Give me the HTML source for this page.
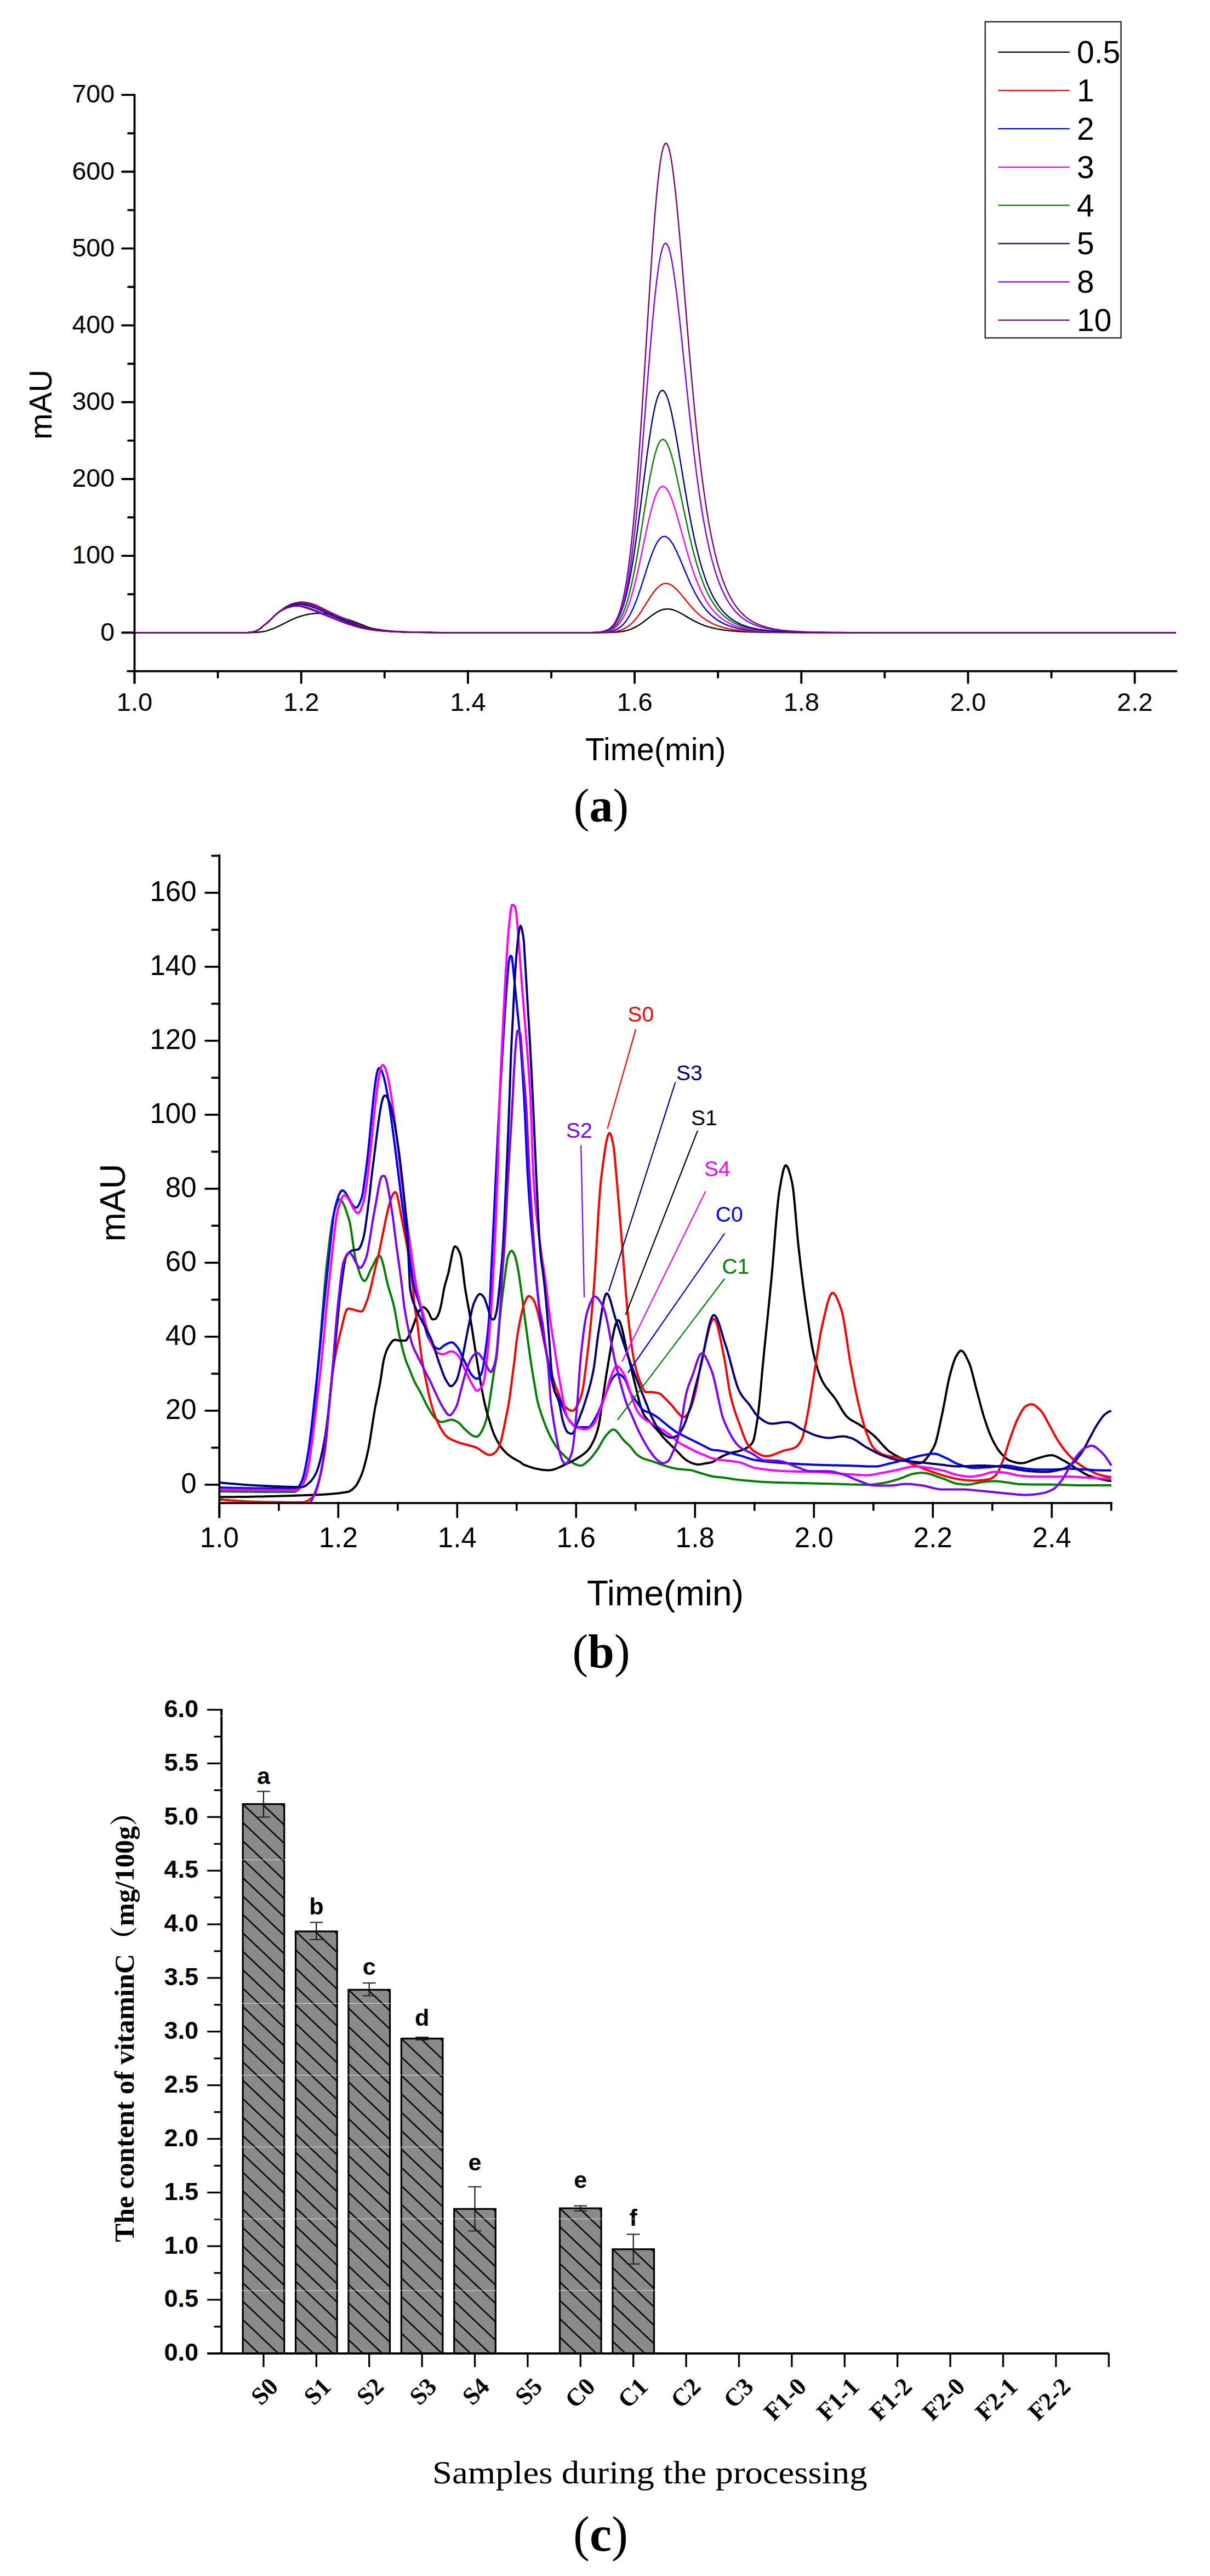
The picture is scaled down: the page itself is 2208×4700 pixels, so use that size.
<!DOCTYPE html>
<html><head><meta charset="utf-8"><title>Figure</title><style>
html,body{margin:0;padding:0;background:#fff;}
svg{display:block;}
.ta{font-family:"Liberation Sans",Arial,sans-serif;font-size:46.5px;fill:#000;}
.tax{font-family:"Liberation Sans",Arial,sans-serif;font-size:47px;fill:#000;}
.tal{font-family:"Liberation Sans",Arial,sans-serif;font-size:57.5px;fill:#000;}
.tleg{font-family:"Liberation Sans",Arial,sans-serif;font-size:57px;fill:#000;}
.tb{font-family:"Liberation Sans",Arial,sans-serif;font-size:51px;fill:#000;}
.tbl{font-family:"Liberation Sans",Arial,sans-serif;font-size:64px;fill:#000;}
.tann{font-family:"Liberation Sans",Arial,sans-serif;font-size:39px;}
.tc{font-family:"Liberation Sans",Arial,sans-serif;font-weight:bold;font-size:45px;fill:#000;}
.tcl{font-family:"Liberation Sans",Arial,sans-serif;font-weight:bold;font-size:43px;fill:#000;}
.tcx{font-family:"Liberation Serif","Times New Roman",serif;font-weight:bold;font-size:45px;fill:#000;}
.tcy{font-family:"Liberation Serif","Noto Serif CJK SC",serif;font-weight:bold;font-size:50.5px;fill:#000;}
.tcap{font-family:"Liberation Serif","Times New Roman",serif;font-size:60px;fill:#000;}
.cap{font-family:"Liberation Serif","Times New Roman",serif;font-size:86px;fill:#000;}
</style></head>
<body><svg width="2208" height="4700" viewBox="0 0 2208 4700">
<rect width="2208" height="4700" fill="#fff"/>
<polyline points="245.5,1154.3 248.0,1154.3 250.5,1154.3 253.0,1154.3 255.5,1154.3 258.0,1154.3 260.5,1154.3 263.0,1154.3 265.5,1154.3 268.0,1154.3 270.5,1154.3 273.0,1154.3 275.5,1154.3 278.0,1154.3 280.5,1154.3 283.0,1154.3 285.5,1154.3 288.0,1154.3 290.5,1154.3 293.0,1154.3 295.5,1154.3 298.0,1154.3 300.5,1154.3 303.0,1154.3 305.5,1154.3 308.0,1154.3 310.5,1154.3 313.0,1154.3 315.5,1154.3 318.0,1154.3 320.5,1154.3 323.0,1154.3 325.5,1154.3 328.0,1154.3 330.5,1154.3 333.0,1154.3 335.5,1154.3 338.0,1154.3 340.5,1154.3 343.0,1154.3 345.5,1154.3 348.0,1154.3 350.5,1154.3 353.0,1154.3 355.5,1154.3 358.0,1154.3 360.5,1154.3 363.0,1154.3 365.5,1154.3 368.0,1154.3 370.5,1154.3 373.0,1154.3 375.5,1154.3 378.0,1154.3 380.5,1154.3 383.0,1154.3 385.5,1154.3 388.0,1154.3 390.5,1154.3 393.0,1154.3 395.5,1154.3 398.0,1154.3 400.5,1154.3 403.0,1154.3 405.5,1154.3 408.0,1154.3 410.5,1154.3 413.0,1154.3 415.5,1154.3 418.0,1154.3 420.5,1154.3 423.0,1154.3 425.5,1154.3 428.0,1154.3 430.5,1154.3 433.0,1154.3 435.5,1154.3 438.0,1154.3 440.5,1154.3 443.0,1154.3 445.5,1154.3 448.0,1154.3 450.5,1154.3 453.0,1154.3 455.5,1154.2 458.0,1154.2 460.5,1154.1 463.0,1154.0 465.5,1153.8 468.0,1153.7 470.5,1153.5 473.0,1153.3 475.5,1153.0 478.0,1152.7 480.5,1152.3 483.0,1151.9 485.5,1151.3 488.0,1150.6 490.5,1149.7 493.0,1148.8 495.5,1147.9 498.0,1147.0 500.5,1146.0 503.0,1144.9 505.5,1143.8 508.0,1142.6 510.5,1141.5 513.0,1140.2 515.5,1139.1 518.0,1137.8 520.5,1136.5 523.0,1135.2 525.5,1133.9 528.0,1132.7 530.5,1131.5 533.0,1130.4 535.5,1129.3 538.0,1128.2 540.5,1127.2 543.0,1126.2 545.5,1125.3 548.0,1124.5 550.5,1123.8 553.0,1123.1 555.5,1122.4 558.0,1121.8 560.5,1121.2 563.0,1120.8 565.5,1120.4 568.0,1120.1 570.5,1119.7 573.0,1119.4 575.5,1119.2 578.0,1119.0 580.5,1119.0 583.0,1119.0 585.5,1119.1 588.0,1119.2 590.5,1119.3 593.0,1119.5 595.5,1119.7 598.0,1119.9 600.5,1120.2 603.0,1120.7 605.5,1121.2 608.0,1121.8 610.5,1122.4 613.0,1123.0 615.5,1123.7 618.0,1124.5 620.5,1125.4 623.0,1126.3 625.5,1127.3 628.0,1128.2 630.5,1129.1 633.0,1129.9 635.5,1130.7 638.0,1131.5 640.5,1132.3 643.0,1133.2 645.5,1134.1 648.0,1135.1 650.5,1136.0 653.0,1136.9 655.5,1137.9 658.0,1138.8 660.5,1139.8 663.0,1140.7 665.5,1141.8 668.0,1142.8 670.5,1143.8 673.0,1144.7 675.5,1145.5 678.0,1146.2 680.5,1146.7 683.0,1147.2 685.5,1147.7 688.0,1148.1 690.5,1148.5 693.0,1148.9 695.5,1149.3 698.0,1149.6 700.5,1149.9 703.0,1150.2 705.5,1150.4 708.0,1150.7 710.5,1150.9 713.0,1151.1 715.5,1151.4 718.0,1151.6 720.5,1151.8 723.0,1151.9 725.5,1152.1 728.0,1152.2 730.5,1152.4 733.0,1152.5 735.5,1152.6 738.0,1152.7 740.5,1152.8 743.0,1152.9 745.5,1153.0 748.0,1153.1 750.5,1153.2 753.0,1153.3 755.5,1153.4 758.0,1153.4 760.5,1153.5 763.0,1153.5 765.5,1153.6 768.0,1153.6 770.5,1153.7 773.0,1153.7 775.5,1153.7 778.0,1153.8 780.5,1153.8 783.0,1153.8 785.5,1153.9 788.0,1153.9 790.5,1153.9 793.0,1154.0 795.5,1154.0 798.0,1154.0 800.5,1154.0 803.0,1154.0 805.5,1154.1 808.0,1154.1 810.5,1154.1 813.0,1154.1 815.5,1154.1 818.0,1154.2 820.5,1154.2 823.0,1154.2 825.5,1154.2 828.0,1154.2 830.5,1154.2 833.0,1154.3 835.5,1154.3 838.0,1154.3 840.5,1154.3 843.0,1154.3 845.5,1154.3 848.0,1154.3 850.5,1154.3 853.0,1154.3 855.5,1154.3 858.0,1154.3 860.5,1154.3 863.0,1154.3 865.5,1154.3 868.0,1154.3 870.5,1154.3 873.0,1154.3 875.5,1154.3 878.0,1154.3 880.5,1154.3 883.0,1154.3 885.5,1154.3 888.0,1154.3 890.5,1154.3 893.0,1154.3 895.5,1154.3 898.0,1154.3 900.5,1154.3 903.0,1154.3 905.5,1154.3 908.0,1154.3 910.5,1154.3 913.0,1154.3 915.5,1154.3 918.0,1154.3 920.5,1154.3 923.0,1154.3 925.5,1154.3 928.0,1154.3 930.5,1154.3 933.0,1154.3 935.5,1154.3 938.0,1154.3 940.5,1154.3 943.0,1154.3 945.5,1154.3 948.0,1154.3 950.5,1154.3 953.0,1154.3 955.5,1154.3 958.0,1154.3 960.5,1154.3 963.0,1154.3 965.5,1154.3 968.0,1154.3 970.5,1154.3 973.0,1154.3 975.5,1154.3 978.0,1154.3 980.5,1154.3 983.0,1154.3 985.5,1154.3 988.0,1154.3 990.5,1154.3 993.0,1154.3 995.5,1154.3 998.0,1154.3 1000.5,1154.3 1003.0,1154.3 1005.5,1154.3 1008.0,1154.3 1010.5,1154.3 1013.0,1154.3 1015.5,1154.3 1018.0,1154.3 1020.5,1154.3 1023.0,1154.3 1025.5,1154.3 1028.0,1154.3 1030.5,1154.3 1033.0,1154.3 1035.5,1154.3 1038.0,1154.3 1040.5,1154.3 1043.0,1154.3 1045.5,1154.3 1048.0,1154.3 1050.5,1154.3 1053.0,1154.3 1055.5,1154.3 1058.0,1154.3 1060.5,1154.3 1063.0,1154.3 1065.5,1154.3 1068.0,1154.3 1070.5,1154.3 1073.0,1154.3 1075.5,1154.3 1078.0,1154.3 1080.5,1154.3 1083.0,1154.3 1085.5,1154.3 1088.0,1154.3 1090.5,1154.3 1093.0,1154.3 1095.5,1154.3 1098.0,1154.2 1100.5,1154.2 1103.0,1154.2 1105.5,1154.2 1108.0,1154.1 1110.5,1154.1 1113.0,1154.0 1115.5,1153.9 1118.0,1153.8 1120.5,1153.7 1123.0,1153.5 1125.5,1153.3 1128.0,1153.1 1130.5,1152.8 1133.0,1152.5 1135.5,1152.1 1138.0,1151.7 1140.5,1151.2 1143.0,1150.6 1145.5,1149.9 1148.0,1149.1 1150.5,1148.2 1153.0,1147.2 1155.5,1146.1 1158.0,1144.9 1160.5,1143.6 1163.0,1142.2 1165.5,1140.7 1168.0,1139.1 1170.5,1137.4 1173.0,1135.6 1175.5,1133.7 1178.0,1131.8 1180.5,1129.9 1183.0,1128.0 1185.5,1126.0 1188.0,1124.1 1190.5,1122.3 1193.0,1120.5 1195.5,1118.9 1198.0,1117.3 1200.5,1115.9 1203.0,1114.7 1205.5,1113.6 1208.0,1112.7 1210.5,1112.0 1213.0,1111.5 1215.5,1111.2 1218.0,1111.1 1220.5,1111.2 1223.0,1111.5 1225.5,1112.0 1228.0,1112.7 1230.5,1113.5 1233.0,1114.5 1235.5,1115.5 1238.0,1116.7 1240.5,1118.0 1243.0,1119.3 1245.5,1120.7 1248.0,1122.2 1250.5,1123.6 1253.0,1125.1 1255.5,1126.6 1258.0,1128.1 1260.5,1129.5 1263.0,1130.9 1265.5,1132.2 1268.0,1133.6 1270.5,1134.8 1273.0,1136.0 1275.5,1137.2 1278.0,1138.3 1280.5,1139.3 1283.0,1140.3 1285.5,1141.3 1288.0,1142.1 1290.5,1143.0 1293.0,1143.7 1295.5,1144.4 1298.0,1145.1 1300.5,1145.8 1303.0,1146.3 1305.5,1146.9 1308.0,1147.4 1310.5,1147.9 1313.0,1148.3 1315.5,1148.7 1318.0,1149.1 1320.5,1149.5 1323.0,1149.8 1325.5,1150.1 1328.0,1150.4 1330.5,1150.7 1333.0,1150.9 1335.5,1151.2 1338.0,1151.4 1340.5,1151.6 1343.0,1151.8 1345.5,1152.0 1348.0,1152.1 1350.5,1152.3 1353.0,1152.4 1355.5,1152.5 1358.0,1152.7 1360.5,1152.8 1363.0,1152.9 1365.5,1153.0 1368.0,1153.1 1370.5,1153.2 1373.0,1153.2 1375.5,1153.3 1378.0,1153.4 1380.5,1153.4 1383.0,1153.5 1385.5,1153.6 1388.0,1153.6 1390.5,1153.7 1393.0,1153.7 1395.5,1153.7 1398.0,1153.8 1400.5,1153.8 1403.0,1153.8 1405.5,1153.9 1408.0,1153.9 1410.5,1153.9 1413.0,1154.0 1415.5,1154.0 1418.0,1154.0 1420.5,1154.0 1423.0,1154.0 1425.5,1154.1 1428.0,1154.1 1430.5,1154.1 1433.0,1154.1 1435.5,1154.1 1438.0,1154.1 1440.5,1154.1 1443.0,1154.1 1445.5,1154.2 1448.0,1154.2 1450.5,1154.2 1453.0,1154.2 1455.5,1154.2 1458.0,1154.2 1460.5,1154.2 1463.0,1154.2 1465.5,1154.2 1468.0,1154.2 1470.5,1154.2 1473.0,1154.2 1475.5,1154.2 1478.0,1154.2 1480.5,1154.2 1483.0,1154.2 1485.5,1154.2 1488.0,1154.3 1490.5,1154.3 1493.0,1154.3 1495.5,1154.3 1498.0,1154.3 1500.5,1154.3 1503.0,1154.3 1505.5,1154.3 1508.0,1154.3 1510.5,1154.3 1513.0,1154.3 1515.5,1154.3 1518.0,1154.3 1520.5,1154.3 1523.0,1154.3 1525.5,1154.3 1528.0,1154.3 1530.5,1154.3 1533.0,1154.3 1535.5,1154.3 1538.0,1154.3 1540.5,1154.3 1543.0,1154.3 1545.5,1154.3 1548.0,1154.3 1550.5,1154.3 1553.0,1154.3 1555.5,1154.3 1558.0,1154.3 1560.5,1154.3 1563.0,1154.3 1565.5,1154.3 1568.0,1154.3 1570.5,1154.3 1573.0,1154.3 1575.5,1154.3 1578.0,1154.3 1580.5,1154.3 1583.0,1154.3 1585.5,1154.3 1588.0,1154.3 1590.5,1154.3 1593.0,1154.3 1595.5,1154.3 1598.0,1154.3 1600.5,1154.3 1603.0,1154.3 1605.5,1154.3 1608.0,1154.3 1610.5,1154.3 1613.0,1154.3 1615.5,1154.3 1618.0,1154.3 1620.5,1154.3 1623.0,1154.3 1625.5,1154.3 1628.0,1154.3 1630.5,1154.3 1633.0,1154.3 1635.5,1154.3 1638.0,1154.3 1640.5,1154.3 1643.0,1154.3 1645.5,1154.3 1648.0,1154.3 1650.5,1154.3 1653.0,1154.3 1655.5,1154.3 1658.0,1154.3 1660.5,1154.3 1663.0,1154.3 1665.5,1154.3 1668.0,1154.3 1670.5,1154.3 1673.0,1154.3 1675.5,1154.3 1678.0,1154.3 1680.5,1154.3 1683.0,1154.3 1685.5,1154.3 1688.0,1154.3 1690.5,1154.3 1693.0,1154.3 1695.5,1154.3 1698.0,1154.3 1700.5,1154.3 1703.0,1154.3 1705.5,1154.3 1708.0,1154.3 1710.5,1154.3 1713.0,1154.3 1715.5,1154.3 1718.0,1154.3 1720.5,1154.3 1723.0,1154.3 1725.5,1154.3 1728.0,1154.3 1730.5,1154.3 1733.0,1154.3 1735.5,1154.3 1738.0,1154.3 1740.5,1154.3 1743.0,1154.3 1745.5,1154.3 1748.0,1154.3 1750.5,1154.3 1753.0,1154.3 1755.5,1154.3 1758.0,1154.3 1760.5,1154.3 1763.0,1154.3 1765.5,1154.3 1768.0,1154.3 1770.5,1154.3 1773.0,1154.3 1775.5,1154.3 1778.0,1154.3 1780.5,1154.3 1783.0,1154.3 1785.5,1154.3 1788.0,1154.3 1790.5,1154.3 1793.0,1154.3 1795.5,1154.3 1798.0,1154.3 1800.5,1154.3 1803.0,1154.3 1805.5,1154.3 1808.0,1154.3 1810.5,1154.3 1813.0,1154.3 1815.5,1154.3 1818.0,1154.3 1820.5,1154.3 1823.0,1154.3 1825.5,1154.3 1828.0,1154.3 1830.5,1154.3 1833.0,1154.3 1835.5,1154.3 1838.0,1154.3 1840.5,1154.3 1843.0,1154.3 1845.5,1154.3 1848.0,1154.3 1850.5,1154.3 1853.0,1154.3 1855.5,1154.3 1858.0,1154.3 1860.5,1154.3 1863.0,1154.3 1865.5,1154.3 1868.0,1154.3 1870.5,1154.3 1873.0,1154.3 1875.5,1154.3 1878.0,1154.3 1880.5,1154.3 1883.0,1154.3 1885.5,1154.3 1888.0,1154.3 1890.5,1154.3 1893.0,1154.3 1895.5,1154.3 1898.0,1154.3 1900.5,1154.3 1903.0,1154.3 1905.5,1154.3 1908.0,1154.3 1910.5,1154.3 1913.0,1154.3 1915.5,1154.3 1918.0,1154.3 1920.5,1154.3 1923.0,1154.3 1925.5,1154.3 1928.0,1154.3 1930.5,1154.3 1933.0,1154.3 1935.5,1154.3 1938.0,1154.3 1940.5,1154.3 1943.0,1154.3 1945.5,1154.3 1948.0,1154.3 1950.5,1154.3 1953.0,1154.3 1955.5,1154.3 1958.0,1154.3 1960.5,1154.3 1963.0,1154.3 1965.5,1154.3 1968.0,1154.3 1970.5,1154.3 1973.0,1154.3 1975.5,1154.3 1978.0,1154.3 1980.5,1154.3 1983.0,1154.3 1985.5,1154.3 1988.0,1154.3 1990.5,1154.3 1993.0,1154.3 1995.5,1154.3 1998.0,1154.3 2000.5,1154.3 2003.0,1154.3 2005.5,1154.3 2008.0,1154.3 2010.5,1154.3 2013.0,1154.3 2015.5,1154.3 2018.0,1154.3 2020.5,1154.3 2023.0,1154.3 2025.5,1154.3 2028.0,1154.3 2030.5,1154.3 2033.0,1154.3 2035.5,1154.3 2038.0,1154.3 2040.5,1154.3 2043.0,1154.3 2045.5,1154.3 2048.0,1154.3 2050.5,1154.3 2053.0,1154.3 2055.5,1154.3 2058.0,1154.3 2060.5,1154.3 2063.0,1154.3 2065.5,1154.3 2068.0,1154.3 2070.5,1154.3 2073.0,1154.3 2075.5,1154.3 2078.0,1154.3 2080.5,1154.3 2083.0,1154.3 2085.5,1154.3 2088.0,1154.3 2090.5,1154.3 2093.0,1154.3 2095.5,1154.3 2098.0,1154.3 2100.5,1154.3 2103.0,1154.3 2105.5,1154.3 2108.0,1154.3 2110.5,1154.3 2113.0,1154.3 2115.5,1154.3 2118.0,1154.3 2120.5,1154.3 2123.0,1154.3 2125.5,1154.3 2128.0,1154.3 2130.5,1154.3 2133.0,1154.3 2135.5,1154.3 2138.0,1154.3 2140.5,1154.3 2143.0,1154.3 2145.5,1154.3" fill="none" stroke="#000000" stroke-width="2.4" stroke-linejoin="round"/>
<polyline points="245.5,1154.3 248.0,1154.3 250.5,1154.3 253.0,1154.3 255.5,1154.3 258.0,1154.3 260.5,1154.3 263.0,1154.3 265.5,1154.3 268.0,1154.3 270.5,1154.3 273.0,1154.3 275.5,1154.3 278.0,1154.3 280.5,1154.3 283.0,1154.3 285.5,1154.3 288.0,1154.3 290.5,1154.3 293.0,1154.3 295.5,1154.3 298.0,1154.3 300.5,1154.3 303.0,1154.3 305.5,1154.3 308.0,1154.3 310.5,1154.3 313.0,1154.3 315.5,1154.3 318.0,1154.3 320.5,1154.3 323.0,1154.3 325.5,1154.3 328.0,1154.3 330.5,1154.3 333.0,1154.3 335.5,1154.3 338.0,1154.3 340.5,1154.3 343.0,1154.3 345.5,1154.3 348.0,1154.3 350.5,1154.3 353.0,1154.3 355.5,1154.3 358.0,1154.3 360.5,1154.3 363.0,1154.3 365.5,1154.3 368.0,1154.3 370.5,1154.3 373.0,1154.3 375.5,1154.3 378.0,1154.3 380.5,1154.3 383.0,1154.3 385.5,1154.3 388.0,1154.3 390.5,1154.3 393.0,1154.3 395.5,1154.3 398.0,1154.3 400.5,1154.3 403.0,1154.3 405.5,1154.3 408.0,1154.3 410.5,1154.3 413.0,1154.3 415.5,1154.3 418.0,1154.3 420.5,1154.3 423.0,1154.3 425.5,1154.3 428.0,1154.3 430.5,1154.3 433.0,1154.3 435.5,1154.3 438.0,1154.3 440.5,1154.3 443.0,1154.3 445.5,1154.3 448.0,1154.2 450.5,1154.1 453.0,1154.0 455.5,1153.7 458.0,1153.4 460.5,1153.0 463.0,1152.5 465.5,1151.9 468.0,1150.9 470.5,1149.5 473.0,1148.1 475.5,1146.3 478.0,1144.1 480.5,1141.9 483.0,1139.9 485.5,1138.0 488.0,1136.0 490.5,1133.9 493.0,1131.4 495.5,1128.8 498.0,1126.3 500.5,1124.0 503.0,1121.7 505.5,1119.5 508.0,1117.4 510.5,1115.4 513.0,1113.4 515.5,1111.6 518.0,1109.7 520.5,1108.0 523.0,1106.4 525.5,1105.0 528.0,1103.7 530.5,1102.6 533.0,1101.7 535.5,1100.9 538.0,1100.2 540.5,1099.6 543.0,1099.1 545.5,1098.7 548.0,1098.4 550.5,1098.4 553.0,1098.5 555.5,1098.8 558.0,1099.1 560.5,1099.4 563.0,1099.9 565.5,1100.5 568.0,1101.2 570.5,1101.9 573.0,1102.7 575.5,1103.6 578.0,1104.7 580.5,1105.8 583.0,1107.0 585.5,1108.3 588.0,1109.5 590.5,1110.7 593.0,1112.0 595.5,1113.3 598.0,1114.6 600.5,1115.9 603.0,1117.1 605.5,1118.4 608.0,1119.5 610.5,1120.7 613.0,1121.8 615.5,1122.9 618.0,1124.0 620.5,1125.1 623.0,1126.3 625.5,1127.4 628.0,1128.6 630.5,1129.7 633.0,1130.9 635.5,1132.0 638.0,1133.1 640.5,1134.2 643.0,1135.3 645.5,1136.3 648.0,1137.4 650.5,1138.4 653.0,1139.4 655.5,1140.3 658.0,1141.3 660.5,1142.1 663.0,1143.0 665.5,1143.9 668.0,1144.7 670.5,1145.5 673.0,1146.2 675.5,1146.9 678.0,1147.4 680.5,1147.9 683.0,1148.4 685.5,1148.8 688.0,1149.2 690.5,1149.6 693.0,1149.9 695.5,1150.2 698.0,1150.5 700.5,1150.7 703.0,1150.9 705.5,1151.1 708.0,1151.3 710.5,1151.5 713.0,1151.7 715.5,1151.8 718.0,1152.0 720.5,1152.1 723.0,1152.3 725.5,1152.4 728.0,1152.5 730.5,1152.6 733.0,1152.7 735.5,1152.8 738.0,1152.9 740.5,1153.0 743.0,1153.1 745.5,1153.2 748.0,1153.3 750.5,1153.4 753.0,1153.4 755.5,1153.5 758.0,1153.6 760.5,1153.6 763.0,1153.7 765.5,1153.7 768.0,1153.7 770.5,1153.8 773.0,1153.8 775.5,1153.8 778.0,1153.9 780.5,1153.9 783.0,1153.9 785.5,1154.0 788.0,1154.0 790.5,1154.0 793.0,1154.0 795.5,1154.1 798.0,1154.1 800.5,1154.1 803.0,1154.1 805.5,1154.1 808.0,1154.1 810.5,1154.2 813.0,1154.2 815.5,1154.2 818.0,1154.2 820.5,1154.2 823.0,1154.2 825.5,1154.2 828.0,1154.2 830.5,1154.3 833.0,1154.3 835.5,1154.3 838.0,1154.3 840.5,1154.3 843.0,1154.3 845.5,1154.3 848.0,1154.3 850.5,1154.3 853.0,1154.3 855.5,1154.3 858.0,1154.3 860.5,1154.3 863.0,1154.3 865.5,1154.3 868.0,1154.3 870.5,1154.3 873.0,1154.3 875.5,1154.3 878.0,1154.3 880.5,1154.3 883.0,1154.3 885.5,1154.3 888.0,1154.3 890.5,1154.3 893.0,1154.3 895.5,1154.3 898.0,1154.3 900.5,1154.3 903.0,1154.3 905.5,1154.3 908.0,1154.3 910.5,1154.3 913.0,1154.3 915.5,1154.3 918.0,1154.3 920.5,1154.3 923.0,1154.3 925.5,1154.3 928.0,1154.3 930.5,1154.3 933.0,1154.3 935.5,1154.3 938.0,1154.3 940.5,1154.3 943.0,1154.3 945.5,1154.3 948.0,1154.3 950.5,1154.3 953.0,1154.3 955.5,1154.3 958.0,1154.3 960.5,1154.3 963.0,1154.3 965.5,1154.3 968.0,1154.3 970.5,1154.3 973.0,1154.3 975.5,1154.3 978.0,1154.3 980.5,1154.3 983.0,1154.3 985.5,1154.3 988.0,1154.3 990.5,1154.3 993.0,1154.3 995.5,1154.3 998.0,1154.3 1000.5,1154.3 1003.0,1154.3 1005.5,1154.3 1008.0,1154.3 1010.5,1154.3 1013.0,1154.3 1015.5,1154.3 1018.0,1154.3 1020.5,1154.3 1023.0,1154.3 1025.5,1154.3 1028.0,1154.3 1030.5,1154.3 1033.0,1154.3 1035.5,1154.3 1038.0,1154.3 1040.5,1154.3 1043.0,1154.3 1045.5,1154.3 1048.0,1154.3 1050.5,1154.3 1053.0,1154.3 1055.5,1154.3 1058.0,1154.3 1060.5,1154.3 1063.0,1154.3 1065.5,1154.3 1068.0,1154.3 1070.5,1154.3 1073.0,1154.3 1075.5,1154.3 1078.0,1154.3 1080.5,1154.3 1083.0,1154.3 1085.5,1154.3 1088.0,1154.2 1090.5,1154.2 1093.0,1154.2 1095.5,1154.2 1098.0,1154.1 1100.5,1154.1 1103.0,1154.0 1105.5,1153.9 1108.0,1153.8 1110.5,1153.7 1113.0,1153.5 1115.5,1153.3 1118.0,1153.0 1120.5,1152.7 1123.0,1152.3 1125.5,1151.8 1128.0,1151.2 1130.5,1150.5 1133.0,1149.7 1135.5,1148.8 1138.0,1147.7 1140.5,1146.4 1143.0,1145.0 1145.5,1143.3 1148.0,1141.5 1150.5,1139.4 1153.0,1137.1 1155.5,1134.6 1158.0,1131.9 1160.5,1128.9 1163.0,1125.7 1165.5,1122.4 1168.0,1118.8 1170.5,1115.1 1173.0,1111.2 1175.5,1107.2 1178.0,1103.2 1180.5,1099.2 1183.0,1095.1 1185.5,1091.2 1188.0,1087.4 1190.5,1083.7 1193.0,1080.3 1195.5,1077.1 1198.0,1074.2 1200.5,1071.6 1203.0,1069.4 1205.5,1067.6 1208.0,1066.2 1210.5,1065.2 1213.0,1064.6 1215.5,1064.5 1218.0,1064.7 1220.5,1065.4 1223.0,1066.4 1225.5,1067.8 1228.0,1069.5 1230.5,1071.5 1233.0,1073.8 1235.5,1076.3 1238.0,1079.0 1240.5,1081.8 1243.0,1084.7 1245.5,1087.7 1248.0,1090.8 1250.5,1093.8 1253.0,1096.9 1255.5,1099.9 1258.0,1102.9 1260.5,1105.8 1263.0,1108.6 1265.5,1111.4 1268.0,1114.0 1270.5,1116.5 1273.0,1118.9 1275.5,1121.2 1278.0,1123.3 1280.5,1125.4 1283.0,1127.3 1285.5,1129.1 1288.0,1130.8 1290.5,1132.4 1293.0,1133.9 1295.5,1135.3 1298.0,1136.6 1300.5,1137.8 1303.0,1139.0 1305.5,1140.0 1308.0,1141.0 1310.5,1141.9 1313.0,1142.8 1315.5,1143.6 1318.0,1144.4 1320.5,1145.0 1323.0,1145.7 1325.5,1146.3 1328.0,1146.8 1330.5,1147.4 1333.0,1147.8 1335.5,1148.3 1338.0,1148.7 1340.5,1149.1 1343.0,1149.5 1345.5,1149.8 1348.0,1150.1 1350.5,1150.4 1353.0,1150.7 1355.5,1150.9 1358.0,1151.2 1360.5,1151.4 1363.0,1151.6 1365.5,1151.8 1368.0,1151.9 1370.5,1152.1 1373.0,1152.2 1375.5,1152.4 1378.0,1152.5 1380.5,1152.6 1383.0,1152.8 1385.5,1152.9 1388.0,1153.0 1390.5,1153.0 1393.0,1153.1 1395.5,1153.2 1398.0,1153.3 1400.5,1153.4 1403.0,1153.4 1405.5,1153.5 1408.0,1153.5 1410.5,1153.6 1413.0,1153.6 1415.5,1153.7 1418.0,1153.7 1420.5,1153.8 1423.0,1153.8 1425.5,1153.8 1428.0,1153.9 1430.5,1153.9 1433.0,1153.9 1435.5,1153.9 1438.0,1154.0 1440.5,1154.0 1443.0,1154.0 1445.5,1154.0 1448.0,1154.0 1450.5,1154.1 1453.0,1154.1 1455.5,1154.1 1458.0,1154.1 1460.5,1154.1 1463.0,1154.1 1465.5,1154.1 1468.0,1154.1 1470.5,1154.2 1473.0,1154.2 1475.5,1154.2 1478.0,1154.2 1480.5,1154.2 1483.0,1154.2 1485.5,1154.2 1488.0,1154.2 1490.5,1154.2 1493.0,1154.2 1495.5,1154.2 1498.0,1154.2 1500.5,1154.2 1503.0,1154.2 1505.5,1154.2 1508.0,1154.2 1510.5,1154.2 1513.0,1154.2 1515.5,1154.3 1518.0,1154.3 1520.5,1154.3 1523.0,1154.3 1525.5,1154.3 1528.0,1154.3 1530.5,1154.3 1533.0,1154.3 1535.5,1154.3 1538.0,1154.3 1540.5,1154.3 1543.0,1154.3 1545.5,1154.3 1548.0,1154.3 1550.5,1154.3 1553.0,1154.3 1555.5,1154.3 1558.0,1154.3 1560.5,1154.3 1563.0,1154.3 1565.5,1154.3 1568.0,1154.3 1570.5,1154.3 1573.0,1154.3 1575.5,1154.3 1578.0,1154.3 1580.5,1154.3 1583.0,1154.3 1585.5,1154.3 1588.0,1154.3 1590.5,1154.3 1593.0,1154.3 1595.5,1154.3 1598.0,1154.3 1600.5,1154.3 1603.0,1154.3 1605.5,1154.3 1608.0,1154.3 1610.5,1154.3 1613.0,1154.3 1615.5,1154.3 1618.0,1154.3 1620.5,1154.3 1623.0,1154.3 1625.5,1154.3 1628.0,1154.3 1630.5,1154.3 1633.0,1154.3 1635.5,1154.3 1638.0,1154.3 1640.5,1154.3 1643.0,1154.3 1645.5,1154.3 1648.0,1154.3 1650.5,1154.3 1653.0,1154.3 1655.5,1154.3 1658.0,1154.3 1660.5,1154.3 1663.0,1154.3 1665.5,1154.3 1668.0,1154.3 1670.5,1154.3 1673.0,1154.3 1675.5,1154.3 1678.0,1154.3 1680.5,1154.3 1683.0,1154.3 1685.5,1154.3 1688.0,1154.3 1690.5,1154.3 1693.0,1154.3 1695.5,1154.3 1698.0,1154.3 1700.5,1154.3 1703.0,1154.3 1705.5,1154.3 1708.0,1154.3 1710.5,1154.3 1713.0,1154.3 1715.5,1154.3 1718.0,1154.3 1720.5,1154.3 1723.0,1154.3 1725.5,1154.3 1728.0,1154.3 1730.5,1154.3 1733.0,1154.3 1735.5,1154.3 1738.0,1154.3 1740.5,1154.3 1743.0,1154.3 1745.5,1154.3 1748.0,1154.3 1750.5,1154.3 1753.0,1154.3 1755.5,1154.3 1758.0,1154.3 1760.5,1154.3 1763.0,1154.3 1765.5,1154.3 1768.0,1154.3 1770.5,1154.3 1773.0,1154.3 1775.5,1154.3 1778.0,1154.3 1780.5,1154.3 1783.0,1154.3 1785.5,1154.3 1788.0,1154.3 1790.5,1154.3 1793.0,1154.3 1795.5,1154.3 1798.0,1154.3 1800.5,1154.3 1803.0,1154.3 1805.5,1154.3 1808.0,1154.3 1810.5,1154.3 1813.0,1154.3 1815.5,1154.3 1818.0,1154.3 1820.5,1154.3 1823.0,1154.3 1825.5,1154.3 1828.0,1154.3 1830.5,1154.3 1833.0,1154.3 1835.5,1154.3 1838.0,1154.3 1840.5,1154.3 1843.0,1154.3 1845.5,1154.3 1848.0,1154.3 1850.5,1154.3 1853.0,1154.3 1855.5,1154.3 1858.0,1154.3 1860.5,1154.3 1863.0,1154.3 1865.5,1154.3 1868.0,1154.3 1870.5,1154.3 1873.0,1154.3 1875.5,1154.3 1878.0,1154.3 1880.5,1154.3 1883.0,1154.3 1885.5,1154.3 1888.0,1154.3 1890.5,1154.3 1893.0,1154.3 1895.5,1154.3 1898.0,1154.3 1900.5,1154.3 1903.0,1154.3 1905.5,1154.3 1908.0,1154.3 1910.5,1154.3 1913.0,1154.3 1915.5,1154.3 1918.0,1154.3 1920.5,1154.3 1923.0,1154.3 1925.5,1154.3 1928.0,1154.3 1930.5,1154.3 1933.0,1154.3 1935.5,1154.3 1938.0,1154.3 1940.5,1154.3 1943.0,1154.3 1945.5,1154.3 1948.0,1154.3 1950.5,1154.3 1953.0,1154.3 1955.5,1154.3 1958.0,1154.3 1960.5,1154.3 1963.0,1154.3 1965.5,1154.3 1968.0,1154.3 1970.5,1154.3 1973.0,1154.3 1975.5,1154.3 1978.0,1154.3 1980.5,1154.3 1983.0,1154.3 1985.5,1154.3 1988.0,1154.3 1990.5,1154.3 1993.0,1154.3 1995.5,1154.3 1998.0,1154.3 2000.5,1154.3 2003.0,1154.3 2005.5,1154.3 2008.0,1154.3 2010.5,1154.3 2013.0,1154.3 2015.5,1154.3 2018.0,1154.3 2020.5,1154.3 2023.0,1154.3 2025.5,1154.3 2028.0,1154.3 2030.5,1154.3 2033.0,1154.3 2035.5,1154.3 2038.0,1154.3 2040.5,1154.3 2043.0,1154.3 2045.5,1154.3 2048.0,1154.3 2050.5,1154.3 2053.0,1154.3 2055.5,1154.3 2058.0,1154.3 2060.5,1154.3 2063.0,1154.3 2065.5,1154.3 2068.0,1154.3 2070.5,1154.3 2073.0,1154.3 2075.5,1154.3 2078.0,1154.3 2080.5,1154.3 2083.0,1154.3 2085.5,1154.3 2088.0,1154.3 2090.5,1154.3 2093.0,1154.3 2095.5,1154.3 2098.0,1154.3 2100.5,1154.3 2103.0,1154.3 2105.5,1154.3 2108.0,1154.3 2110.5,1154.3 2113.0,1154.3 2115.5,1154.3 2118.0,1154.3 2120.5,1154.3 2123.0,1154.3 2125.5,1154.3 2128.0,1154.3 2130.5,1154.3 2133.0,1154.3 2135.5,1154.3 2138.0,1154.3 2140.5,1154.3 2143.0,1154.3 2145.5,1154.3" fill="none" stroke="#FF0000" stroke-width="2.4" stroke-linejoin="round"/>
<polyline points="245.5,1154.3 248.0,1154.3 250.5,1154.3 253.0,1154.3 255.5,1154.3 258.0,1154.3 260.5,1154.3 263.0,1154.3 265.5,1154.3 268.0,1154.3 270.5,1154.3 273.0,1154.3 275.5,1154.3 278.0,1154.3 280.5,1154.3 283.0,1154.3 285.5,1154.3 288.0,1154.3 290.5,1154.3 293.0,1154.3 295.5,1154.3 298.0,1154.3 300.5,1154.3 303.0,1154.3 305.5,1154.3 308.0,1154.3 310.5,1154.3 313.0,1154.3 315.5,1154.3 318.0,1154.3 320.5,1154.3 323.0,1154.3 325.5,1154.3 328.0,1154.3 330.5,1154.3 333.0,1154.3 335.5,1154.3 338.0,1154.3 340.5,1154.3 343.0,1154.3 345.5,1154.3 348.0,1154.3 350.5,1154.3 353.0,1154.3 355.5,1154.3 358.0,1154.3 360.5,1154.3 363.0,1154.3 365.5,1154.3 368.0,1154.3 370.5,1154.3 373.0,1154.3 375.5,1154.3 378.0,1154.3 380.5,1154.3 383.0,1154.3 385.5,1154.3 388.0,1154.3 390.5,1154.3 393.0,1154.3 395.5,1154.3 398.0,1154.3 400.5,1154.3 403.0,1154.3 405.5,1154.3 408.0,1154.3 410.5,1154.3 413.0,1154.3 415.5,1154.3 418.0,1154.3 420.5,1154.3 423.0,1154.3 425.5,1154.3 428.0,1154.3 430.5,1154.3 433.0,1154.3 435.5,1154.3 438.0,1154.3 440.5,1154.3 443.0,1154.3 445.5,1154.3 448.0,1154.2 450.5,1154.1 453.0,1154.0 455.5,1153.7 458.0,1153.4 460.5,1153.0 463.0,1152.5 465.5,1151.9 468.0,1150.9 470.5,1149.5 473.0,1148.1 475.5,1146.3 478.0,1144.1 480.5,1141.9 483.0,1139.9 485.5,1138.0 488.0,1136.0 490.5,1133.9 493.0,1131.4 495.5,1128.8 498.0,1126.3 500.5,1124.0 503.0,1121.7 505.5,1119.5 508.0,1117.4 510.5,1115.5 513.0,1113.6 515.5,1111.9 518.0,1110.1 520.5,1108.5 523.0,1107.1 525.5,1105.8 528.0,1104.6 530.5,1103.5 533.0,1102.7 535.5,1101.9 538.0,1101.3 540.5,1100.9 543.0,1100.5 545.5,1100.1 548.0,1100.0 550.5,1100.1 553.0,1100.3 555.5,1100.7 558.0,1101.1 560.5,1101.5 563.0,1102.1 565.5,1102.7 568.0,1103.4 570.5,1104.2 573.0,1105.0 575.5,1106.0 578.0,1107.0 580.5,1108.1 583.0,1109.3 585.5,1110.5 588.0,1111.7 590.5,1112.8 593.0,1114.0 595.5,1115.3 598.0,1116.5 600.5,1117.8 603.0,1119.0 605.5,1120.2 608.0,1121.3 610.5,1122.4 613.0,1123.5 615.5,1124.6 618.0,1125.7 620.5,1126.8 623.0,1127.9 625.5,1129.0 628.0,1130.1 630.5,1131.2 633.0,1132.3 635.5,1133.4 638.0,1134.4 640.5,1135.4 643.0,1136.4 645.5,1137.4 648.0,1138.4 650.5,1139.4 653.0,1140.3 655.5,1141.2 658.0,1142.1 660.5,1142.9 663.0,1143.7 665.5,1144.5 668.0,1145.3 670.5,1146.0 673.0,1146.7 675.5,1147.3 678.0,1147.8 680.5,1148.2 683.0,1148.7 685.5,1149.1 688.0,1149.4 690.5,1149.8 693.0,1150.1 695.5,1150.4 698.0,1150.6 700.5,1150.9 703.0,1151.1 705.5,1151.3 708.0,1151.5 710.5,1151.6 713.0,1151.8 715.5,1152.0 718.0,1152.1 720.5,1152.3 723.0,1152.4 725.5,1152.5 728.0,1152.6 730.5,1152.7 733.0,1152.8 735.5,1152.9 738.0,1153.0 740.5,1153.1 743.0,1153.2 745.5,1153.3 748.0,1153.4 750.5,1153.4 753.0,1153.5 755.5,1153.6 758.0,1153.6 760.5,1153.7 763.0,1153.7 765.5,1153.7 768.0,1153.8 770.5,1153.8 773.0,1153.9 775.5,1153.9 778.0,1153.9 780.5,1153.9 783.0,1154.0 785.5,1154.0 788.0,1154.0 790.5,1154.0 793.0,1154.1 795.5,1154.1 798.0,1154.1 800.5,1154.1 803.0,1154.1 805.5,1154.1 808.0,1154.2 810.5,1154.2 813.0,1154.2 815.5,1154.2 818.0,1154.2 820.5,1154.2 823.0,1154.2 825.5,1154.2 828.0,1154.3 830.5,1154.3 833.0,1154.3 835.5,1154.3 838.0,1154.3 840.5,1154.3 843.0,1154.3 845.5,1154.3 848.0,1154.3 850.5,1154.3 853.0,1154.3 855.5,1154.3 858.0,1154.3 860.5,1154.3 863.0,1154.3 865.5,1154.3 868.0,1154.3 870.5,1154.3 873.0,1154.3 875.5,1154.3 878.0,1154.3 880.5,1154.3 883.0,1154.3 885.5,1154.3 888.0,1154.3 890.5,1154.3 893.0,1154.3 895.5,1154.3 898.0,1154.3 900.5,1154.3 903.0,1154.3 905.5,1154.3 908.0,1154.3 910.5,1154.3 913.0,1154.3 915.5,1154.3 918.0,1154.3 920.5,1154.3 923.0,1154.3 925.5,1154.3 928.0,1154.3 930.5,1154.3 933.0,1154.3 935.5,1154.3 938.0,1154.3 940.5,1154.3 943.0,1154.3 945.5,1154.3 948.0,1154.3 950.5,1154.3 953.0,1154.3 955.5,1154.3 958.0,1154.3 960.5,1154.3 963.0,1154.3 965.5,1154.3 968.0,1154.3 970.5,1154.3 973.0,1154.3 975.5,1154.3 978.0,1154.3 980.5,1154.3 983.0,1154.3 985.5,1154.3 988.0,1154.3 990.5,1154.3 993.0,1154.3 995.5,1154.3 998.0,1154.3 1000.5,1154.3 1003.0,1154.3 1005.5,1154.3 1008.0,1154.3 1010.5,1154.3 1013.0,1154.3 1015.5,1154.3 1018.0,1154.3 1020.5,1154.3 1023.0,1154.3 1025.5,1154.3 1028.0,1154.3 1030.5,1154.3 1033.0,1154.3 1035.5,1154.3 1038.0,1154.3 1040.5,1154.3 1043.0,1154.3 1045.5,1154.3 1048.0,1154.3 1050.5,1154.3 1053.0,1154.3 1055.5,1154.3 1058.0,1154.3 1060.5,1154.3 1063.0,1154.3 1065.5,1154.3 1068.0,1154.3 1070.5,1154.3 1073.0,1154.3 1075.5,1154.3 1078.0,1154.3 1080.5,1154.2 1083.0,1154.2 1085.5,1154.2 1088.0,1154.2 1090.5,1154.1 1093.0,1154.0 1095.5,1154.0 1098.0,1153.9 1100.5,1153.7 1103.0,1153.5 1105.5,1153.3 1108.0,1153.0 1110.5,1152.7 1113.0,1152.2 1115.5,1151.7 1118.0,1151.0 1120.5,1150.2 1123.0,1149.2 1125.5,1148.1 1128.0,1146.7 1130.5,1145.1 1133.0,1143.2 1135.5,1141.0 1138.0,1138.5 1140.5,1135.6 1143.0,1132.3 1145.5,1128.6 1148.0,1124.5 1150.5,1120.0 1153.0,1115.0 1155.5,1109.6 1158.0,1103.7 1160.5,1097.4 1163.0,1090.8 1165.5,1083.7 1168.0,1076.4 1170.5,1068.8 1173.0,1061.0 1175.5,1053.2 1178.0,1045.3 1180.5,1037.4 1183.0,1029.7 1185.5,1022.3 1188.0,1015.2 1190.5,1008.5 1193.0,1002.4 1195.5,996.8 1198.0,991.9 1200.5,987.7 1203.0,984.3 1205.5,981.6 1208.0,979.8 1210.5,978.9 1213.0,978.7 1215.5,979.4 1218.0,980.8 1220.5,982.9 1223.0,985.7 1225.5,989.2 1228.0,993.2 1230.5,997.7 1233.0,1002.6 1235.5,1007.9 1238.0,1013.4 1240.5,1019.2 1243.0,1025.1 1245.5,1031.0 1248.0,1037.0 1250.5,1043.0 1253.0,1048.9 1255.5,1054.7 1258.0,1060.4 1260.5,1065.9 1263.0,1071.2 1265.5,1076.3 1268.0,1081.2 1270.5,1085.8 1273.0,1090.2 1275.5,1094.4 1278.0,1098.4 1280.5,1102.1 1283.0,1105.6 1285.5,1108.9 1288.0,1112.0 1290.5,1114.9 1293.0,1117.6 1295.5,1120.1 1298.0,1122.5 1300.5,1124.7 1303.0,1126.7 1305.5,1128.7 1308.0,1130.4 1310.5,1132.1 1313.0,1133.6 1315.5,1135.1 1318.0,1136.4 1320.5,1137.7 1323.0,1138.8 1325.5,1139.9 1328.0,1140.9 1330.5,1141.8 1333.0,1142.7 1335.5,1143.5 1338.0,1144.2 1340.5,1144.9 1343.0,1145.6 1345.5,1146.2 1348.0,1146.8 1350.5,1147.3 1353.0,1147.8 1355.5,1148.2 1358.0,1148.6 1360.5,1149.0 1363.0,1149.4 1365.5,1149.7 1368.0,1150.0 1370.5,1150.3 1373.0,1150.6 1375.5,1150.9 1378.0,1151.1 1380.5,1151.3 1383.0,1151.5 1385.5,1151.7 1388.0,1151.9 1390.5,1152.0 1393.0,1152.2 1395.5,1152.3 1398.0,1152.5 1400.5,1152.6 1403.0,1152.7 1405.5,1152.8 1408.0,1152.9 1410.5,1153.0 1413.0,1153.1 1415.5,1153.2 1418.0,1153.2 1420.5,1153.3 1423.0,1153.4 1425.5,1153.4 1428.0,1153.5 1430.5,1153.6 1433.0,1153.6 1435.5,1153.6 1438.0,1153.7 1440.5,1153.7 1443.0,1153.8 1445.5,1153.8 1448.0,1153.8 1450.5,1153.9 1453.0,1153.9 1455.5,1153.9 1458.0,1153.9 1460.5,1154.0 1463.0,1154.0 1465.5,1154.0 1468.0,1154.0 1470.5,1154.0 1473.0,1154.1 1475.5,1154.1 1478.0,1154.1 1480.5,1154.1 1483.0,1154.1 1485.5,1154.1 1488.0,1154.1 1490.5,1154.1 1493.0,1154.1 1495.5,1154.2 1498.0,1154.2 1500.5,1154.2 1503.0,1154.2 1505.5,1154.2 1508.0,1154.2 1510.5,1154.2 1513.0,1154.2 1515.5,1154.2 1518.0,1154.2 1520.5,1154.2 1523.0,1154.2 1525.5,1154.2 1528.0,1154.2 1530.5,1154.2 1533.0,1154.2 1535.5,1154.2 1538.0,1154.2 1540.5,1154.2 1543.0,1154.2 1545.5,1154.3 1548.0,1154.3 1550.5,1154.3 1553.0,1154.3 1555.5,1154.3 1558.0,1154.3 1560.5,1154.3 1563.0,1154.3 1565.5,1154.3 1568.0,1154.3 1570.5,1154.3 1573.0,1154.3 1575.5,1154.3 1578.0,1154.3 1580.5,1154.3 1583.0,1154.3 1585.5,1154.3 1588.0,1154.3 1590.5,1154.3 1593.0,1154.3 1595.5,1154.3 1598.0,1154.3 1600.5,1154.3 1603.0,1154.3 1605.5,1154.3 1608.0,1154.3 1610.5,1154.3 1613.0,1154.3 1615.5,1154.3 1618.0,1154.3 1620.5,1154.3 1623.0,1154.3 1625.5,1154.3 1628.0,1154.3 1630.5,1154.3 1633.0,1154.3 1635.5,1154.3 1638.0,1154.3 1640.5,1154.3 1643.0,1154.3 1645.5,1154.3 1648.0,1154.3 1650.5,1154.3 1653.0,1154.3 1655.5,1154.3 1658.0,1154.3 1660.5,1154.3 1663.0,1154.3 1665.5,1154.3 1668.0,1154.3 1670.5,1154.3 1673.0,1154.3 1675.5,1154.3 1678.0,1154.3 1680.5,1154.3 1683.0,1154.3 1685.5,1154.3 1688.0,1154.3 1690.5,1154.3 1693.0,1154.3 1695.5,1154.3 1698.0,1154.3 1700.5,1154.3 1703.0,1154.3 1705.5,1154.3 1708.0,1154.3 1710.5,1154.3 1713.0,1154.3 1715.5,1154.3 1718.0,1154.3 1720.5,1154.3 1723.0,1154.3 1725.5,1154.3 1728.0,1154.3 1730.5,1154.3 1733.0,1154.3 1735.5,1154.3 1738.0,1154.3 1740.5,1154.3 1743.0,1154.3 1745.5,1154.3 1748.0,1154.3 1750.5,1154.3 1753.0,1154.3 1755.5,1154.3 1758.0,1154.3 1760.5,1154.3 1763.0,1154.3 1765.5,1154.3 1768.0,1154.3 1770.5,1154.3 1773.0,1154.3 1775.5,1154.3 1778.0,1154.3 1780.5,1154.3 1783.0,1154.3 1785.5,1154.3 1788.0,1154.3 1790.5,1154.3 1793.0,1154.3 1795.5,1154.3 1798.0,1154.3 1800.5,1154.3 1803.0,1154.3 1805.5,1154.3 1808.0,1154.3 1810.5,1154.3 1813.0,1154.3 1815.5,1154.3 1818.0,1154.3 1820.5,1154.3 1823.0,1154.3 1825.5,1154.3 1828.0,1154.3 1830.5,1154.3 1833.0,1154.3 1835.5,1154.3 1838.0,1154.3 1840.5,1154.3 1843.0,1154.3 1845.5,1154.3 1848.0,1154.3 1850.5,1154.3 1853.0,1154.3 1855.5,1154.3 1858.0,1154.3 1860.5,1154.3 1863.0,1154.3 1865.5,1154.3 1868.0,1154.3 1870.5,1154.3 1873.0,1154.3 1875.5,1154.3 1878.0,1154.3 1880.5,1154.3 1883.0,1154.3 1885.5,1154.3 1888.0,1154.3 1890.5,1154.3 1893.0,1154.3 1895.5,1154.3 1898.0,1154.3 1900.5,1154.3 1903.0,1154.3 1905.5,1154.3 1908.0,1154.3 1910.5,1154.3 1913.0,1154.3 1915.5,1154.3 1918.0,1154.3 1920.5,1154.3 1923.0,1154.3 1925.5,1154.3 1928.0,1154.3 1930.5,1154.3 1933.0,1154.3 1935.5,1154.3 1938.0,1154.3 1940.5,1154.3 1943.0,1154.3 1945.5,1154.3 1948.0,1154.3 1950.5,1154.3 1953.0,1154.3 1955.5,1154.3 1958.0,1154.3 1960.5,1154.3 1963.0,1154.3 1965.5,1154.3 1968.0,1154.3 1970.5,1154.3 1973.0,1154.3 1975.5,1154.3 1978.0,1154.3 1980.5,1154.3 1983.0,1154.3 1985.5,1154.3 1988.0,1154.3 1990.5,1154.3 1993.0,1154.3 1995.5,1154.3 1998.0,1154.3 2000.5,1154.3 2003.0,1154.3 2005.5,1154.3 2008.0,1154.3 2010.5,1154.3 2013.0,1154.3 2015.5,1154.3 2018.0,1154.3 2020.5,1154.3 2023.0,1154.3 2025.5,1154.3 2028.0,1154.3 2030.5,1154.3 2033.0,1154.3 2035.5,1154.3 2038.0,1154.3 2040.5,1154.3 2043.0,1154.3 2045.5,1154.3 2048.0,1154.3 2050.5,1154.3 2053.0,1154.3 2055.5,1154.3 2058.0,1154.3 2060.5,1154.3 2063.0,1154.3 2065.5,1154.3 2068.0,1154.3 2070.5,1154.3 2073.0,1154.3 2075.5,1154.3 2078.0,1154.3 2080.5,1154.3 2083.0,1154.3 2085.5,1154.3 2088.0,1154.3 2090.5,1154.3 2093.0,1154.3 2095.5,1154.3 2098.0,1154.3 2100.5,1154.3 2103.0,1154.3 2105.5,1154.3 2108.0,1154.3 2110.5,1154.3 2113.0,1154.3 2115.5,1154.3 2118.0,1154.3 2120.5,1154.3 2123.0,1154.3 2125.5,1154.3 2128.0,1154.3 2130.5,1154.3 2133.0,1154.3 2135.5,1154.3 2138.0,1154.3 2140.5,1154.3 2143.0,1154.3 2145.5,1154.3" fill="none" stroke="#0000FF" stroke-width="2.4" stroke-linejoin="round"/>
<polyline points="245.5,1154.3 248.0,1154.3 250.5,1154.3 253.0,1154.3 255.5,1154.3 258.0,1154.3 260.5,1154.3 263.0,1154.3 265.5,1154.3 268.0,1154.3 270.5,1154.3 273.0,1154.3 275.5,1154.3 278.0,1154.3 280.5,1154.3 283.0,1154.3 285.5,1154.3 288.0,1154.3 290.5,1154.3 293.0,1154.3 295.5,1154.3 298.0,1154.3 300.5,1154.3 303.0,1154.3 305.5,1154.3 308.0,1154.3 310.5,1154.3 313.0,1154.3 315.5,1154.3 318.0,1154.3 320.5,1154.3 323.0,1154.3 325.5,1154.3 328.0,1154.3 330.5,1154.3 333.0,1154.3 335.5,1154.3 338.0,1154.3 340.5,1154.3 343.0,1154.3 345.5,1154.3 348.0,1154.3 350.5,1154.3 353.0,1154.3 355.5,1154.3 358.0,1154.3 360.5,1154.3 363.0,1154.3 365.5,1154.3 368.0,1154.3 370.5,1154.3 373.0,1154.3 375.5,1154.3 378.0,1154.3 380.5,1154.3 383.0,1154.3 385.5,1154.3 388.0,1154.3 390.5,1154.3 393.0,1154.3 395.5,1154.3 398.0,1154.3 400.5,1154.3 403.0,1154.3 405.5,1154.3 408.0,1154.3 410.5,1154.3 413.0,1154.3 415.5,1154.3 418.0,1154.3 420.5,1154.3 423.0,1154.3 425.5,1154.3 428.0,1154.3 430.5,1154.3 433.0,1154.3 435.5,1154.3 438.0,1154.3 440.5,1154.3 443.0,1154.3 445.5,1154.3 448.0,1154.2 450.5,1154.1 453.0,1154.0 455.5,1153.7 458.0,1153.4 460.5,1153.0 463.0,1152.5 465.5,1151.9 468.0,1150.9 470.5,1149.5 473.0,1148.1 475.5,1146.3 478.0,1144.1 480.5,1141.9 483.0,1139.9 485.5,1138.0 488.0,1136.0 490.5,1133.9 493.0,1131.4 495.5,1128.8 498.0,1126.3 500.5,1123.9 503.0,1121.6 505.5,1119.5 508.0,1117.5 510.5,1115.6 513.0,1113.8 515.5,1112.2 518.0,1110.6 520.5,1109.1 523.0,1107.7 525.5,1106.5 528.0,1105.4 530.5,1104.5 533.0,1103.7 535.5,1103.0 538.0,1102.4 540.5,1102.1 543.0,1101.8 545.5,1101.6 548.0,1101.6 550.5,1101.8 553.0,1102.1 555.5,1102.6 558.0,1103.1 560.5,1103.6 563.0,1104.2 565.5,1104.9 568.0,1105.7 570.5,1106.5 573.0,1107.4 575.5,1108.3 578.0,1109.3 580.5,1110.4 583.0,1111.5 585.5,1112.7 588.0,1113.8 590.5,1114.9 593.0,1116.1 595.5,1117.3 598.0,1118.5 600.5,1119.7 603.0,1120.8 605.5,1122.0 608.0,1123.1 610.5,1124.1 613.0,1125.2 615.5,1126.3 618.0,1127.4 620.5,1128.4 623.0,1129.5 625.5,1130.5 628.0,1131.6 630.5,1132.7 633.0,1133.7 635.5,1134.7 638.0,1135.7 640.5,1136.7 643.0,1137.6 645.5,1138.6 648.0,1139.5 650.5,1140.4 653.0,1141.3 655.5,1142.1 658.0,1142.9 660.5,1143.7 663.0,1144.4 665.5,1145.1 668.0,1145.9 670.5,1146.5 673.0,1147.1 675.5,1147.7 678.0,1148.2 680.5,1148.6 683.0,1149.0 685.5,1149.3 688.0,1149.7 690.5,1150.0 693.0,1150.3 695.5,1150.6 698.0,1150.8 700.5,1151.0 703.0,1151.2 705.5,1151.4 708.0,1151.6 710.5,1151.8 713.0,1151.9 715.5,1152.1 718.0,1152.2 720.5,1152.4 723.0,1152.5 725.5,1152.6 728.0,1152.7 730.5,1152.8 733.0,1152.9 735.5,1153.0 738.0,1153.1 740.5,1153.2 743.0,1153.3 745.5,1153.4 748.0,1153.4 750.5,1153.5 753.0,1153.6 755.5,1153.6 758.0,1153.7 760.5,1153.7 763.0,1153.8 765.5,1153.8 768.0,1153.8 770.5,1153.9 773.0,1153.9 775.5,1153.9 778.0,1153.9 780.5,1154.0 783.0,1154.0 785.5,1154.0 788.0,1154.0 790.5,1154.1 793.0,1154.1 795.5,1154.1 798.0,1154.1 800.5,1154.1 803.0,1154.1 805.5,1154.1 808.0,1154.2 810.5,1154.2 813.0,1154.2 815.5,1154.2 818.0,1154.2 820.5,1154.2 823.0,1154.2 825.5,1154.2 828.0,1154.3 830.5,1154.3 833.0,1154.3 835.5,1154.3 838.0,1154.3 840.5,1154.3 843.0,1154.3 845.5,1154.3 848.0,1154.3 850.5,1154.3 853.0,1154.3 855.5,1154.3 858.0,1154.3 860.5,1154.3 863.0,1154.3 865.5,1154.3 868.0,1154.3 870.5,1154.3 873.0,1154.3 875.5,1154.3 878.0,1154.3 880.5,1154.3 883.0,1154.3 885.5,1154.3 888.0,1154.3 890.5,1154.3 893.0,1154.3 895.5,1154.3 898.0,1154.3 900.5,1154.3 903.0,1154.3 905.5,1154.3 908.0,1154.3 910.5,1154.3 913.0,1154.3 915.5,1154.3 918.0,1154.3 920.5,1154.3 923.0,1154.3 925.5,1154.3 928.0,1154.3 930.5,1154.3 933.0,1154.3 935.5,1154.3 938.0,1154.3 940.5,1154.3 943.0,1154.3 945.5,1154.3 948.0,1154.3 950.5,1154.3 953.0,1154.3 955.5,1154.3 958.0,1154.3 960.5,1154.3 963.0,1154.3 965.5,1154.3 968.0,1154.3 970.5,1154.3 973.0,1154.3 975.5,1154.3 978.0,1154.3 980.5,1154.3 983.0,1154.3 985.5,1154.3 988.0,1154.3 990.5,1154.3 993.0,1154.3 995.5,1154.3 998.0,1154.3 1000.5,1154.3 1003.0,1154.3 1005.5,1154.3 1008.0,1154.3 1010.5,1154.3 1013.0,1154.3 1015.5,1154.3 1018.0,1154.3 1020.5,1154.3 1023.0,1154.3 1025.5,1154.3 1028.0,1154.3 1030.5,1154.3 1033.0,1154.3 1035.5,1154.3 1038.0,1154.3 1040.5,1154.3 1043.0,1154.3 1045.5,1154.3 1048.0,1154.3 1050.5,1154.3 1053.0,1154.3 1055.5,1154.3 1058.0,1154.3 1060.5,1154.3 1063.0,1154.3 1065.5,1154.3 1068.0,1154.3 1070.5,1154.3 1073.0,1154.3 1075.5,1154.2 1078.0,1154.2 1080.5,1154.2 1083.0,1154.1 1085.5,1154.1 1088.0,1154.0 1090.5,1153.9 1093.0,1153.8 1095.5,1153.6 1098.0,1153.4 1100.5,1153.1 1103.0,1152.8 1105.5,1152.3 1108.0,1151.8 1110.5,1151.1 1113.0,1150.2 1115.5,1149.2 1118.0,1148.0 1120.5,1146.5 1123.0,1144.7 1125.5,1142.6 1128.0,1140.1 1130.5,1137.2 1133.0,1133.8 1135.5,1129.9 1138.0,1125.5 1140.5,1120.5 1143.0,1114.8 1145.5,1108.6 1148.0,1101.6 1150.5,1094.0 1153.0,1085.7 1155.5,1076.7 1158.0,1067.1 1160.5,1056.9 1163.0,1046.2 1165.5,1035.0 1168.0,1023.4 1170.5,1011.6 1173.0,999.7 1175.5,987.6 1178.0,975.8 1180.5,964.1 1183.0,952.8 1185.5,942.1 1188.0,932.0 1190.5,922.7 1193.0,914.3 1195.5,907.0 1198.0,900.7 1200.5,895.6 1203.0,891.7 1205.5,889.0 1208.0,887.6 1210.5,887.5 1213.0,888.6 1215.5,890.8 1218.0,894.2 1220.5,898.6 1223.0,903.9 1225.5,910.0 1228.0,916.9 1230.5,924.4 1233.0,932.5 1235.5,940.9 1238.0,949.7 1240.5,958.6 1243.0,967.7 1245.5,976.8 1248.0,985.9 1250.5,994.9 1253.0,1003.7 1255.5,1012.3 1258.0,1020.6 1260.5,1028.6 1263.0,1036.4 1265.5,1043.7 1268.0,1050.8 1270.5,1057.5 1273.0,1063.8 1275.5,1069.8 1278.0,1075.4 1280.5,1080.7 1283.0,1085.7 1285.5,1090.4 1288.0,1094.8 1290.5,1098.8 1293.0,1102.7 1295.5,1106.2 1298.0,1109.6 1300.5,1112.7 1303.0,1115.5 1305.5,1118.2 1308.0,1120.7 1310.5,1123.1 1313.0,1125.3 1315.5,1127.3 1318.0,1129.2 1320.5,1130.9 1323.0,1132.5 1325.5,1134.0 1328.0,1135.4 1330.5,1136.8 1333.0,1138.0 1335.5,1139.1 1338.0,1140.2 1340.5,1141.1 1343.0,1142.1 1345.5,1142.9 1348.0,1143.7 1350.5,1144.4 1353.0,1145.1 1355.5,1145.7 1358.0,1146.3 1360.5,1146.9 1363.0,1147.4 1365.5,1147.9 1368.0,1148.3 1370.5,1148.7 1373.0,1149.1 1375.5,1149.5 1378.0,1149.8 1380.5,1150.1 1383.0,1150.4 1385.5,1150.6 1388.0,1150.9 1390.5,1151.1 1393.0,1151.3 1395.5,1151.5 1398.0,1151.7 1400.5,1151.9 1403.0,1152.1 1405.5,1152.2 1408.0,1152.3 1410.5,1152.5 1413.0,1152.6 1415.5,1152.7 1418.0,1152.8 1420.5,1152.9 1423.0,1153.0 1425.5,1153.1 1428.0,1153.2 1430.5,1153.2 1433.0,1153.3 1435.5,1153.4 1438.0,1153.4 1440.5,1153.5 1443.0,1153.5 1445.5,1153.6 1448.0,1153.6 1450.5,1153.7 1453.0,1153.7 1455.5,1153.8 1458.0,1153.8 1460.5,1153.8 1463.0,1153.8 1465.5,1153.9 1468.0,1153.9 1470.5,1153.9 1473.0,1153.9 1475.5,1154.0 1478.0,1154.0 1480.5,1154.0 1483.0,1154.0 1485.5,1154.0 1488.0,1154.1 1490.5,1154.1 1493.0,1154.1 1495.5,1154.1 1498.0,1154.1 1500.5,1154.1 1503.0,1154.1 1505.5,1154.1 1508.0,1154.1 1510.5,1154.2 1513.0,1154.2 1515.5,1154.2 1518.0,1154.2 1520.5,1154.2 1523.0,1154.2 1525.5,1154.2 1528.0,1154.2 1530.5,1154.2 1533.0,1154.2 1535.5,1154.2 1538.0,1154.2 1540.5,1154.2 1543.0,1154.2 1545.5,1154.2 1548.0,1154.2 1550.5,1154.2 1553.0,1154.2 1555.5,1154.2 1558.0,1154.2 1560.5,1154.2 1563.0,1154.2 1565.5,1154.3 1568.0,1154.3 1570.5,1154.3 1573.0,1154.3 1575.5,1154.3 1578.0,1154.3 1580.5,1154.3 1583.0,1154.3 1585.5,1154.3 1588.0,1154.3 1590.5,1154.3 1593.0,1154.3 1595.5,1154.3 1598.0,1154.3 1600.5,1154.3 1603.0,1154.3 1605.5,1154.3 1608.0,1154.3 1610.5,1154.3 1613.0,1154.3 1615.5,1154.3 1618.0,1154.3 1620.5,1154.3 1623.0,1154.3 1625.5,1154.3 1628.0,1154.3 1630.5,1154.3 1633.0,1154.3 1635.5,1154.3 1638.0,1154.3 1640.5,1154.3 1643.0,1154.3 1645.5,1154.3 1648.0,1154.3 1650.5,1154.3 1653.0,1154.3 1655.5,1154.3 1658.0,1154.3 1660.5,1154.3 1663.0,1154.3 1665.5,1154.3 1668.0,1154.3 1670.5,1154.3 1673.0,1154.3 1675.5,1154.3 1678.0,1154.3 1680.5,1154.3 1683.0,1154.3 1685.5,1154.3 1688.0,1154.3 1690.5,1154.3 1693.0,1154.3 1695.5,1154.3 1698.0,1154.3 1700.5,1154.3 1703.0,1154.3 1705.5,1154.3 1708.0,1154.3 1710.5,1154.3 1713.0,1154.3 1715.5,1154.3 1718.0,1154.3 1720.5,1154.3 1723.0,1154.3 1725.5,1154.3 1728.0,1154.3 1730.5,1154.3 1733.0,1154.3 1735.5,1154.3 1738.0,1154.3 1740.5,1154.3 1743.0,1154.3 1745.5,1154.3 1748.0,1154.3 1750.5,1154.3 1753.0,1154.3 1755.5,1154.3 1758.0,1154.3 1760.5,1154.3 1763.0,1154.3 1765.5,1154.3 1768.0,1154.3 1770.5,1154.3 1773.0,1154.3 1775.5,1154.3 1778.0,1154.3 1780.5,1154.3 1783.0,1154.3 1785.5,1154.3 1788.0,1154.3 1790.5,1154.3 1793.0,1154.3 1795.5,1154.3 1798.0,1154.3 1800.5,1154.3 1803.0,1154.3 1805.5,1154.3 1808.0,1154.3 1810.5,1154.3 1813.0,1154.3 1815.5,1154.3 1818.0,1154.3 1820.5,1154.3 1823.0,1154.3 1825.5,1154.3 1828.0,1154.3 1830.5,1154.3 1833.0,1154.3 1835.5,1154.3 1838.0,1154.3 1840.5,1154.3 1843.0,1154.3 1845.5,1154.3 1848.0,1154.3 1850.5,1154.3 1853.0,1154.3 1855.5,1154.3 1858.0,1154.3 1860.5,1154.3 1863.0,1154.3 1865.5,1154.3 1868.0,1154.3 1870.5,1154.3 1873.0,1154.3 1875.5,1154.3 1878.0,1154.3 1880.5,1154.3 1883.0,1154.3 1885.5,1154.3 1888.0,1154.3 1890.5,1154.3 1893.0,1154.3 1895.5,1154.3 1898.0,1154.3 1900.5,1154.3 1903.0,1154.3 1905.5,1154.3 1908.0,1154.3 1910.5,1154.3 1913.0,1154.3 1915.5,1154.3 1918.0,1154.3 1920.5,1154.3 1923.0,1154.3 1925.5,1154.3 1928.0,1154.3 1930.5,1154.3 1933.0,1154.3 1935.5,1154.3 1938.0,1154.3 1940.5,1154.3 1943.0,1154.3 1945.5,1154.3 1948.0,1154.3 1950.5,1154.3 1953.0,1154.3 1955.5,1154.3 1958.0,1154.3 1960.5,1154.3 1963.0,1154.3 1965.5,1154.3 1968.0,1154.3 1970.5,1154.3 1973.0,1154.3 1975.5,1154.3 1978.0,1154.3 1980.5,1154.3 1983.0,1154.3 1985.5,1154.3 1988.0,1154.3 1990.5,1154.3 1993.0,1154.3 1995.5,1154.3 1998.0,1154.3 2000.5,1154.3 2003.0,1154.3 2005.5,1154.3 2008.0,1154.3 2010.5,1154.3 2013.0,1154.3 2015.5,1154.3 2018.0,1154.3 2020.5,1154.3 2023.0,1154.3 2025.5,1154.3 2028.0,1154.3 2030.5,1154.3 2033.0,1154.3 2035.5,1154.3 2038.0,1154.3 2040.5,1154.3 2043.0,1154.3 2045.5,1154.3 2048.0,1154.3 2050.5,1154.3 2053.0,1154.3 2055.5,1154.3 2058.0,1154.3 2060.5,1154.3 2063.0,1154.3 2065.5,1154.3 2068.0,1154.3 2070.5,1154.3 2073.0,1154.3 2075.5,1154.3 2078.0,1154.3 2080.5,1154.3 2083.0,1154.3 2085.5,1154.3 2088.0,1154.3 2090.5,1154.3 2093.0,1154.3 2095.5,1154.3 2098.0,1154.3 2100.5,1154.3 2103.0,1154.3 2105.5,1154.3 2108.0,1154.3 2110.5,1154.3 2113.0,1154.3 2115.5,1154.3 2118.0,1154.3 2120.5,1154.3 2123.0,1154.3 2125.5,1154.3 2128.0,1154.3 2130.5,1154.3 2133.0,1154.3 2135.5,1154.3 2138.0,1154.3 2140.5,1154.3 2143.0,1154.3 2145.5,1154.3" fill="none" stroke="#FF00FF" stroke-width="2.4" stroke-linejoin="round"/>
<polyline points="245.5,1154.3 248.0,1154.3 250.5,1154.3 253.0,1154.3 255.5,1154.3 258.0,1154.3 260.5,1154.3 263.0,1154.3 265.5,1154.3 268.0,1154.3 270.5,1154.3 273.0,1154.3 275.5,1154.3 278.0,1154.3 280.5,1154.3 283.0,1154.3 285.5,1154.3 288.0,1154.3 290.5,1154.3 293.0,1154.3 295.5,1154.3 298.0,1154.3 300.5,1154.3 303.0,1154.3 305.5,1154.3 308.0,1154.3 310.5,1154.3 313.0,1154.3 315.5,1154.3 318.0,1154.3 320.5,1154.3 323.0,1154.3 325.5,1154.3 328.0,1154.3 330.5,1154.3 333.0,1154.3 335.5,1154.3 338.0,1154.3 340.5,1154.3 343.0,1154.3 345.5,1154.3 348.0,1154.3 350.5,1154.3 353.0,1154.3 355.5,1154.3 358.0,1154.3 360.5,1154.3 363.0,1154.3 365.5,1154.3 368.0,1154.3 370.5,1154.3 373.0,1154.3 375.5,1154.3 378.0,1154.3 380.5,1154.3 383.0,1154.3 385.5,1154.3 388.0,1154.3 390.5,1154.3 393.0,1154.3 395.5,1154.3 398.0,1154.3 400.5,1154.3 403.0,1154.3 405.5,1154.3 408.0,1154.3 410.5,1154.3 413.0,1154.3 415.5,1154.3 418.0,1154.3 420.5,1154.3 423.0,1154.3 425.5,1154.3 428.0,1154.3 430.5,1154.3 433.0,1154.3 435.5,1154.3 438.0,1154.3 440.5,1154.3 443.0,1154.3 445.5,1154.3 448.0,1154.2 450.5,1154.1 453.0,1154.0 455.5,1153.7 458.0,1153.4 460.5,1153.0 463.0,1152.5 465.5,1151.9 468.0,1150.9 470.5,1149.5 473.0,1148.1 475.5,1146.3 478.0,1144.1 480.5,1141.9 483.0,1139.9 485.5,1138.0 488.0,1136.0 490.5,1133.9 493.0,1131.4 495.5,1128.8 498.0,1126.3 500.5,1123.9 503.0,1121.6 505.5,1119.5 508.0,1117.5 510.5,1115.7 513.0,1113.9 515.5,1112.3 518.0,1110.8 520.5,1109.3 523.0,1108.1 525.5,1106.9 528.0,1105.8 530.5,1104.9 533.0,1104.2 535.5,1103.5 538.0,1103.0 540.5,1102.7 543.0,1102.5 545.5,1102.4 548.0,1102.4 550.5,1102.6 553.0,1103.0 555.5,1103.5 558.0,1104.0 560.5,1104.6 563.0,1105.3 565.5,1106.0 568.0,1106.8 570.5,1107.7 573.0,1108.5 575.5,1109.5 578.0,1110.5 580.5,1111.6 583.0,1112.7 585.5,1113.8 588.0,1114.9 590.5,1116.0 593.0,1117.1 595.5,1118.3 598.0,1119.4 600.5,1120.6 603.0,1121.7 605.5,1122.8 608.0,1123.9 610.5,1125.0 613.0,1126.1 615.5,1127.1 618.0,1128.2 620.5,1129.2 623.0,1130.3 625.5,1131.3 628.0,1132.4 630.5,1133.4 633.0,1134.4 635.5,1135.4 638.0,1136.4 640.5,1137.3 643.0,1138.2 645.5,1139.1 648.0,1140.0 650.5,1140.9 653.0,1141.8 655.5,1142.6 658.0,1143.3 660.5,1144.1 663.0,1144.8 665.5,1145.5 668.0,1146.1 670.5,1146.8 673.0,1147.4 675.5,1147.9 678.0,1148.3 680.5,1148.7 683.0,1149.1 685.5,1149.5 688.0,1149.8 690.5,1150.1 693.0,1150.4 695.5,1150.7 698.0,1150.9 700.5,1151.1 703.0,1151.3 705.5,1151.5 708.0,1151.7 710.5,1151.9 713.0,1152.0 715.5,1152.2 718.0,1152.3 720.5,1152.4 723.0,1152.6 725.5,1152.7 728.0,1152.8 730.5,1152.9 733.0,1153.0 735.5,1153.1 738.0,1153.2 740.5,1153.2 743.0,1153.3 745.5,1153.4 748.0,1153.5 750.5,1153.5 753.0,1153.6 755.5,1153.7 758.0,1153.7 760.5,1153.7 763.0,1153.8 765.5,1153.8 768.0,1153.8 770.5,1153.9 773.0,1153.9 775.5,1153.9 778.0,1154.0 780.5,1154.0 783.0,1154.0 785.5,1154.0 788.0,1154.0 790.5,1154.1 793.0,1154.1 795.5,1154.1 798.0,1154.1 800.5,1154.1 803.0,1154.1 805.5,1154.2 808.0,1154.2 810.5,1154.2 813.0,1154.2 815.5,1154.2 818.0,1154.2 820.5,1154.2 823.0,1154.2 825.5,1154.2 828.0,1154.3 830.5,1154.3 833.0,1154.3 835.5,1154.3 838.0,1154.3 840.5,1154.3 843.0,1154.3 845.5,1154.3 848.0,1154.3 850.5,1154.3 853.0,1154.3 855.5,1154.3 858.0,1154.3 860.5,1154.3 863.0,1154.3 865.5,1154.3 868.0,1154.3 870.5,1154.3 873.0,1154.3 875.5,1154.3 878.0,1154.3 880.5,1154.3 883.0,1154.3 885.5,1154.3 888.0,1154.3 890.5,1154.3 893.0,1154.3 895.5,1154.3 898.0,1154.3 900.5,1154.3 903.0,1154.3 905.5,1154.3 908.0,1154.3 910.5,1154.3 913.0,1154.3 915.5,1154.3 918.0,1154.3 920.5,1154.3 923.0,1154.3 925.5,1154.3 928.0,1154.3 930.5,1154.3 933.0,1154.3 935.5,1154.3 938.0,1154.3 940.5,1154.3 943.0,1154.3 945.5,1154.3 948.0,1154.3 950.5,1154.3 953.0,1154.3 955.5,1154.3 958.0,1154.3 960.5,1154.3 963.0,1154.3 965.5,1154.3 968.0,1154.3 970.5,1154.3 973.0,1154.3 975.5,1154.3 978.0,1154.3 980.5,1154.3 983.0,1154.3 985.5,1154.3 988.0,1154.3 990.5,1154.3 993.0,1154.3 995.5,1154.3 998.0,1154.3 1000.5,1154.3 1003.0,1154.3 1005.5,1154.3 1008.0,1154.3 1010.5,1154.3 1013.0,1154.3 1015.5,1154.3 1018.0,1154.3 1020.5,1154.3 1023.0,1154.3 1025.5,1154.3 1028.0,1154.3 1030.5,1154.3 1033.0,1154.3 1035.5,1154.3 1038.0,1154.3 1040.5,1154.3 1043.0,1154.3 1045.5,1154.3 1048.0,1154.3 1050.5,1154.3 1053.0,1154.3 1055.5,1154.3 1058.0,1154.3 1060.5,1154.3 1063.0,1154.3 1065.5,1154.3 1068.0,1154.3 1070.5,1154.3 1073.0,1154.2 1075.5,1154.2 1078.0,1154.2 1080.5,1154.1 1083.0,1154.1 1085.5,1154.0 1088.0,1153.9 1090.5,1153.8 1093.0,1153.6 1095.5,1153.4 1098.0,1153.1 1100.5,1152.7 1103.0,1152.3 1105.5,1151.7 1108.0,1151.0 1110.5,1150.1 1113.0,1149.0 1115.5,1147.6 1118.0,1146.0 1120.5,1144.0 1123.0,1141.7 1125.5,1138.9 1128.0,1135.7 1130.5,1131.8 1133.0,1127.4 1135.5,1122.3 1138.0,1116.5 1140.5,1109.9 1143.0,1102.5 1145.5,1094.2 1148.0,1085.1 1150.5,1075.0 1153.0,1064.1 1155.5,1052.3 1158.0,1039.6 1160.5,1026.2 1163.0,1012.0 1165.5,997.3 1168.0,982.0 1170.5,966.4 1173.0,950.6 1175.5,934.7 1178.0,919.0 1180.5,903.6 1183.0,888.7 1185.5,874.4 1188.0,861.1 1190.5,848.8 1193.0,837.6 1195.5,827.8 1198.0,819.5 1200.5,812.6 1203.0,807.4 1205.5,803.9 1208.0,802.0 1210.5,801.7 1213.0,803.1 1215.5,806.0 1218.0,810.4 1220.5,816.1 1223.0,823.1 1225.5,831.1 1228.0,840.2 1230.5,850.1 1233.0,860.7 1235.5,871.9 1238.0,883.4 1240.5,895.3 1243.0,907.3 1245.5,919.3 1248.0,931.3 1250.5,943.2 1253.0,954.8 1255.5,966.2 1258.0,977.2 1260.5,987.8 1263.0,998.0 1265.5,1007.8 1268.0,1017.1 1270.5,1026.0 1273.0,1034.4 1275.5,1042.3 1278.0,1049.8 1280.5,1056.8 1283.0,1063.4 1285.5,1069.6 1288.0,1075.4 1290.5,1080.8 1293.0,1085.9 1295.5,1090.6 1298.0,1095.0 1300.5,1099.1 1303.0,1102.9 1305.5,1106.5 1308.0,1109.8 1310.5,1112.9 1313.0,1115.8 1315.5,1118.5 1318.0,1121.0 1320.5,1123.3 1323.0,1125.4 1325.5,1127.5 1328.0,1129.3 1330.5,1131.1 1333.0,1132.7 1335.5,1134.2 1338.0,1135.6 1340.5,1136.9 1343.0,1138.1 1345.5,1139.2 1348.0,1140.2 1350.5,1141.2 1353.0,1142.1 1355.5,1143.0 1358.0,1143.7 1360.5,1144.5 1363.0,1145.1 1365.5,1145.8 1368.0,1146.4 1370.5,1146.9 1373.0,1147.4 1375.5,1147.9 1378.0,1148.3 1380.5,1148.7 1383.0,1149.1 1385.5,1149.5 1388.0,1149.8 1390.5,1150.1 1393.0,1150.4 1395.5,1150.6 1398.0,1150.9 1400.5,1151.1 1403.0,1151.3 1405.5,1151.5 1408.0,1151.7 1410.5,1151.9 1413.0,1152.0 1415.5,1152.2 1418.0,1152.3 1420.5,1152.5 1423.0,1152.6 1425.5,1152.7 1428.0,1152.8 1430.5,1152.9 1433.0,1153.0 1435.5,1153.1 1438.0,1153.2 1440.5,1153.2 1443.0,1153.3 1445.5,1153.4 1448.0,1153.4 1450.5,1153.5 1453.0,1153.5 1455.5,1153.6 1458.0,1153.6 1460.5,1153.7 1463.0,1153.7 1465.5,1153.7 1468.0,1153.8 1470.5,1153.8 1473.0,1153.8 1475.5,1153.9 1478.0,1153.9 1480.5,1153.9 1483.0,1153.9 1485.5,1154.0 1488.0,1154.0 1490.5,1154.0 1493.0,1154.0 1495.5,1154.0 1498.0,1154.0 1500.5,1154.1 1503.0,1154.1 1505.5,1154.1 1508.0,1154.1 1510.5,1154.1 1513.0,1154.1 1515.5,1154.1 1518.0,1154.1 1520.5,1154.1 1523.0,1154.2 1525.5,1154.2 1528.0,1154.2 1530.5,1154.2 1533.0,1154.2 1535.5,1154.2 1538.0,1154.2 1540.5,1154.2 1543.0,1154.2 1545.5,1154.2 1548.0,1154.2 1550.5,1154.2 1553.0,1154.2 1555.5,1154.2 1558.0,1154.2 1560.5,1154.2 1563.0,1154.2 1565.5,1154.2 1568.0,1154.2 1570.5,1154.2 1573.0,1154.2 1575.5,1154.2 1578.0,1154.2 1580.5,1154.3 1583.0,1154.3 1585.5,1154.3 1588.0,1154.3 1590.5,1154.3 1593.0,1154.3 1595.5,1154.3 1598.0,1154.3 1600.5,1154.3 1603.0,1154.3 1605.5,1154.3 1608.0,1154.3 1610.5,1154.3 1613.0,1154.3 1615.5,1154.3 1618.0,1154.3 1620.5,1154.3 1623.0,1154.3 1625.5,1154.3 1628.0,1154.3 1630.5,1154.3 1633.0,1154.3 1635.5,1154.3 1638.0,1154.3 1640.5,1154.3 1643.0,1154.3 1645.5,1154.3 1648.0,1154.3 1650.5,1154.3 1653.0,1154.3 1655.5,1154.3 1658.0,1154.3 1660.5,1154.3 1663.0,1154.3 1665.5,1154.3 1668.0,1154.3 1670.5,1154.3 1673.0,1154.3 1675.5,1154.3 1678.0,1154.3 1680.5,1154.3 1683.0,1154.3 1685.5,1154.3 1688.0,1154.3 1690.5,1154.3 1693.0,1154.3 1695.5,1154.3 1698.0,1154.3 1700.5,1154.3 1703.0,1154.3 1705.5,1154.3 1708.0,1154.3 1710.5,1154.3 1713.0,1154.3 1715.5,1154.3 1718.0,1154.3 1720.5,1154.3 1723.0,1154.3 1725.5,1154.3 1728.0,1154.3 1730.5,1154.3 1733.0,1154.3 1735.5,1154.3 1738.0,1154.3 1740.5,1154.3 1743.0,1154.3 1745.5,1154.3 1748.0,1154.3 1750.5,1154.3 1753.0,1154.3 1755.5,1154.3 1758.0,1154.3 1760.5,1154.3 1763.0,1154.3 1765.5,1154.3 1768.0,1154.3 1770.5,1154.3 1773.0,1154.3 1775.5,1154.3 1778.0,1154.3 1780.5,1154.3 1783.0,1154.3 1785.5,1154.3 1788.0,1154.3 1790.5,1154.3 1793.0,1154.3 1795.5,1154.3 1798.0,1154.3 1800.5,1154.3 1803.0,1154.3 1805.5,1154.3 1808.0,1154.3 1810.5,1154.3 1813.0,1154.3 1815.5,1154.3 1818.0,1154.3 1820.5,1154.3 1823.0,1154.3 1825.5,1154.3 1828.0,1154.3 1830.5,1154.3 1833.0,1154.3 1835.5,1154.3 1838.0,1154.3 1840.5,1154.3 1843.0,1154.3 1845.5,1154.3 1848.0,1154.3 1850.5,1154.3 1853.0,1154.3 1855.5,1154.3 1858.0,1154.3 1860.5,1154.3 1863.0,1154.3 1865.5,1154.3 1868.0,1154.3 1870.5,1154.3 1873.0,1154.3 1875.5,1154.3 1878.0,1154.3 1880.5,1154.3 1883.0,1154.3 1885.5,1154.3 1888.0,1154.3 1890.5,1154.3 1893.0,1154.3 1895.5,1154.3 1898.0,1154.3 1900.5,1154.3 1903.0,1154.3 1905.5,1154.3 1908.0,1154.3 1910.5,1154.3 1913.0,1154.3 1915.5,1154.3 1918.0,1154.3 1920.5,1154.3 1923.0,1154.3 1925.5,1154.3 1928.0,1154.3 1930.5,1154.3 1933.0,1154.3 1935.5,1154.3 1938.0,1154.3 1940.5,1154.3 1943.0,1154.3 1945.5,1154.3 1948.0,1154.3 1950.5,1154.3 1953.0,1154.3 1955.5,1154.3 1958.0,1154.3 1960.5,1154.3 1963.0,1154.3 1965.5,1154.3 1968.0,1154.3 1970.5,1154.3 1973.0,1154.3 1975.5,1154.3 1978.0,1154.3 1980.5,1154.3 1983.0,1154.3 1985.5,1154.3 1988.0,1154.3 1990.5,1154.3 1993.0,1154.3 1995.5,1154.3 1998.0,1154.3 2000.5,1154.3 2003.0,1154.3 2005.5,1154.3 2008.0,1154.3 2010.5,1154.3 2013.0,1154.3 2015.5,1154.3 2018.0,1154.3 2020.5,1154.3 2023.0,1154.3 2025.5,1154.3 2028.0,1154.3 2030.5,1154.3 2033.0,1154.3 2035.5,1154.3 2038.0,1154.3 2040.5,1154.3 2043.0,1154.3 2045.5,1154.3 2048.0,1154.3 2050.5,1154.3 2053.0,1154.3 2055.5,1154.3 2058.0,1154.3 2060.5,1154.3 2063.0,1154.3 2065.5,1154.3 2068.0,1154.3 2070.5,1154.3 2073.0,1154.3 2075.5,1154.3 2078.0,1154.3 2080.5,1154.3 2083.0,1154.3 2085.5,1154.3 2088.0,1154.3 2090.5,1154.3 2093.0,1154.3 2095.5,1154.3 2098.0,1154.3 2100.5,1154.3 2103.0,1154.3 2105.5,1154.3 2108.0,1154.3 2110.5,1154.3 2113.0,1154.3 2115.5,1154.3 2118.0,1154.3 2120.5,1154.3 2123.0,1154.3 2125.5,1154.3 2128.0,1154.3 2130.5,1154.3 2133.0,1154.3 2135.5,1154.3 2138.0,1154.3 2140.5,1154.3 2143.0,1154.3 2145.5,1154.3" fill="none" stroke="#008000" stroke-width="2.4" stroke-linejoin="round"/>
<polyline points="245.5,1154.3 248.0,1154.3 250.5,1154.3 253.0,1154.3 255.5,1154.3 258.0,1154.3 260.5,1154.3 263.0,1154.3 265.5,1154.3 268.0,1154.3 270.5,1154.3 273.0,1154.3 275.5,1154.3 278.0,1154.3 280.5,1154.3 283.0,1154.3 285.5,1154.3 288.0,1154.3 290.5,1154.3 293.0,1154.3 295.5,1154.3 298.0,1154.3 300.5,1154.3 303.0,1154.3 305.5,1154.3 308.0,1154.3 310.5,1154.3 313.0,1154.3 315.5,1154.3 318.0,1154.3 320.5,1154.3 323.0,1154.3 325.5,1154.3 328.0,1154.3 330.5,1154.3 333.0,1154.3 335.5,1154.3 338.0,1154.3 340.5,1154.3 343.0,1154.3 345.5,1154.3 348.0,1154.3 350.5,1154.3 353.0,1154.3 355.5,1154.3 358.0,1154.3 360.5,1154.3 363.0,1154.3 365.5,1154.3 368.0,1154.3 370.5,1154.3 373.0,1154.3 375.5,1154.3 378.0,1154.3 380.5,1154.3 383.0,1154.3 385.5,1154.3 388.0,1154.3 390.5,1154.3 393.0,1154.3 395.5,1154.3 398.0,1154.3 400.5,1154.3 403.0,1154.3 405.5,1154.3 408.0,1154.3 410.5,1154.3 413.0,1154.3 415.5,1154.3 418.0,1154.3 420.5,1154.3 423.0,1154.3 425.5,1154.3 428.0,1154.3 430.5,1154.3 433.0,1154.3 435.5,1154.3 438.0,1154.3 440.5,1154.3 443.0,1154.3 445.5,1154.3 448.0,1154.2 450.5,1154.1 453.0,1154.0 455.5,1153.7 458.0,1153.4 460.5,1153.0 463.0,1152.5 465.5,1151.9 468.0,1150.9 470.5,1149.5 473.0,1148.1 475.5,1146.3 478.0,1144.1 480.5,1141.9 483.0,1139.9 485.5,1138.0 488.0,1136.0 490.5,1133.9 493.0,1131.4 495.5,1128.8 498.0,1126.3 500.5,1123.9 503.0,1121.6 505.5,1119.5 508.0,1117.5 510.5,1115.7 513.0,1113.9 515.5,1112.3 518.0,1110.8 520.5,1109.3 523.0,1108.1 525.5,1106.9 528.0,1105.8 530.5,1104.9 533.0,1104.2 535.5,1103.5 538.0,1103.0 540.5,1102.7 543.0,1102.5 545.5,1102.4 548.0,1102.4 550.5,1102.6 553.0,1103.0 555.5,1103.5 558.0,1104.0 560.5,1104.6 563.0,1105.3 565.5,1106.0 568.0,1106.8 570.5,1107.7 573.0,1108.5 575.5,1109.5 578.0,1110.5 580.5,1111.6 583.0,1112.7 585.5,1113.8 588.0,1114.9 590.5,1116.0 593.0,1117.1 595.5,1118.3 598.0,1119.4 600.5,1120.6 603.0,1121.7 605.5,1122.8 608.0,1123.9 610.5,1125.0 613.0,1126.1 615.5,1127.1 618.0,1128.2 620.5,1129.2 623.0,1130.3 625.5,1131.3 628.0,1132.4 630.5,1133.4 633.0,1134.4 635.5,1135.4 638.0,1136.4 640.5,1137.3 643.0,1138.2 645.5,1139.1 648.0,1140.0 650.5,1140.9 653.0,1141.8 655.5,1142.6 658.0,1143.3 660.5,1144.1 663.0,1144.8 665.5,1145.5 668.0,1146.1 670.5,1146.8 673.0,1147.4 675.5,1147.9 678.0,1148.3 680.5,1148.7 683.0,1149.1 685.5,1149.5 688.0,1149.8 690.5,1150.1 693.0,1150.4 695.5,1150.7 698.0,1150.9 700.5,1151.1 703.0,1151.3 705.5,1151.5 708.0,1151.7 710.5,1151.9 713.0,1152.0 715.5,1152.2 718.0,1152.3 720.5,1152.4 723.0,1152.6 725.5,1152.7 728.0,1152.8 730.5,1152.9 733.0,1153.0 735.5,1153.1 738.0,1153.2 740.5,1153.2 743.0,1153.3 745.5,1153.4 748.0,1153.5 750.5,1153.5 753.0,1153.6 755.5,1153.7 758.0,1153.7 760.5,1153.7 763.0,1153.8 765.5,1153.8 768.0,1153.8 770.5,1153.9 773.0,1153.9 775.5,1153.9 778.0,1154.0 780.5,1154.0 783.0,1154.0 785.5,1154.0 788.0,1154.0 790.5,1154.1 793.0,1154.1 795.5,1154.1 798.0,1154.1 800.5,1154.1 803.0,1154.1 805.5,1154.2 808.0,1154.2 810.5,1154.2 813.0,1154.2 815.5,1154.2 818.0,1154.2 820.5,1154.2 823.0,1154.2 825.5,1154.2 828.0,1154.3 830.5,1154.3 833.0,1154.3 835.5,1154.3 838.0,1154.3 840.5,1154.3 843.0,1154.3 845.5,1154.3 848.0,1154.3 850.5,1154.3 853.0,1154.3 855.5,1154.3 858.0,1154.3 860.5,1154.3 863.0,1154.3 865.5,1154.3 868.0,1154.3 870.5,1154.3 873.0,1154.3 875.5,1154.3 878.0,1154.3 880.5,1154.3 883.0,1154.3 885.5,1154.3 888.0,1154.3 890.5,1154.3 893.0,1154.3 895.5,1154.3 898.0,1154.3 900.5,1154.3 903.0,1154.3 905.5,1154.3 908.0,1154.3 910.5,1154.3 913.0,1154.3 915.5,1154.3 918.0,1154.3 920.5,1154.3 923.0,1154.3 925.5,1154.3 928.0,1154.3 930.5,1154.3 933.0,1154.3 935.5,1154.3 938.0,1154.3 940.5,1154.3 943.0,1154.3 945.5,1154.3 948.0,1154.3 950.5,1154.3 953.0,1154.3 955.5,1154.3 958.0,1154.3 960.5,1154.3 963.0,1154.3 965.5,1154.3 968.0,1154.3 970.5,1154.3 973.0,1154.3 975.5,1154.3 978.0,1154.3 980.5,1154.3 983.0,1154.3 985.5,1154.3 988.0,1154.3 990.5,1154.3 993.0,1154.3 995.5,1154.3 998.0,1154.3 1000.5,1154.3 1003.0,1154.3 1005.5,1154.3 1008.0,1154.3 1010.5,1154.3 1013.0,1154.3 1015.5,1154.3 1018.0,1154.3 1020.5,1154.3 1023.0,1154.3 1025.5,1154.3 1028.0,1154.3 1030.5,1154.3 1033.0,1154.3 1035.5,1154.3 1038.0,1154.3 1040.5,1154.3 1043.0,1154.3 1045.5,1154.3 1048.0,1154.3 1050.5,1154.3 1053.0,1154.3 1055.5,1154.3 1058.0,1154.3 1060.5,1154.3 1063.0,1154.3 1065.5,1154.3 1068.0,1154.3 1070.5,1154.2 1073.0,1154.2 1075.5,1154.2 1078.0,1154.1 1080.5,1154.1 1083.0,1154.0 1085.5,1153.9 1088.0,1153.8 1090.5,1153.6 1093.0,1153.3 1095.5,1153.0 1098.0,1152.6 1100.5,1152.1 1103.0,1151.5 1105.5,1150.7 1108.0,1149.7 1110.5,1148.5 1113.0,1147.0 1115.5,1145.2 1118.0,1143.0 1120.5,1140.3 1123.0,1137.2 1125.5,1133.5 1128.0,1129.1 1130.5,1124.0 1133.0,1118.1 1135.5,1111.4 1138.0,1103.7 1140.5,1095.0 1143.0,1085.3 1145.5,1074.5 1148.0,1062.6 1150.5,1049.6 1153.0,1035.4 1155.5,1020.2 1158.0,1003.9 1160.5,986.7 1163.0,968.6 1165.5,949.8 1168.0,930.5 1170.5,910.8 1173.0,891.0 1175.5,871.1 1178.0,851.5 1180.5,832.4 1183.0,814.1 1185.5,796.6 1188.0,780.4 1190.5,765.5 1193.0,752.2 1195.5,740.6 1198.0,730.9 1200.5,723.1 1203.0,717.4 1205.5,713.8 1208.0,712.3 1210.5,712.8 1213.0,715.3 1215.5,719.7 1218.0,725.8 1220.5,733.6 1223.0,743.0 1225.5,753.6 1228.0,765.4 1230.5,778.2 1233.0,791.8 1235.5,806.0 1238.0,820.6 1240.5,835.6 1243.0,850.7 1245.5,865.8 1248.0,880.8 1250.5,895.5 1253.0,910.0 1255.5,924.1 1258.0,937.7 1260.5,950.8 1263.0,963.4 1265.5,975.4 1268.0,986.9 1270.5,997.7 1273.0,1008.0 1275.5,1017.7 1278.0,1026.9 1280.5,1035.5 1283.0,1043.5 1285.5,1051.1 1288.0,1058.1 1290.5,1064.8 1293.0,1070.9 1295.5,1076.7 1298.0,1082.1 1300.5,1087.1 1303.0,1091.8 1305.5,1096.1 1308.0,1100.1 1310.5,1103.9 1313.0,1107.4 1315.5,1110.7 1318.0,1113.7 1320.5,1116.5 1323.0,1119.2 1325.5,1121.6 1328.0,1123.9 1330.5,1126.0 1333.0,1127.9 1335.5,1129.8 1338.0,1131.5 1340.5,1133.1 1343.0,1134.5 1345.5,1135.9 1348.0,1137.2 1350.5,1138.4 1353.0,1139.5 1355.5,1140.5 1358.0,1141.4 1360.5,1142.3 1363.0,1143.1 1365.5,1143.9 1368.0,1144.6 1370.5,1145.3 1373.0,1145.9 1375.5,1146.5 1378.0,1147.0 1380.5,1147.5 1383.0,1148.0 1385.5,1148.4 1388.0,1148.8 1390.5,1149.2 1393.0,1149.5 1395.5,1149.8 1398.0,1150.1 1400.5,1150.4 1403.0,1150.7 1405.5,1150.9 1408.0,1151.1 1410.5,1151.4 1413.0,1151.5 1415.5,1151.7 1418.0,1151.9 1420.5,1152.1 1423.0,1152.2 1425.5,1152.3 1428.0,1152.5 1430.5,1152.6 1433.0,1152.7 1435.5,1152.8 1438.0,1152.9 1440.5,1153.0 1443.0,1153.1 1445.5,1153.2 1448.0,1153.2 1450.5,1153.3 1453.0,1153.4 1455.5,1153.4 1458.0,1153.5 1460.5,1153.5 1463.0,1153.6 1465.5,1153.6 1468.0,1153.7 1470.5,1153.7 1473.0,1153.7 1475.5,1153.8 1478.0,1153.8 1480.5,1153.8 1483.0,1153.9 1485.5,1153.9 1488.0,1153.9 1490.5,1153.9 1493.0,1153.9 1495.5,1154.0 1498.0,1154.0 1500.5,1154.0 1503.0,1154.0 1505.5,1154.0 1508.0,1154.1 1510.5,1154.1 1513.0,1154.1 1515.5,1154.1 1518.0,1154.1 1520.5,1154.1 1523.0,1154.1 1525.5,1154.1 1528.0,1154.1 1530.5,1154.1 1533.0,1154.2 1535.5,1154.2 1538.0,1154.2 1540.5,1154.2 1543.0,1154.2 1545.5,1154.2 1548.0,1154.2 1550.5,1154.2 1553.0,1154.2 1555.5,1154.2 1558.0,1154.2 1560.5,1154.2 1563.0,1154.2 1565.5,1154.2 1568.0,1154.2 1570.5,1154.2 1573.0,1154.2 1575.5,1154.2 1578.0,1154.2 1580.5,1154.2 1583.0,1154.2 1585.5,1154.2 1588.0,1154.2 1590.5,1154.2 1593.0,1154.3 1595.5,1154.3 1598.0,1154.3 1600.5,1154.3 1603.0,1154.3 1605.5,1154.3 1608.0,1154.3 1610.5,1154.3 1613.0,1154.3 1615.5,1154.3 1618.0,1154.3 1620.5,1154.3 1623.0,1154.3 1625.5,1154.3 1628.0,1154.3 1630.5,1154.3 1633.0,1154.3 1635.5,1154.3 1638.0,1154.3 1640.5,1154.3 1643.0,1154.3 1645.5,1154.3 1648.0,1154.3 1650.5,1154.3 1653.0,1154.3 1655.5,1154.3 1658.0,1154.3 1660.5,1154.3 1663.0,1154.3 1665.5,1154.3 1668.0,1154.3 1670.5,1154.3 1673.0,1154.3 1675.5,1154.3 1678.0,1154.3 1680.5,1154.3 1683.0,1154.3 1685.5,1154.3 1688.0,1154.3 1690.5,1154.3 1693.0,1154.3 1695.5,1154.3 1698.0,1154.3 1700.5,1154.3 1703.0,1154.3 1705.5,1154.3 1708.0,1154.3 1710.5,1154.3 1713.0,1154.3 1715.5,1154.3 1718.0,1154.3 1720.5,1154.3 1723.0,1154.3 1725.5,1154.3 1728.0,1154.3 1730.5,1154.3 1733.0,1154.3 1735.5,1154.3 1738.0,1154.3 1740.5,1154.3 1743.0,1154.3 1745.5,1154.3 1748.0,1154.3 1750.5,1154.3 1753.0,1154.3 1755.5,1154.3 1758.0,1154.3 1760.5,1154.3 1763.0,1154.3 1765.5,1154.3 1768.0,1154.3 1770.5,1154.3 1773.0,1154.3 1775.5,1154.3 1778.0,1154.3 1780.5,1154.3 1783.0,1154.3 1785.5,1154.3 1788.0,1154.3 1790.5,1154.3 1793.0,1154.3 1795.5,1154.3 1798.0,1154.3 1800.5,1154.3 1803.0,1154.3 1805.5,1154.3 1808.0,1154.3 1810.5,1154.3 1813.0,1154.3 1815.5,1154.3 1818.0,1154.3 1820.5,1154.3 1823.0,1154.3 1825.5,1154.3 1828.0,1154.3 1830.5,1154.3 1833.0,1154.3 1835.5,1154.3 1838.0,1154.3 1840.5,1154.3 1843.0,1154.3 1845.5,1154.3 1848.0,1154.3 1850.5,1154.3 1853.0,1154.3 1855.5,1154.3 1858.0,1154.3 1860.5,1154.3 1863.0,1154.3 1865.5,1154.3 1868.0,1154.3 1870.5,1154.3 1873.0,1154.3 1875.5,1154.3 1878.0,1154.3 1880.5,1154.3 1883.0,1154.3 1885.5,1154.3 1888.0,1154.3 1890.5,1154.3 1893.0,1154.3 1895.5,1154.3 1898.0,1154.3 1900.5,1154.3 1903.0,1154.3 1905.5,1154.3 1908.0,1154.3 1910.5,1154.3 1913.0,1154.3 1915.5,1154.3 1918.0,1154.3 1920.5,1154.3 1923.0,1154.3 1925.5,1154.3 1928.0,1154.3 1930.5,1154.3 1933.0,1154.3 1935.5,1154.3 1938.0,1154.3 1940.5,1154.3 1943.0,1154.3 1945.5,1154.3 1948.0,1154.3 1950.5,1154.3 1953.0,1154.3 1955.5,1154.3 1958.0,1154.3 1960.5,1154.3 1963.0,1154.3 1965.5,1154.3 1968.0,1154.3 1970.5,1154.3 1973.0,1154.3 1975.5,1154.3 1978.0,1154.3 1980.5,1154.3 1983.0,1154.3 1985.5,1154.3 1988.0,1154.3 1990.5,1154.3 1993.0,1154.3 1995.5,1154.3 1998.0,1154.3 2000.5,1154.3 2003.0,1154.3 2005.5,1154.3 2008.0,1154.3 2010.5,1154.3 2013.0,1154.3 2015.5,1154.3 2018.0,1154.3 2020.5,1154.3 2023.0,1154.3 2025.5,1154.3 2028.0,1154.3 2030.5,1154.3 2033.0,1154.3 2035.5,1154.3 2038.0,1154.3 2040.5,1154.3 2043.0,1154.3 2045.5,1154.3 2048.0,1154.3 2050.5,1154.3 2053.0,1154.3 2055.5,1154.3 2058.0,1154.3 2060.5,1154.3 2063.0,1154.3 2065.5,1154.3 2068.0,1154.3 2070.5,1154.3 2073.0,1154.3 2075.5,1154.3 2078.0,1154.3 2080.5,1154.3 2083.0,1154.3 2085.5,1154.3 2088.0,1154.3 2090.5,1154.3 2093.0,1154.3 2095.5,1154.3 2098.0,1154.3 2100.5,1154.3 2103.0,1154.3 2105.5,1154.3 2108.0,1154.3 2110.5,1154.3 2113.0,1154.3 2115.5,1154.3 2118.0,1154.3 2120.5,1154.3 2123.0,1154.3 2125.5,1154.3 2128.0,1154.3 2130.5,1154.3 2133.0,1154.3 2135.5,1154.3 2138.0,1154.3 2140.5,1154.3 2143.0,1154.3 2145.5,1154.3" fill="none" stroke="#000080" stroke-width="2.4" stroke-linejoin="round"/>
<polyline points="245.5,1154.3 248.0,1154.3 250.5,1154.3 253.0,1154.3 255.5,1154.3 258.0,1154.3 260.5,1154.3 263.0,1154.3 265.5,1154.3 268.0,1154.3 270.5,1154.3 273.0,1154.3 275.5,1154.3 278.0,1154.3 280.5,1154.3 283.0,1154.3 285.5,1154.3 288.0,1154.3 290.5,1154.3 293.0,1154.3 295.5,1154.3 298.0,1154.3 300.5,1154.3 303.0,1154.3 305.5,1154.3 308.0,1154.3 310.5,1154.3 313.0,1154.3 315.5,1154.3 318.0,1154.3 320.5,1154.3 323.0,1154.3 325.5,1154.3 328.0,1154.3 330.5,1154.3 333.0,1154.3 335.5,1154.3 338.0,1154.3 340.5,1154.3 343.0,1154.3 345.5,1154.3 348.0,1154.3 350.5,1154.3 353.0,1154.3 355.5,1154.3 358.0,1154.3 360.5,1154.3 363.0,1154.3 365.5,1154.3 368.0,1154.3 370.5,1154.3 373.0,1154.3 375.5,1154.3 378.0,1154.3 380.5,1154.3 383.0,1154.3 385.5,1154.3 388.0,1154.3 390.5,1154.3 393.0,1154.3 395.5,1154.3 398.0,1154.3 400.5,1154.3 403.0,1154.3 405.5,1154.3 408.0,1154.3 410.5,1154.3 413.0,1154.3 415.5,1154.3 418.0,1154.3 420.5,1154.3 423.0,1154.3 425.5,1154.3 428.0,1154.3 430.5,1154.3 433.0,1154.3 435.5,1154.3 438.0,1154.3 440.5,1154.3 443.0,1154.3 445.5,1154.3 448.0,1154.2 450.5,1154.1 453.0,1154.0 455.5,1153.7 458.0,1153.4 460.5,1153.0 463.0,1152.5 465.5,1151.9 468.0,1150.9 470.5,1149.5 473.0,1148.1 475.5,1146.3 478.0,1144.1 480.5,1141.9 483.0,1139.9 485.5,1138.0 488.0,1136.0 490.5,1133.9 493.0,1131.4 495.5,1128.8 498.0,1126.3 500.5,1123.9 503.0,1121.6 505.5,1119.4 508.0,1117.6 510.5,1115.8 513.0,1114.3 515.5,1112.8 518.0,1111.5 520.5,1110.3 523.0,1109.2 525.5,1108.2 528.0,1107.3 530.5,1106.6 533.0,1106.0 535.5,1105.4 538.0,1105.0 540.5,1104.9 543.0,1104.9 545.5,1105.0 548.0,1105.1 550.5,1105.6 553.0,1106.2 555.5,1106.8 558.0,1107.5 560.5,1108.3 563.0,1109.1 565.5,1109.9 568.0,1110.8 570.5,1111.7 573.0,1112.6 575.5,1113.6 578.0,1114.6 580.5,1115.6 583.0,1116.6 585.5,1117.7 588.0,1118.7 590.5,1119.7 593.0,1120.8 595.5,1121.8 598.0,1122.9 600.5,1123.9 603.0,1125.0 605.5,1126.0 608.0,1127.0 610.5,1128.0 613.0,1129.1 615.5,1130.1 618.0,1131.1 620.5,1132.1 623.0,1133.1 625.5,1134.0 628.0,1135.0 630.5,1136.0 633.0,1136.9 635.5,1137.8 638.0,1138.7 640.5,1139.5 643.0,1140.3 645.5,1141.1 648.0,1141.9 650.5,1142.7 653.0,1143.4 655.5,1144.1 658.0,1144.8 660.5,1145.4 663.0,1146.0 665.5,1146.6 668.0,1147.1 670.5,1147.7 673.0,1148.2 675.5,1148.6 678.0,1149.0 680.5,1149.3 683.0,1149.7 685.5,1150.0 688.0,1150.3 690.5,1150.5 693.0,1150.8 695.5,1151.0 698.0,1151.2 700.5,1151.4 703.0,1151.6 705.5,1151.8 708.0,1151.9 710.5,1152.1 713.0,1152.3 715.5,1152.4 718.0,1152.5 720.5,1152.7 723.0,1152.8 725.5,1152.9 728.0,1153.0 730.5,1153.1 733.0,1153.2 735.5,1153.2 738.0,1153.3 740.5,1153.4 743.0,1153.5 745.5,1153.5 748.0,1153.6 750.5,1153.7 753.0,1153.7 755.5,1153.8 758.0,1153.8 760.5,1153.8 763.0,1153.9 765.5,1153.9 768.0,1153.9 770.5,1154.0 773.0,1154.0 775.5,1154.0 778.0,1154.0 780.5,1154.0 783.0,1154.1 785.5,1154.1 788.0,1154.1 790.5,1154.1 793.0,1154.1 795.5,1154.1 798.0,1154.1 800.5,1154.2 803.0,1154.2 805.5,1154.2 808.0,1154.2 810.5,1154.2 813.0,1154.2 815.5,1154.2 818.0,1154.2 820.5,1154.2 823.0,1154.2 825.5,1154.3 828.0,1154.3 830.5,1154.3 833.0,1154.3 835.5,1154.3 838.0,1154.3 840.5,1154.3 843.0,1154.3 845.5,1154.3 848.0,1154.3 850.5,1154.3 853.0,1154.3 855.5,1154.3 858.0,1154.3 860.5,1154.3 863.0,1154.3 865.5,1154.3 868.0,1154.3 870.5,1154.3 873.0,1154.3 875.5,1154.3 878.0,1154.3 880.5,1154.3 883.0,1154.3 885.5,1154.3 888.0,1154.3 890.5,1154.3 893.0,1154.3 895.5,1154.3 898.0,1154.3 900.5,1154.3 903.0,1154.3 905.5,1154.3 908.0,1154.3 910.5,1154.3 913.0,1154.3 915.5,1154.3 918.0,1154.3 920.5,1154.3 923.0,1154.3 925.5,1154.3 928.0,1154.3 930.5,1154.3 933.0,1154.3 935.5,1154.3 938.0,1154.3 940.5,1154.3 943.0,1154.3 945.5,1154.3 948.0,1154.3 950.5,1154.3 953.0,1154.3 955.5,1154.3 958.0,1154.3 960.5,1154.3 963.0,1154.3 965.5,1154.3 968.0,1154.3 970.5,1154.3 973.0,1154.3 975.5,1154.3 978.0,1154.3 980.5,1154.3 983.0,1154.3 985.5,1154.3 988.0,1154.3 990.5,1154.3 993.0,1154.3 995.5,1154.3 998.0,1154.3 1000.5,1154.3 1003.0,1154.3 1005.5,1154.3 1008.0,1154.3 1010.5,1154.3 1013.0,1154.3 1015.5,1154.3 1018.0,1154.3 1020.5,1154.3 1023.0,1154.3 1025.5,1154.3 1028.0,1154.3 1030.5,1154.3 1033.0,1154.3 1035.5,1154.3 1038.0,1154.3 1040.5,1154.3 1043.0,1154.3 1045.5,1154.3 1048.0,1154.3 1050.5,1154.3 1053.0,1154.3 1055.5,1154.3 1058.0,1154.3 1060.5,1154.3 1063.0,1154.3 1065.5,1154.3 1068.0,1154.3 1070.5,1154.3 1073.0,1154.2 1075.5,1154.2 1078.0,1154.2 1080.5,1154.1 1083.0,1154.1 1085.5,1154.0 1088.0,1153.9 1090.5,1153.7 1093.0,1153.5 1095.5,1153.2 1098.0,1152.9 1100.5,1152.4 1103.0,1151.9 1105.5,1151.1 1108.0,1150.2 1110.5,1149.0 1113.0,1147.5 1115.5,1145.7 1118.0,1143.5 1120.5,1140.8 1123.0,1137.4 1125.5,1133.5 1128.0,1128.7 1130.5,1123.1 1133.0,1116.4 1135.5,1108.7 1138.0,1099.7 1140.5,1089.4 1143.0,1077.6 1145.5,1064.3 1148.0,1049.3 1150.5,1032.5 1153.0,1014.0 1155.5,993.7 1158.0,971.6 1160.5,947.7 1163.0,922.1 1165.5,895.0 1168.0,866.5 1170.5,836.7 1173.0,805.9 1175.5,774.5 1178.0,742.6 1180.5,710.6 1183.0,679.0 1185.5,647.9 1188.0,617.9 1190.5,589.3 1193.0,562.5 1195.5,537.8 1198.0,515.4 1200.5,495.8 1203.0,479.1 1205.5,465.5 1208.0,455.1 1210.5,448.1 1213.0,444.4 1215.5,444.0 1218.0,446.9 1220.5,452.9 1223.0,461.8 1225.5,473.4 1228.0,487.6 1230.5,503.9 1233.0,522.3 1235.5,542.3 1238.0,563.7 1240.5,586.2 1243.0,609.5 1245.5,633.4 1248.0,657.6 1250.5,681.9 1253.0,706.0 1255.5,729.9 1258.0,753.4 1260.5,776.2 1263.0,798.4 1265.5,819.8 1268.0,840.3 1270.5,859.9 1273.0,878.7 1275.5,896.5 1278.0,913.3 1280.5,929.3 1283.0,944.3 1285.5,958.4 1288.0,971.7 1290.5,984.1 1293.0,995.8 1295.5,1006.7 1298.0,1016.8 1300.5,1026.3 1303.0,1035.2 1305.5,1043.4 1308.0,1051.1 1310.5,1058.3 1313.0,1065.0 1315.5,1071.2 1318.0,1077.0 1320.5,1082.3 1323.0,1087.4 1325.5,1092.0 1328.0,1096.3 1330.5,1100.4 1333.0,1104.1 1335.5,1107.6 1338.0,1110.8 1340.5,1113.9 1343.0,1116.7 1345.5,1119.3 1348.0,1121.7 1350.5,1123.9 1353.0,1126.0 1355.5,1128.0 1358.0,1129.8 1360.5,1131.5 1363.0,1133.1 1365.5,1134.5 1368.0,1135.9 1370.5,1137.2 1373.0,1138.3 1375.5,1139.4 1378.0,1140.4 1380.5,1141.4 1383.0,1142.3 1385.5,1143.1 1388.0,1143.9 1390.5,1144.6 1393.0,1145.2 1395.5,1145.8 1398.0,1146.4 1400.5,1146.9 1403.0,1147.4 1405.5,1147.9 1408.0,1148.3 1410.5,1148.7 1413.0,1149.1 1415.5,1149.4 1418.0,1149.8 1420.5,1150.1 1423.0,1150.3 1425.5,1150.6 1428.0,1150.9 1430.5,1151.1 1433.0,1151.3 1435.5,1151.5 1438.0,1151.7 1440.5,1151.8 1443.0,1152.0 1445.5,1152.1 1448.0,1152.3 1450.5,1152.4 1453.0,1152.5 1455.5,1152.6 1458.0,1152.7 1460.5,1152.8 1463.0,1152.9 1465.5,1153.0 1468.0,1153.1 1470.5,1153.2 1473.0,1153.2 1475.5,1153.3 1478.0,1153.4 1480.5,1153.4 1483.0,1153.5 1485.5,1153.5 1488.0,1153.6 1490.5,1153.6 1493.0,1153.7 1495.5,1153.7 1498.0,1153.7 1500.5,1153.8 1503.0,1153.8 1505.5,1153.8 1508.0,1153.8 1510.5,1153.9 1513.0,1153.9 1515.5,1153.9 1518.0,1153.9 1520.5,1154.0 1523.0,1154.0 1525.5,1154.0 1528.0,1154.0 1530.5,1154.0 1533.0,1154.0 1535.5,1154.0 1538.0,1154.1 1540.5,1154.1 1543.0,1154.1 1545.5,1154.1 1548.0,1154.1 1550.5,1154.1 1553.0,1154.1 1555.5,1154.1 1558.0,1154.1 1560.5,1154.1 1563.0,1154.2 1565.5,1154.2 1568.0,1154.2 1570.5,1154.2 1573.0,1154.2 1575.5,1154.2 1578.0,1154.2 1580.5,1154.2 1583.0,1154.2 1585.5,1154.2 1588.0,1154.2 1590.5,1154.2 1593.0,1154.2 1595.5,1154.2 1598.0,1154.2 1600.5,1154.2 1603.0,1154.2 1605.5,1154.2 1608.0,1154.2 1610.5,1154.2 1613.0,1154.2 1615.5,1154.2 1618.0,1154.2 1620.5,1154.2 1623.0,1154.2 1625.5,1154.2 1628.0,1154.2 1630.5,1154.2 1633.0,1154.3 1635.5,1154.3 1638.0,1154.3 1640.5,1154.3 1643.0,1154.3 1645.5,1154.3 1648.0,1154.3 1650.5,1154.3 1653.0,1154.3 1655.5,1154.3 1658.0,1154.3 1660.5,1154.3 1663.0,1154.3 1665.5,1154.3 1668.0,1154.3 1670.5,1154.3 1673.0,1154.3 1675.5,1154.3 1678.0,1154.3 1680.5,1154.3 1683.0,1154.3 1685.5,1154.3 1688.0,1154.3 1690.5,1154.3 1693.0,1154.3 1695.5,1154.3 1698.0,1154.3 1700.5,1154.3 1703.0,1154.3 1705.5,1154.3 1708.0,1154.3 1710.5,1154.3 1713.0,1154.3 1715.5,1154.3 1718.0,1154.3 1720.5,1154.3 1723.0,1154.3 1725.5,1154.3 1728.0,1154.3 1730.5,1154.3 1733.0,1154.3 1735.5,1154.3 1738.0,1154.3 1740.5,1154.3 1743.0,1154.3 1745.5,1154.3 1748.0,1154.3 1750.5,1154.3 1753.0,1154.3 1755.5,1154.3 1758.0,1154.3 1760.5,1154.3 1763.0,1154.3 1765.5,1154.3 1768.0,1154.3 1770.5,1154.3 1773.0,1154.3 1775.5,1154.3 1778.0,1154.3 1780.5,1154.3 1783.0,1154.3 1785.5,1154.3 1788.0,1154.3 1790.5,1154.3 1793.0,1154.3 1795.5,1154.3 1798.0,1154.3 1800.5,1154.3 1803.0,1154.3 1805.5,1154.3 1808.0,1154.3 1810.5,1154.3 1813.0,1154.3 1815.5,1154.3 1818.0,1154.3 1820.5,1154.3 1823.0,1154.3 1825.5,1154.3 1828.0,1154.3 1830.5,1154.3 1833.0,1154.3 1835.5,1154.3 1838.0,1154.3 1840.5,1154.3 1843.0,1154.3 1845.5,1154.3 1848.0,1154.3 1850.5,1154.3 1853.0,1154.3 1855.5,1154.3 1858.0,1154.3 1860.5,1154.3 1863.0,1154.3 1865.5,1154.3 1868.0,1154.3 1870.5,1154.3 1873.0,1154.3 1875.5,1154.3 1878.0,1154.3 1880.5,1154.3 1883.0,1154.3 1885.5,1154.3 1888.0,1154.3 1890.5,1154.3 1893.0,1154.3 1895.5,1154.3 1898.0,1154.3 1900.5,1154.3 1903.0,1154.3 1905.5,1154.3 1908.0,1154.3 1910.5,1154.3 1913.0,1154.3 1915.5,1154.3 1918.0,1154.3 1920.5,1154.3 1923.0,1154.3 1925.5,1154.3 1928.0,1154.3 1930.5,1154.3 1933.0,1154.3 1935.5,1154.3 1938.0,1154.3 1940.5,1154.3 1943.0,1154.3 1945.5,1154.3 1948.0,1154.3 1950.5,1154.3 1953.0,1154.3 1955.5,1154.3 1958.0,1154.3 1960.5,1154.3 1963.0,1154.3 1965.5,1154.3 1968.0,1154.3 1970.5,1154.3 1973.0,1154.3 1975.5,1154.3 1978.0,1154.3 1980.5,1154.3 1983.0,1154.3 1985.5,1154.3 1988.0,1154.3 1990.5,1154.3 1993.0,1154.3 1995.5,1154.3 1998.0,1154.3 2000.5,1154.3 2003.0,1154.3 2005.5,1154.3 2008.0,1154.3 2010.5,1154.3 2013.0,1154.3 2015.5,1154.3 2018.0,1154.3 2020.5,1154.3 2023.0,1154.3 2025.5,1154.3 2028.0,1154.3 2030.5,1154.3 2033.0,1154.3 2035.5,1154.3 2038.0,1154.3 2040.5,1154.3 2043.0,1154.3 2045.5,1154.3 2048.0,1154.3 2050.5,1154.3 2053.0,1154.3 2055.5,1154.3 2058.0,1154.3 2060.5,1154.3 2063.0,1154.3 2065.5,1154.3 2068.0,1154.3 2070.5,1154.3 2073.0,1154.3 2075.5,1154.3 2078.0,1154.3 2080.5,1154.3 2083.0,1154.3 2085.5,1154.3 2088.0,1154.3 2090.5,1154.3 2093.0,1154.3 2095.5,1154.3 2098.0,1154.3 2100.5,1154.3 2103.0,1154.3 2105.5,1154.3 2108.0,1154.3 2110.5,1154.3 2113.0,1154.3 2115.5,1154.3 2118.0,1154.3 2120.5,1154.3 2123.0,1154.3 2125.5,1154.3 2128.0,1154.3 2130.5,1154.3 2133.0,1154.3 2135.5,1154.3 2138.0,1154.3 2140.5,1154.3 2143.0,1154.3 2145.5,1154.3" fill="none" stroke="#8000FF" stroke-width="2.4" stroke-linejoin="round"/>
<polyline points="245.5,1154.3 248.0,1154.3 250.5,1154.3 253.0,1154.3 255.5,1154.3 258.0,1154.3 260.5,1154.3 263.0,1154.3 265.5,1154.3 268.0,1154.3 270.5,1154.3 273.0,1154.3 275.5,1154.3 278.0,1154.3 280.5,1154.3 283.0,1154.3 285.5,1154.3 288.0,1154.3 290.5,1154.3 293.0,1154.3 295.5,1154.3 298.0,1154.3 300.5,1154.3 303.0,1154.3 305.5,1154.3 308.0,1154.3 310.5,1154.3 313.0,1154.3 315.5,1154.3 318.0,1154.3 320.5,1154.3 323.0,1154.3 325.5,1154.3 328.0,1154.3 330.5,1154.3 333.0,1154.3 335.5,1154.3 338.0,1154.3 340.5,1154.3 343.0,1154.3 345.5,1154.3 348.0,1154.3 350.5,1154.3 353.0,1154.3 355.5,1154.3 358.0,1154.3 360.5,1154.3 363.0,1154.3 365.5,1154.3 368.0,1154.3 370.5,1154.3 373.0,1154.3 375.5,1154.3 378.0,1154.3 380.5,1154.3 383.0,1154.3 385.5,1154.3 388.0,1154.3 390.5,1154.3 393.0,1154.3 395.5,1154.3 398.0,1154.3 400.5,1154.3 403.0,1154.3 405.5,1154.3 408.0,1154.3 410.5,1154.3 413.0,1154.3 415.5,1154.3 418.0,1154.3 420.5,1154.3 423.0,1154.3 425.5,1154.3 428.0,1154.3 430.5,1154.3 433.0,1154.3 435.5,1154.3 438.0,1154.3 440.5,1154.3 443.0,1154.3 445.5,1154.3 448.0,1154.2 450.5,1154.1 453.0,1154.0 455.5,1153.7 458.0,1153.4 460.5,1153.0 463.0,1152.5 465.5,1151.9 468.0,1150.9 470.5,1149.5 473.0,1148.1 475.5,1146.3 478.0,1144.1 480.5,1141.9 483.0,1139.9 485.5,1138.0 488.0,1136.0 490.5,1133.9 493.0,1131.4 495.5,1128.8 498.0,1126.3 500.5,1123.9 503.0,1121.6 505.5,1119.4 508.0,1117.6 510.5,1115.9 513.0,1114.4 515.5,1113.1 518.0,1111.8 520.5,1110.7 523.0,1109.7 525.5,1108.8 528.0,1108.0 530.5,1107.3 533.0,1106.7 535.5,1106.2 538.0,1105.8 540.5,1105.8 543.0,1105.9 545.5,1106.1 548.0,1106.3 550.5,1106.8 553.0,1107.5 555.5,1108.3 558.0,1109.0 560.5,1109.8 563.0,1110.7 565.5,1111.6 568.0,1112.5 570.5,1113.4 573.0,1114.4 575.5,1115.3 578.0,1116.3 580.5,1117.3 583.0,1118.3 585.5,1119.3 588.0,1120.3 590.5,1121.3 593.0,1122.3 595.5,1123.3 598.0,1124.3 600.5,1125.3 603.0,1126.3 605.5,1127.3 608.0,1128.3 610.5,1129.3 613.0,1130.4 615.5,1131.4 618.0,1132.4 620.5,1133.3 623.0,1134.3 625.5,1135.2 628.0,1136.1 630.5,1137.1 633.0,1137.9 635.5,1138.8 638.0,1139.6 640.5,1140.4 643.0,1141.2 645.5,1142.0 648.0,1142.7 650.5,1143.5 653.0,1144.1 655.5,1144.8 658.0,1145.4 660.5,1146.0 663.0,1146.5 665.5,1147.1 668.0,1147.6 670.5,1148.1 673.0,1148.5 675.5,1148.9 678.0,1149.3 680.5,1149.6 683.0,1149.9 685.5,1150.2 688.0,1150.4 690.5,1150.7 693.0,1150.9 695.5,1151.1 698.0,1151.3 700.5,1151.5 703.0,1151.7 705.5,1151.9 708.0,1152.0 710.5,1152.2 713.0,1152.4 715.5,1152.5 718.0,1152.6 720.5,1152.7 723.0,1152.9 725.5,1153.0 728.0,1153.1 730.5,1153.1 733.0,1153.2 735.5,1153.3 738.0,1153.4 740.5,1153.5 743.0,1153.5 745.5,1153.6 748.0,1153.7 750.5,1153.7 753.0,1153.8 755.5,1153.8 758.0,1153.9 760.5,1153.9 763.0,1153.9 765.5,1153.9 768.0,1154.0 770.5,1154.0 773.0,1154.0 775.5,1154.0 778.0,1154.0 780.5,1154.1 783.0,1154.1 785.5,1154.1 788.0,1154.1 790.5,1154.1 793.0,1154.1 795.5,1154.1 798.0,1154.2 800.5,1154.2 803.0,1154.2 805.5,1154.2 808.0,1154.2 810.5,1154.2 813.0,1154.2 815.5,1154.2 818.0,1154.2 820.5,1154.2 823.0,1154.2 825.5,1154.3 828.0,1154.3 830.5,1154.3 833.0,1154.3 835.5,1154.3 838.0,1154.3 840.5,1154.3 843.0,1154.3 845.5,1154.3 848.0,1154.3 850.5,1154.3 853.0,1154.3 855.5,1154.3 858.0,1154.3 860.5,1154.3 863.0,1154.3 865.5,1154.3 868.0,1154.3 870.5,1154.3 873.0,1154.3 875.5,1154.3 878.0,1154.3 880.5,1154.3 883.0,1154.3 885.5,1154.3 888.0,1154.3 890.5,1154.3 893.0,1154.3 895.5,1154.3 898.0,1154.3 900.5,1154.3 903.0,1154.3 905.5,1154.3 908.0,1154.3 910.5,1154.3 913.0,1154.3 915.5,1154.3 918.0,1154.3 920.5,1154.3 923.0,1154.3 925.5,1154.3 928.0,1154.3 930.5,1154.3 933.0,1154.3 935.5,1154.3 938.0,1154.3 940.5,1154.3 943.0,1154.3 945.5,1154.3 948.0,1154.3 950.5,1154.3 953.0,1154.3 955.5,1154.3 958.0,1154.3 960.5,1154.3 963.0,1154.3 965.5,1154.3 968.0,1154.3 970.5,1154.3 973.0,1154.3 975.5,1154.3 978.0,1154.3 980.5,1154.3 983.0,1154.3 985.5,1154.3 988.0,1154.3 990.5,1154.3 993.0,1154.3 995.5,1154.3 998.0,1154.3 1000.5,1154.3 1003.0,1154.3 1005.5,1154.3 1008.0,1154.3 1010.5,1154.3 1013.0,1154.3 1015.5,1154.3 1018.0,1154.3 1020.5,1154.3 1023.0,1154.3 1025.5,1154.3 1028.0,1154.3 1030.5,1154.3 1033.0,1154.3 1035.5,1154.3 1038.0,1154.3 1040.5,1154.3 1043.0,1154.3 1045.5,1154.3 1048.0,1154.3 1050.5,1154.3 1053.0,1154.3 1055.5,1154.3 1058.0,1154.3 1060.5,1154.3 1063.0,1154.3 1065.5,1154.3 1068.0,1154.3 1070.5,1154.3 1073.0,1154.2 1075.5,1154.2 1078.0,1154.2 1080.5,1154.1 1083.0,1154.0 1085.5,1153.9 1088.0,1153.8 1090.5,1153.6 1093.0,1153.4 1095.5,1153.1 1098.0,1152.6 1100.5,1152.1 1103.0,1151.4 1105.5,1150.5 1108.0,1149.4 1110.5,1148.0 1113.0,1146.3 1115.5,1144.1 1118.0,1141.4 1120.5,1138.2 1123.0,1134.2 1125.5,1129.4 1128.0,1123.7 1130.5,1116.9 1133.0,1108.8 1135.5,1099.4 1138.0,1088.6 1140.5,1076.0 1143.0,1061.6 1145.5,1045.3 1148.0,1027.0 1150.5,1006.5 1153.0,983.8 1155.5,958.8 1158.0,931.5 1160.5,902.0 1163.0,870.4 1165.5,836.7 1168.0,801.2 1170.5,764.1 1173.0,725.7 1175.5,686.4 1178.0,646.4 1180.5,606.2 1183.0,566.3 1185.5,527.0 1188.0,489.0 1190.5,452.6 1193.0,418.3 1195.5,386.5 1198.0,357.7 1200.5,332.1 1203.0,310.2 1205.5,292.2 1208.0,278.1 1210.5,268.3 1213.0,262.6 1215.5,261.2 1218.0,263.8 1220.5,270.4 1223.0,280.8 1225.5,294.6 1228.0,311.6 1230.5,331.6 1233.0,354.1 1235.5,378.8 1238.0,405.3 1240.5,433.2 1243.0,462.3 1245.5,492.2 1248.0,522.6 1250.5,553.1 1253.0,583.6 1255.5,613.7 1258.0,643.3 1260.5,672.2 1263.0,700.3 1265.5,727.4 1268.0,753.5 1270.5,778.5 1273.0,802.3 1275.5,824.9 1278.0,846.4 1280.5,866.7 1283.0,885.9 1285.5,903.9 1288.0,920.8 1290.5,936.7 1293.0,951.6 1295.5,965.5 1298.0,978.5 1300.5,990.6 1303.0,1002.0 1305.5,1012.5 1308.0,1022.4 1310.5,1031.5 1313.0,1040.1 1315.5,1048.0 1318.0,1055.4 1320.5,1062.3 1323.0,1068.7 1325.5,1074.6 1328.0,1080.2 1330.5,1085.3 1333.0,1090.1 1335.5,1094.6 1338.0,1098.7 1340.5,1102.6 1343.0,1106.2 1345.5,1109.5 1348.0,1112.6 1350.5,1115.5 1353.0,1118.2 1355.5,1120.7 1358.0,1123.0 1360.5,1125.1 1363.0,1127.2 1365.5,1129.0 1368.0,1130.8 1370.5,1132.4 1373.0,1133.9 1375.5,1135.3 1378.0,1136.6 1380.5,1137.8 1383.0,1138.9 1385.5,1140.0 1388.0,1140.9 1390.5,1141.9 1393.0,1142.7 1395.5,1143.5 1398.0,1144.2 1400.5,1144.9 1403.0,1145.5 1405.5,1146.1 1408.0,1146.7 1410.5,1147.2 1413.0,1147.7 1415.5,1148.1 1418.0,1148.5 1420.5,1148.9 1423.0,1149.3 1425.5,1149.6 1428.0,1149.9 1430.5,1150.2 1433.0,1150.5 1435.5,1150.7 1438.0,1150.9 1440.5,1151.2 1443.0,1151.4 1445.5,1151.5 1448.0,1151.7 1450.5,1151.9 1453.0,1152.0 1455.5,1152.2 1458.0,1152.3 1460.5,1152.4 1463.0,1152.6 1465.5,1152.7 1468.0,1152.8 1470.5,1152.9 1473.0,1152.9 1475.5,1153.0 1478.0,1153.1 1480.5,1153.2 1483.0,1153.2 1485.5,1153.3 1488.0,1153.4 1490.5,1153.4 1493.0,1153.5 1495.5,1153.5 1498.0,1153.6 1500.5,1153.6 1503.0,1153.6 1505.5,1153.7 1508.0,1153.7 1510.5,1153.7 1513.0,1153.8 1515.5,1153.8 1518.0,1153.8 1520.5,1153.9 1523.0,1153.9 1525.5,1153.9 1528.0,1153.9 1530.5,1153.9 1533.0,1154.0 1535.5,1154.0 1538.0,1154.0 1540.5,1154.0 1543.0,1154.0 1545.5,1154.0 1548.0,1154.1 1550.5,1154.1 1553.0,1154.1 1555.5,1154.1 1558.0,1154.1 1560.5,1154.1 1563.0,1154.1 1565.5,1154.1 1568.0,1154.1 1570.5,1154.1 1573.0,1154.1 1575.5,1154.1 1578.0,1154.2 1580.5,1154.2 1583.0,1154.2 1585.5,1154.2 1588.0,1154.2 1590.5,1154.2 1593.0,1154.2 1595.5,1154.2 1598.0,1154.2 1600.5,1154.2 1603.0,1154.2 1605.5,1154.2 1608.0,1154.2 1610.5,1154.2 1613.0,1154.2 1615.5,1154.2 1618.0,1154.2 1620.5,1154.2 1623.0,1154.2 1625.5,1154.2 1628.0,1154.2 1630.5,1154.2 1633.0,1154.2 1635.5,1154.2 1638.0,1154.2 1640.5,1154.2 1643.0,1154.2 1645.5,1154.2 1648.0,1154.3 1650.5,1154.3 1653.0,1154.3 1655.5,1154.3 1658.0,1154.3 1660.5,1154.3 1663.0,1154.3 1665.5,1154.3 1668.0,1154.3 1670.5,1154.3 1673.0,1154.3 1675.5,1154.3 1678.0,1154.3 1680.5,1154.3 1683.0,1154.3 1685.5,1154.3 1688.0,1154.3 1690.5,1154.3 1693.0,1154.3 1695.5,1154.3 1698.0,1154.3 1700.5,1154.3 1703.0,1154.3 1705.5,1154.3 1708.0,1154.3 1710.5,1154.3 1713.0,1154.3 1715.5,1154.3 1718.0,1154.3 1720.5,1154.3 1723.0,1154.3 1725.5,1154.3 1728.0,1154.3 1730.5,1154.3 1733.0,1154.3 1735.5,1154.3 1738.0,1154.3 1740.5,1154.3 1743.0,1154.3 1745.5,1154.3 1748.0,1154.3 1750.5,1154.3 1753.0,1154.3 1755.5,1154.3 1758.0,1154.3 1760.5,1154.3 1763.0,1154.3 1765.5,1154.3 1768.0,1154.3 1770.5,1154.3 1773.0,1154.3 1775.5,1154.3 1778.0,1154.3 1780.5,1154.3 1783.0,1154.3 1785.5,1154.3 1788.0,1154.3 1790.5,1154.3 1793.0,1154.3 1795.5,1154.3 1798.0,1154.3 1800.5,1154.3 1803.0,1154.3 1805.5,1154.3 1808.0,1154.3 1810.5,1154.3 1813.0,1154.3 1815.5,1154.3 1818.0,1154.3 1820.5,1154.3 1823.0,1154.3 1825.5,1154.3 1828.0,1154.3 1830.5,1154.3 1833.0,1154.3 1835.5,1154.3 1838.0,1154.3 1840.5,1154.3 1843.0,1154.3 1845.5,1154.3 1848.0,1154.3 1850.5,1154.3 1853.0,1154.3 1855.5,1154.3 1858.0,1154.3 1860.5,1154.3 1863.0,1154.3 1865.5,1154.3 1868.0,1154.3 1870.5,1154.3 1873.0,1154.3 1875.5,1154.3 1878.0,1154.3 1880.5,1154.3 1883.0,1154.3 1885.5,1154.3 1888.0,1154.3 1890.5,1154.3 1893.0,1154.3 1895.5,1154.3 1898.0,1154.3 1900.5,1154.3 1903.0,1154.3 1905.5,1154.3 1908.0,1154.3 1910.5,1154.3 1913.0,1154.3 1915.5,1154.3 1918.0,1154.3 1920.5,1154.3 1923.0,1154.3 1925.5,1154.3 1928.0,1154.3 1930.5,1154.3 1933.0,1154.3 1935.5,1154.3 1938.0,1154.3 1940.5,1154.3 1943.0,1154.3 1945.5,1154.3 1948.0,1154.3 1950.5,1154.3 1953.0,1154.3 1955.5,1154.3 1958.0,1154.3 1960.5,1154.3 1963.0,1154.3 1965.5,1154.3 1968.0,1154.3 1970.5,1154.3 1973.0,1154.3 1975.5,1154.3 1978.0,1154.3 1980.5,1154.3 1983.0,1154.3 1985.5,1154.3 1988.0,1154.3 1990.5,1154.3 1993.0,1154.3 1995.5,1154.3 1998.0,1154.3 2000.5,1154.3 2003.0,1154.3 2005.5,1154.3 2008.0,1154.3 2010.5,1154.3 2013.0,1154.3 2015.5,1154.3 2018.0,1154.3 2020.5,1154.3 2023.0,1154.3 2025.5,1154.3 2028.0,1154.3 2030.5,1154.3 2033.0,1154.3 2035.5,1154.3 2038.0,1154.3 2040.5,1154.3 2043.0,1154.3 2045.5,1154.3 2048.0,1154.3 2050.5,1154.3 2053.0,1154.3 2055.5,1154.3 2058.0,1154.3 2060.5,1154.3 2063.0,1154.3 2065.5,1154.3 2068.0,1154.3 2070.5,1154.3 2073.0,1154.3 2075.5,1154.3 2078.0,1154.3 2080.5,1154.3 2083.0,1154.3 2085.5,1154.3 2088.0,1154.3 2090.5,1154.3 2093.0,1154.3 2095.5,1154.3 2098.0,1154.3 2100.5,1154.3 2103.0,1154.3 2105.5,1154.3 2108.0,1154.3 2110.5,1154.3 2113.0,1154.3 2115.5,1154.3 2118.0,1154.3 2120.5,1154.3 2123.0,1154.3 2125.5,1154.3 2128.0,1154.3 2130.5,1154.3 2133.0,1154.3 2135.5,1154.3 2138.0,1154.3 2140.5,1154.3 2143.0,1154.3 2145.5,1154.3" fill="none" stroke="#800080" stroke-width="2.4" stroke-linejoin="round"/>
<line x1="245.5" y1="173.1" x2="245.5" y2="1246" stroke="#000" stroke-width="3.8" stroke-linecap="round"/>
<line x1="233" y1="1224.6" x2="2146.8" y2="1224.6" stroke="#000" stroke-width="3.8" stroke-linecap="round"/>
<line x1="223" y1="1154.3" x2="245.5" y2="1154.3" stroke="#000" stroke-width="3.9" stroke-linecap="round"/>
<text x="209" y="1168.5" text-anchor="end" class="ta">0</text>
<line x1="223" y1="1014.1" x2="245.5" y2="1014.1" stroke="#000" stroke-width="3.9" stroke-linecap="round"/>
<text x="209" y="1028.3" text-anchor="end" class="ta">100</text>
<line x1="223" y1="874.0" x2="245.5" y2="874.0" stroke="#000" stroke-width="3.9" stroke-linecap="round"/>
<text x="209" y="888.2" text-anchor="end" class="ta">200</text>
<line x1="223" y1="733.8" x2="245.5" y2="733.8" stroke="#000" stroke-width="3.9" stroke-linecap="round"/>
<text x="209" y="748.0" text-anchor="end" class="ta">300</text>
<line x1="223" y1="593.6" x2="245.5" y2="593.6" stroke="#000" stroke-width="3.9" stroke-linecap="round"/>
<text x="209" y="607.8" text-anchor="end" class="ta">400</text>
<line x1="223" y1="453.4" x2="245.5" y2="453.4" stroke="#000" stroke-width="3.9" stroke-linecap="round"/>
<text x="209" y="467.6" text-anchor="end" class="ta">500</text>
<line x1="223" y1="313.3" x2="245.5" y2="313.3" stroke="#000" stroke-width="3.9" stroke-linecap="round"/>
<text x="209" y="327.5" text-anchor="end" class="ta">600</text>
<line x1="223" y1="173.1" x2="245.5" y2="173.1" stroke="#000" stroke-width="3.9" stroke-linecap="round"/>
<text x="209" y="187.3" text-anchor="end" class="ta">700</text>
<line x1="234" y1="1084.2" x2="245.5" y2="1084.2" stroke="#000" stroke-width="3.9" stroke-linecap="round"/>
<line x1="234" y1="944.0" x2="245.5" y2="944.0" stroke="#000" stroke-width="3.9" stroke-linecap="round"/>
<line x1="234" y1="803.9" x2="245.5" y2="803.9" stroke="#000" stroke-width="3.9" stroke-linecap="round"/>
<line x1="234" y1="663.7" x2="245.5" y2="663.7" stroke="#000" stroke-width="3.9" stroke-linecap="round"/>
<line x1="234" y1="523.5" x2="245.5" y2="523.5" stroke="#000" stroke-width="3.9" stroke-linecap="round"/>
<line x1="234" y1="383.4" x2="245.5" y2="383.4" stroke="#000" stroke-width="3.9" stroke-linecap="round"/>
<line x1="234" y1="243.2" x2="245.5" y2="243.2" stroke="#000" stroke-width="3.9" stroke-linecap="round"/>
<line x1="245.5" y1="1224.6" x2="245.5" y2="1246" stroke="#000" stroke-width="3.9" stroke-linecap="round"/>
<text x="245.5" y="1297" text-anchor="middle" class="tax">1.0</text>
<line x1="549.7" y1="1224.6" x2="549.7" y2="1246" stroke="#000" stroke-width="3.9" stroke-linecap="round"/>
<text x="549.7" y="1297" text-anchor="middle" class="tax">1.2</text>
<line x1="853.9" y1="1224.6" x2="853.9" y2="1246" stroke="#000" stroke-width="3.9" stroke-linecap="round"/>
<text x="853.9" y="1297" text-anchor="middle" class="tax">1.4</text>
<line x1="1158.1" y1="1224.6" x2="1158.1" y2="1246" stroke="#000" stroke-width="3.9" stroke-linecap="round"/>
<text x="1158.1" y="1297" text-anchor="middle" class="tax">1.6</text>
<line x1="1462.3" y1="1224.6" x2="1462.3" y2="1246" stroke="#000" stroke-width="3.9" stroke-linecap="round"/>
<text x="1462.3" y="1297" text-anchor="middle" class="tax">1.8</text>
<line x1="1766.5" y1="1224.6" x2="1766.5" y2="1246" stroke="#000" stroke-width="3.9" stroke-linecap="round"/>
<text x="1766.5" y="1297" text-anchor="middle" class="tax">2.0</text>
<line x1="2070.7" y1="1224.6" x2="2070.7" y2="1246" stroke="#000" stroke-width="3.9" stroke-linecap="round"/>
<text x="2070.7" y="1297" text-anchor="middle" class="tax">2.2</text>
<line x1="397.6" y1="1224.6" x2="397.6" y2="1236" stroke="#000" stroke-width="3.9" stroke-linecap="round"/>
<line x1="701.8" y1="1224.6" x2="701.8" y2="1236" stroke="#000" stroke-width="3.9" stroke-linecap="round"/>
<line x1="1006.0" y1="1224.6" x2="1006.0" y2="1236" stroke="#000" stroke-width="3.9" stroke-linecap="round"/>
<line x1="1310.2" y1="1224.6" x2="1310.2" y2="1236" stroke="#000" stroke-width="3.9" stroke-linecap="round"/>
<line x1="1614.4" y1="1224.6" x2="1614.4" y2="1236" stroke="#000" stroke-width="3.9" stroke-linecap="round"/>
<line x1="1918.6" y1="1224.6" x2="1918.6" y2="1236" stroke="#000" stroke-width="3.9" stroke-linecap="round"/>
<text x="93.7" y="738" transform="rotate(-90 93.7 738)" text-anchor="middle" class="tal">mAU</text>
<text x="1196.4" y="1386.9" text-anchor="middle" class="tal">Time(min)</text>
<rect x="1797.7" y="39.7" width="247.9" height="576.8" fill="none" stroke="#000" stroke-width="2"/>
<line x1="1822.3" y1="95.2" x2="1951" y2="95.2" stroke="#000000" stroke-width="2.3" stroke-linecap="round"/>
<text x="1965" y="115.2" class="tleg">0.5</text>
<line x1="1822.3" y1="165.1" x2="1951" y2="165.1" stroke="#FF0000" stroke-width="2.3" stroke-linecap="round"/>
<text x="1965" y="185.1" class="tleg">1</text>
<line x1="1822.3" y1="234.9" x2="1951" y2="234.9" stroke="#0000FF" stroke-width="2.3" stroke-linecap="round"/>
<text x="1965" y="254.9" class="tleg">2</text>
<line x1="1822.3" y1="304.8" x2="1951" y2="304.8" stroke="#FF00FF" stroke-width="2.3" stroke-linecap="round"/>
<text x="1965" y="324.8" class="tleg">3</text>
<line x1="1822.3" y1="374.6" x2="1951" y2="374.6" stroke="#008000" stroke-width="2.3" stroke-linecap="round"/>
<text x="1965" y="394.6" class="tleg">4</text>
<line x1="1822.3" y1="444.4" x2="1951" y2="444.4" stroke="#000080" stroke-width="2.3" stroke-linecap="round"/>
<text x="1965" y="464.4" class="tleg">5</text>
<line x1="1822.3" y1="514.3" x2="1951" y2="514.3" stroke="#8000FF" stroke-width="2.3" stroke-linecap="round"/>
<text x="1965" y="534.3" class="tleg">8</text>
<line x1="1822.3" y1="584.1" x2="1951" y2="584.1" stroke="#800080" stroke-width="2.3" stroke-linecap="round"/>
<text x="1965" y="604.1" class="tleg">10</text>
<defs><clipPath id="cb"><rect x="402" y="1500" width="1630" height="1240.5"/></clipPath></defs>
<g clip-path="url(#cb)" fill="none" stroke-width="4.0" stroke-linejoin="round">
<path d="M400.0,2721.0 L402.0,2721.0 L404.0,2721.1 L406.0,2721.1 L408.0,2721.2 L410.0,2721.2 L412.0,2721.2 L414.0,2721.3 L416.0,2721.3 L418.0,2721.3 L420.0,2721.4 L422.0,2721.4 L424.0,2721.4 L426.0,2721.5 L428.0,2721.5 L430.0,2721.5 L432.0,2721.6 L434.0,2721.6 L436.0,2721.6 L438.0,2721.6 L440.0,2721.6 L442.0,2721.7 L444.0,2721.7 L446.0,2721.7 L448.0,2721.7 L450.0,2721.7 L452.0,2721.8 L454.0,2721.8 L456.0,2721.8 L458.0,2721.8 L460.0,2721.8 L462.0,2721.8 L464.0,2721.9 L466.0,2721.9 L468.0,2721.9 L470.0,2721.9 L472.0,2721.9 L474.0,2721.9 L476.0,2721.9 L478.0,2721.9 L480.0,2721.9 L482.0,2721.9 L484.0,2721.9 L486.0,2722.0 L488.0,2722.0 L490.0,2722.0 L492.0,2722.0 L494.0,2722.0 L496.0,2722.0 L498.0,2722.0 L500.0,2722.0 L502.0,2722.0 L504.0,2722.0 L506.0,2722.0 L508.0,2722.0 L510.0,2722.0 L512.0,2722.0 L514.0,2722.0 L516.0,2722.0 L518.0,2722.0 L520.0,2722.0 L522.0,2722.0 L524.0,2722.0 L526.0,2722.0 L528.0,2722.0 L530.0,2722.0 L532.0,2722.0 L534.0,2722.0 L536.0,2722.0 L538.0,2721.8 L540.0,2721.1 L542.0,2720.0 L544.0,2718.6 L546.0,2716.8 L548.0,2714.7 L550.0,2712.4 L552.0,2709.8 L554.0,2706.0 L556.0,2700.7 L558.0,2694.1 L560.0,2686.3 L562.0,2677.5 L564.0,2667.8 L566.0,2655.5 L568.0,2639.0 L570.0,2619.2 L572.0,2596.8 L574.0,2572.7 L576.0,2547.6 L578.0,2522.5 L580.0,2498.0 L582.0,2474.9 L584.0,2451.3 L586.0,2426.5 L588.0,2401.2 L590.0,2376.1 L592.0,2351.9 L594.0,2329.4 L596.0,2309.3 L598.0,2291.6 L600.0,2274.6 L602.0,2258.3 L604.0,2243.4 L606.0,2230.3 L608.0,2219.6 L610.0,2211.5 L612.0,2204.3 L614.0,2197.8 L616.0,2192.5 L618.0,2189.2 L620.0,2188.4 L622.0,2189.4 L624.0,2191.6 L626.0,2195.0 L628.0,2199.2 L630.0,2204.2 L632.0,2209.9 L634.0,2216.0 L636.0,2222.3 L638.0,2229.2 L640.0,2239.6 L642.0,2252.9 L644.0,2267.4 L646.0,2281.6 L648.0,2293.8 L650.0,2302.5 L652.0,2309.3 L654.0,2315.9 L656.0,2322.1 L658.0,2327.6 L660.0,2332.0 L662.0,2335.3 L664.0,2337.0 L666.0,2336.9 L668.0,2334.8 L670.0,2331.2 L672.0,2326.8 L674.0,2322.0 L676.0,2317.5 L678.0,2313.7 L680.0,2309.9 L682.0,2305.8 L684.0,2301.6 L686.0,2297.7 L688.0,2294.4 L690.0,2292.1 L692.0,2291.0 L694.0,2292.0 L696.0,2296.0 L698.0,2302.2 L700.0,2310.0 L702.0,2319.0 L704.0,2328.3 L706.0,2337.3 L708.0,2345.5 L710.0,2352.4 L712.0,2358.8 L714.0,2365.2 L716.0,2372.0 L718.0,2379.6 L720.0,2388.7 L722.0,2399.0 L724.0,2410.3 L726.0,2422.9 L728.0,2433.5 L730.0,2442.4 L732.0,2450.5 L734.0,2458.5 L736.0,2466.5 L738.0,2474.0 L740.0,2480.4 L742.0,2485.9 L744.0,2490.7 L746.0,2495.4 L748.0,2500.2 L750.0,2505.3 L752.0,2510.3 L754.0,2515.2 L756.0,2519.8 L758.0,2523.8 L760.0,2527.5 L762.0,2531.0 L764.0,2534.4 L766.0,2538.0 L768.0,2541.8 L770.0,2545.8 L772.0,2549.9 L774.0,2554.2 L776.0,2558.3 L778.0,2562.3 L780.0,2566.0 L782.0,2569.5 L784.0,2573.0 L786.0,2576.4 L788.0,2579.7 L790.0,2582.7 L792.0,2585.3 L794.0,2587.4 L796.0,2589.2 L798.0,2590.9 L800.0,2592.4 L802.0,2593.6 L804.0,2594.4 L806.0,2594.5 L808.0,2594.2 L810.0,2593.8 L812.0,2593.3 L814.0,2592.7 L816.0,2592.0 L818.0,2591.4 L820.0,2590.9 L822.0,2590.6 L824.0,2590.4 L826.0,2590.6 L828.0,2591.1 L830.0,2591.9 L832.0,2592.8 L834.0,2593.9 L836.0,2595.0 L838.0,2596.6 L840.0,2598.6 L842.0,2600.9 L844.0,2603.2 L846.0,2605.5 L848.0,2607.5 L850.0,2609.2 L852.0,2611.0 L854.0,2612.9 L856.0,2614.6 L858.0,2616.3 L860.0,2617.8 L862.0,2619.0 L864.0,2620.0 L866.0,2620.6 L868.0,2621.1 L870.0,2621.4 L872.0,2620.6 L874.0,2618.7 L876.0,2616.1 L878.0,2613.3 L880.0,2609.8 L882.0,2605.4 L884.0,2600.3 L886.0,2594.6 L888.0,2587.5 L890.0,2578.1 L892.0,2565.9 L894.0,2553.2 L896.0,2539.9 L898.0,2526.3 L900.0,2512.5 L902.0,2499.2 L904.0,2488.9 L906.0,2478.1 L908.0,2458.5 L910.0,2433.3 L912.0,2408.4 L914.0,2388.6 L916.0,2370.8 L918.0,2354.3 L920.0,2338.9 L922.0,2324.0 L924.0,2308.7 L926.0,2296.0 L928.0,2289.3 L930.0,2285.2 L932.0,2282.6 L934.0,2282.1 L936.0,2284.1 L938.0,2287.7 L940.0,2292.2 L942.0,2299.5 L944.0,2309.2 L946.0,2319.9 L948.0,2332.4 L950.0,2346.8 L952.0,2361.8 L954.0,2376.5 L956.0,2391.6 L958.0,2406.8 L960.0,2421.8 L962.0,2436.5 L964.0,2451.3 L966.0,2465.8 L968.0,2479.9 L970.0,2493.2 L972.0,2505.7 L974.0,2517.6 L976.0,2529.2 L978.0,2541.1 L980.0,2552.7 L982.0,2561.3 L984.0,2567.9 L986.0,2574.3 L988.0,2580.5 L990.0,2586.3 L992.0,2591.9 L994.0,2597.3 L996.0,2602.4 L998.0,2607.2 L1000.0,2611.8 L1002.0,2616.2 L1004.0,2620.3 L1006.0,2624.3 L1008.0,2627.9 L1010.0,2631.4 L1012.0,2634.7 L1014.0,2637.8 L1016.0,2640.6 L1018.0,2643.3 L1020.0,2645.8 L1022.0,2648.1 L1024.0,2650.2 L1026.0,2652.2 L1028.0,2654.2 L1030.0,2656.1 L1032.0,2658.0 L1034.0,2659.9 L1036.0,2661.7 L1038.0,2663.4 L1040.0,2665.1 L1042.0,2666.6 L1044.0,2668.1 L1046.0,2669.4 L1048.0,2670.6 L1050.0,2671.6 L1052.0,2672.4 L1054.0,2673.1 L1056.0,2673.6 L1058.0,2673.9 L1060.0,2674.0 L1062.0,2673.6 L1064.0,2672.7 L1066.0,2671.3 L1068.0,2669.8 L1070.0,2668.0 L1072.0,2666.2 L1074.0,2664.5 L1076.0,2662.6 L1078.0,2660.5 L1080.0,2658.2 L1082.0,2655.7 L1084.0,2653.1 L1086.0,2650.4 L1088.0,2647.7 L1090.0,2644.9 L1092.0,2641.9 L1094.0,2638.5 L1096.0,2635.0 L1098.0,2631.3 L1100.0,2627.8 L1102.0,2624.5 L1104.0,2621.6 L1106.0,2619.1 L1108.0,2616.9 L1110.0,2614.7 L1112.0,2612.6 L1114.0,2610.7 L1116.0,2609.3 L1118.0,2608.5 L1120.0,2608.4 L1122.0,2609.0 L1124.0,2610.4 L1126.0,2612.3 L1128.0,2614.6 L1130.0,2617.1 L1132.0,2619.9 L1134.0,2622.6 L1136.0,2625.2 L1138.0,2627.6 L1140.0,2629.7 L1142.0,2631.6 L1144.0,2633.4 L1146.0,2635.2 L1148.0,2637.1 L1150.0,2639.2 L1152.0,2641.5 L1154.0,2644.1 L1156.0,2646.7 L1158.0,2649.4 L1160.0,2651.7 L1162.0,2653.7 L1164.0,2655.3 L1166.0,2656.7 L1168.0,2658.0 L1170.0,2659.2 L1172.0,2660.2 L1174.0,2661.2 L1176.0,2661.9 L1178.0,2662.6 L1180.0,2663.2 L1182.0,2663.7 L1184.0,2664.3 L1186.0,2664.8 L1188.0,2665.5 L1190.0,2666.1 L1192.0,2666.8 L1194.0,2667.5 L1196.0,2668.3 L1198.0,2669.0 L1200.0,2669.7 L1202.0,2670.4 L1204.0,2671.1 L1206.0,2671.8 L1208.0,2672.5 L1210.0,2673.2 L1212.0,2673.9 L1214.0,2674.5 L1216.0,2675.2 L1218.0,2675.8 L1220.0,2676.4 L1222.0,2677.0 L1224.0,2677.5 L1226.0,2678.0 L1228.0,2678.4 L1230.0,2678.9 L1232.0,2679.3 L1234.0,2679.7 L1236.0,2680.0 L1238.0,2680.2 L1240.0,2680.5 L1242.0,2680.7 L1244.0,2680.8 L1246.0,2681.0 L1248.0,2681.2 L1250.0,2681.4 L1252.0,2681.6 L1254.0,2681.7 L1256.0,2681.9 L1258.0,2682.1 L1260.0,2682.3 L1262.0,2682.6 L1264.0,2683.1 L1266.0,2683.6 L1268.0,2684.3 L1270.0,2685.0 L1272.0,2685.6 L1274.0,2686.3 L1276.0,2686.9 L1278.0,2687.5 L1280.0,2688.1 L1282.0,2688.7 L1284.0,2689.3 L1286.0,2689.9 L1288.0,2690.5 L1290.0,2691.1 L1292.0,2691.7 L1294.0,2692.3 L1296.0,2692.8 L1298.0,2693.3 L1300.0,2693.7 L1302.0,2694.0 L1304.0,2694.3 L1306.0,2694.5 L1308.0,2694.8 L1310.0,2695.0 L1312.0,2695.2 L1314.0,2695.3 L1316.0,2695.5 L1318.0,2695.8 L1320.0,2696.0 L1322.0,2696.3 L1324.0,2696.5 L1326.0,2696.8 L1328.0,2697.1 L1330.0,2697.4 L1332.0,2697.7 L1334.0,2698.1 L1336.0,2698.4 L1338.0,2698.7 L1340.0,2699.0 L1342.0,2699.3 L1344.0,2699.5 L1346.0,2699.8 L1348.0,2700.0 L1350.0,2700.2 L1352.0,2700.4 L1354.0,2700.6 L1356.0,2700.8 L1358.0,2701.0 L1360.0,2701.2 L1362.0,2701.4 L1364.0,2701.6 L1366.0,2701.8 L1368.0,2701.9 L1370.0,2702.1 L1372.0,2702.3 L1374.0,2702.5 L1376.0,2702.6 L1378.0,2702.8 L1380.0,2702.9 L1382.0,2703.1 L1384.0,2703.2 L1386.0,2703.4 L1388.0,2703.5 L1390.0,2703.7 L1392.0,2703.8 L1394.0,2703.9 L1396.0,2704.0 L1398.0,2704.1 L1400.0,2704.2 L1402.0,2704.3 L1404.0,2704.4 L1406.0,2704.5 L1408.0,2704.6 L1410.0,2704.6 L1412.0,2704.7 L1414.0,2704.8 L1416.0,2704.8 L1418.0,2704.9 L1420.0,2705.0 L1422.0,2705.0 L1424.0,2705.1 L1426.0,2705.1 L1428.0,2705.2 L1430.0,2705.2 L1432.0,2705.3 L1434.0,2705.3 L1436.0,2705.4 L1438.0,2705.4 L1440.0,2705.5 L1442.0,2705.5 L1444.0,2705.5 L1446.0,2705.6 L1448.0,2705.6 L1450.0,2705.7 L1452.0,2705.7 L1454.0,2705.7 L1456.0,2705.8 L1458.0,2705.8 L1460.0,2705.9 L1462.0,2705.9 L1464.0,2706.0 L1466.0,2706.0 L1468.0,2706.1 L1470.0,2706.1 L1472.0,2706.2 L1474.0,2706.2 L1476.0,2706.3 L1478.0,2706.3 L1480.0,2706.4 L1482.0,2706.4 L1484.0,2706.5 L1486.0,2706.5 L1488.0,2706.6 L1490.0,2706.6 L1492.0,2706.7 L1494.0,2706.7 L1496.0,2706.8 L1498.0,2706.8 L1500.0,2706.9 L1502.0,2706.9 L1504.0,2707.0 L1506.0,2707.0 L1508.0,2707.1 L1510.0,2707.1 L1512.0,2707.2 L1514.0,2707.2 L1516.0,2707.3 L1518.0,2707.3 L1520.0,2707.4 L1522.0,2707.4 L1524.0,2707.5 L1526.0,2707.5 L1528.0,2707.6 L1530.0,2707.6 L1532.0,2707.7 L1534.0,2707.8 L1536.0,2707.8 L1538.0,2707.9 L1540.0,2708.0 L1542.0,2708.0 L1544.0,2708.1 L1546.0,2708.2 L1548.0,2708.2 L1550.0,2708.3 L1552.0,2708.4 L1554.0,2708.4 L1556.0,2708.5 L1558.0,2708.5 L1560.0,2708.6 L1562.0,2708.6 L1564.0,2708.7 L1566.0,2708.7 L1568.0,2708.8 L1570.0,2708.8 L1572.0,2708.8 L1574.0,2708.9 L1576.0,2708.9 L1578.0,2708.9 L1580.0,2708.9 L1582.0,2708.9 L1584.0,2708.9 L1586.0,2708.8 L1588.0,2708.7 L1590.0,2708.6 L1592.0,2708.4 L1594.0,2708.2 L1596.0,2708.0 L1598.0,2707.7 L1600.0,2707.5 L1602.0,2707.2 L1604.0,2706.9 L1606.0,2706.6 L1608.0,2706.4 L1610.0,2706.1 L1612.0,2705.8 L1614.0,2705.4 L1616.0,2705.0 L1618.0,2704.6 L1620.0,2704.2 L1622.0,2703.7 L1624.0,2703.2 L1626.0,2702.6 L1628.0,2702.1 L1630.0,2701.5 L1632.0,2700.9 L1634.0,2700.3 L1636.0,2699.7 L1638.0,2699.2 L1640.0,2698.6 L1642.0,2697.9 L1644.0,2697.2 L1646.0,2696.4 L1648.0,2695.6 L1650.0,2694.8 L1652.0,2693.9 L1654.0,2693.1 L1656.0,2692.3 L1658.0,2691.5 L1660.0,2690.8 L1662.0,2690.1 L1664.0,2689.5 L1666.0,2689.1 L1668.0,2688.7 L1670.0,2688.4 L1672.0,2688.1 L1674.0,2687.8 L1676.0,2687.6 L1678.0,2687.4 L1680.0,2687.3 L1682.0,2687.2 L1684.0,2687.2 L1686.0,2687.4 L1688.0,2687.6 L1690.0,2687.9 L1692.0,2688.3 L1694.0,2688.8 L1696.0,2689.3 L1698.0,2689.9 L1700.0,2690.5 L1702.0,2691.2 L1704.0,2691.9 L1706.0,2692.6 L1708.0,2693.3 L1710.0,2694.1 L1712.0,2694.8 L1714.0,2695.5 L1716.0,2696.2 L1718.0,2696.8 L1720.0,2697.5 L1722.0,2698.2 L1724.0,2698.9 L1726.0,2699.7 L1728.0,2700.6 L1730.0,2701.4 L1732.0,2702.3 L1734.0,2703.1 L1736.0,2703.9 L1738.0,2704.7 L1740.0,2705.4 L1742.0,2706.0 L1744.0,2706.5 L1746.0,2707.0 L1748.0,2707.3 L1750.0,2707.5 L1752.0,2707.8 L1754.0,2708.0 L1756.0,2708.2 L1758.0,2708.4 L1760.0,2708.5 L1762.0,2708.6 L1764.0,2708.7 L1766.0,2708.7 L1768.0,2708.6 L1770.0,2708.4 L1772.0,2708.1 L1774.0,2707.8 L1776.0,2707.4 L1778.0,2706.9 L1780.0,2706.5 L1782.0,2706.0 L1784.0,2705.6 L1786.0,2705.2 L1788.0,2704.8 L1790.0,2704.5 L1792.0,2704.3 L1794.0,2704.0 L1796.0,2703.8 L1798.0,2703.6 L1800.0,2703.3 L1802.0,2703.1 L1804.0,2702.9 L1806.0,2702.7 L1808.0,2702.6 L1810.0,2702.4 L1812.0,2702.4 L1814.0,2702.3 L1816.0,2702.4 L1818.0,2702.4 L1820.0,2702.6 L1822.0,2702.8 L1824.0,2703.0 L1826.0,2703.2 L1828.0,2703.5 L1830.0,2703.8 L1832.0,2704.0 L1834.0,2704.3 L1836.0,2704.5 L1838.0,2704.8 L1840.0,2705.1 L1842.0,2705.4 L1844.0,2705.7 L1846.0,2706.1 L1848.0,2706.4 L1850.0,2706.7 L1852.0,2707.0 L1854.0,2707.3 L1856.0,2707.6 L1858.0,2707.8 L1860.0,2707.9 L1862.0,2708.1 L1864.0,2708.1 L1866.0,2708.2 L1868.0,2708.2 L1870.0,2708.2 L1872.0,2708.3 L1874.0,2708.3 L1876.0,2708.3 L1878.0,2708.3 L1880.0,2708.4 L1882.0,2708.4 L1884.0,2708.4 L1886.0,2708.4 L1888.0,2708.4 L1890.0,2708.4 L1892.0,2708.4 L1894.0,2708.5 L1896.0,2708.5 L1898.0,2708.5 L1900.0,2708.5 L1902.0,2708.5 L1904.0,2708.5 L1906.0,2708.5 L1908.0,2708.5 L1910.0,2708.6 L1912.0,2708.6 L1914.0,2708.6 L1916.0,2708.6 L1918.0,2708.6 L1920.0,2708.7 L1922.0,2708.7 L1924.0,2708.7 L1926.0,2708.8 L1928.0,2708.8 L1930.0,2708.9 L1932.0,2708.9 L1934.0,2709.0 L1936.0,2709.0 L1938.0,2709.1 L1940.0,2709.2 L1942.0,2709.2 L1944.0,2709.3 L1946.0,2709.4 L1948.0,2709.4 L1950.0,2709.5 L1952.0,2709.6 L1954.0,2709.6 L1956.0,2709.7 L1958.0,2709.8 L1960.0,2709.8 L1962.0,2709.9 L1964.0,2709.9 L1966.0,2710.0 L1968.0,2710.0 L1970.0,2710.1 L1972.0,2710.1 L1974.0,2710.1 L1976.0,2710.1 L1978.0,2710.1 L1980.0,2710.1 L1982.0,2710.1 L1984.0,2710.1 L1986.0,2710.1 L1988.0,2710.1 L1990.0,2710.1 L1992.0,2710.1 L1994.0,2710.1 L1996.0,2710.1 L1998.0,2710.1 L2000.0,2710.1 L2002.0,2710.1 L2004.0,2710.1 L2006.0,2710.1 L2008.0,2710.1 L2010.0,2710.1 L2012.0,2710.1 L2014.0,2710.1 L2016.0,2710.1 L2018.0,2710.1 L2020.0,2710.1 L2022.0,2710.1 L2024.0,2710.1 L2026.0,2710.1 L2027.9,2710.1" stroke="#008000"/>
<path d="M400.0,2731.3 L402.0,2731.3 L404.0,2731.3 L406.0,2731.3 L408.0,2731.3 L410.0,2731.3 L412.0,2731.3 L414.0,2731.3 L416.0,2731.3 L418.0,2731.2 L420.0,2731.2 L422.0,2731.2 L424.0,2731.2 L426.0,2731.2 L428.0,2731.2 L430.0,2731.2 L432.0,2731.1 L434.0,2731.1 L436.0,2731.1 L438.0,2731.1 L440.0,2731.0 L442.0,2731.0 L444.0,2731.0 L446.0,2731.0 L448.0,2730.9 L450.0,2730.9 L452.0,2730.9 L454.0,2730.9 L456.0,2730.8 L458.0,2730.8 L460.0,2730.8 L462.0,2730.7 L464.0,2730.7 L466.0,2730.6 L468.0,2730.6 L470.0,2730.6 L472.0,2730.5 L474.0,2730.5 L476.0,2730.4 L478.0,2730.4 L480.0,2730.4 L482.0,2730.3 L484.0,2730.3 L486.0,2730.2 L488.0,2730.2 L490.0,2730.1 L492.0,2730.1 L494.0,2730.0 L496.0,2730.0 L498.0,2729.9 L500.0,2729.9 L502.0,2729.8 L504.0,2729.8 L506.0,2729.7 L508.0,2729.7 L510.0,2729.6 L512.0,2729.5 L514.0,2729.5 L516.0,2729.4 L518.0,2729.4 L520.0,2729.3 L522.0,2729.3 L524.0,2729.2 L526.0,2729.1 L528.0,2729.1 L530.0,2729.0 L532.0,2728.9 L534.0,2728.9 L536.0,2728.8 L538.0,2728.7 L540.0,2728.7 L542.0,2728.6 L544.0,2728.6 L546.0,2728.5 L548.0,2728.4 L550.0,2728.3 L552.0,2728.3 L554.0,2728.2 L556.0,2728.1 L558.0,2728.1 L560.0,2728.0 L562.0,2727.9 L564.0,2727.9 L566.0,2727.8 L568.0,2727.7 L570.0,2727.6 L572.0,2727.6 L574.0,2727.5 L576.0,2727.4 L578.0,2727.3 L580.0,2727.2 L582.0,2727.2 L584.0,2727.1 L586.0,2727.0 L588.0,2726.9 L590.0,2726.8 L592.0,2726.6 L594.0,2726.5 L596.0,2726.4 L598.0,2726.3 L600.0,2726.1 L602.0,2726.0 L604.0,2725.8 L606.0,2725.6 L608.0,2725.4 L610.0,2725.3 L612.0,2725.1 L614.0,2724.9 L616.0,2724.6 L618.0,2724.4 L620.0,2724.2 L622.0,2723.9 L624.0,2723.6 L626.0,2723.3 L628.0,2723.0 L630.0,2722.7 L632.0,2722.4 L634.0,2722.1 L636.0,2721.6 L638.0,2720.8 L640.0,2719.6 L642.0,2718.2 L644.0,2716.5 L646.0,2714.7 L648.0,2712.7 L650.0,2710.2 L652.0,2707.0 L654.0,2703.3 L656.0,2699.3 L658.0,2694.8 L660.0,2690.0 L662.0,2684.4 L664.0,2677.9 L666.0,2670.6 L668.0,2662.7 L670.0,2654.1 L672.0,2645.1 L674.0,2634.6 L676.0,2622.5 L678.0,2609.4 L680.0,2596.2 L682.0,2583.3 L684.0,2571.5 L686.0,2560.9 L688.0,2551.0 L690.0,2541.3 L692.0,2531.4 L694.0,2520.7 L696.0,2508.1 L698.0,2494.3 L700.0,2482.5 L702.0,2474.5 L704.0,2468.1 L706.0,2462.9 L708.0,2458.8 L710.0,2455.5 L712.0,2452.3 L714.0,2449.4 L716.0,2447.0 L718.0,2445.3 L720.0,2444.5 L722.0,2444.6 L724.0,2445.0 L726.0,2445.5 L728.0,2446.0 L730.0,2446.1 L732.0,2446.1 L734.0,2446.1 L736.0,2446.1 L738.0,2446.1 L740.0,2446.1 L742.0,2444.5 L744.0,2441.3 L746.0,2437.4 L748.0,2433.4 L750.0,2429.2 L752.0,2424.2 L754.0,2418.8 L756.0,2413.4 L758.0,2407.3 L760.0,2401.0 L762.0,2396.4 L764.0,2393.1 L766.0,2390.2 L768.0,2387.7 L770.0,2385.9 L772.0,2385.0 L774.0,2385.3 L776.0,2386.7 L778.0,2388.8 L780.0,2391.3 L782.0,2394.1 L784.0,2398.5 L786.0,2403.3 L788.0,2406.6 L790.0,2407.3 L792.0,2407.1 L794.0,2406.7 L796.0,2404.9 L798.0,2402.0 L800.0,2398.4 L802.0,2392.8 L804.0,2385.0 L806.0,2376.1 L808.0,2364.5 L810.0,2353.0 L812.0,2344.3 L814.0,2337.1 L816.0,2330.4 L818.0,2323.2 L820.0,2314.3 L822.0,2304.0 L824.0,2293.4 L826.0,2284.1 L828.0,2277.2 L830.0,2274.1 L832.0,2274.6 L834.0,2276.5 L836.0,2279.6 L838.0,2283.6 L840.0,2288.4 L842.0,2296.9 L844.0,2311.7 L846.0,2329.1 L848.0,2345.5 L850.0,2358.3 L852.0,2369.8 L854.0,2380.8 L856.0,2391.8 L858.0,2403.3 L860.0,2415.6 L862.0,2428.4 L864.0,2441.4 L866.0,2454.5 L868.0,2467.4 L870.0,2480.0 L872.0,2492.4 L874.0,2504.7 L876.0,2516.6 L878.0,2527.9 L880.0,2538.7 L882.0,2549.1 L884.0,2558.7 L886.0,2567.3 L888.0,2574.9 L890.0,2581.9 L892.0,2588.4 L894.0,2594.9 L896.0,2601.4 L898.0,2607.6 L900.0,2613.2 L902.0,2618.1 L904.0,2622.4 L906.0,2626.4 L908.0,2630.0 L910.0,2633.4 L912.0,2636.7 L914.0,2639.7 L916.0,2642.4 L918.0,2644.8 L920.0,2647.0 L922.0,2649.1 L924.0,2651.1 L926.0,2652.9 L928.0,2654.6 L930.0,2656.1 L932.0,2657.5 L934.0,2658.9 L936.0,2660.2 L938.0,2661.4 L940.0,2662.6 L942.0,2663.7 L944.0,2664.7 L946.0,2665.7 L948.0,2666.7 L950.0,2668.0 L952.0,2669.7 L954.0,2671.5 L956.0,2672.4 L958.0,2673.2 L960.0,2674.0 L962.0,2674.7 L964.0,2675.4 L966.0,2676.1 L968.0,2676.8 L970.0,2677.4 L972.0,2678.0 L974.0,2678.6 L976.0,2679.1 L978.0,2679.6 L980.0,2680.0 L982.0,2680.4 L984.0,2680.8 L986.0,2681.1 L988.0,2681.4 L990.0,2681.7 L992.0,2681.9 L994.0,2682.1 L996.0,2682.2 L998.0,2682.3 L1000.0,2682.4 L1002.0,2682.4 L1004.0,2682.3 L1006.0,2682.0 L1008.0,2681.7 L1010.0,2681.2 L1012.0,2680.6 L1014.0,2679.9 L1016.0,2679.2 L1018.0,2678.3 L1020.0,2677.5 L1022.0,2676.5 L1024.0,2675.6 L1026.0,2674.6 L1028.0,2673.6 L1030.0,2672.6 L1032.0,2671.7 L1034.0,2670.7 L1036.0,2669.8 L1038.0,2668.9 L1040.0,2667.9 L1042.0,2667.0 L1044.0,2666.0 L1046.0,2664.9 L1048.0,2663.8 L1050.0,2662.7 L1052.0,2661.5 L1054.0,2660.3 L1056.0,2659.0 L1058.0,2657.7 L1060.0,2656.4 L1062.0,2655.1 L1064.0,2653.7 L1066.0,2652.1 L1068.0,2650.5 L1070.0,2648.7 L1072.0,2646.7 L1074.0,2644.4 L1076.0,2641.8 L1078.0,2638.7 L1080.0,2635.1 L1082.0,2631.2 L1084.0,2627.0 L1086.0,2622.3 L1088.0,2616.9 L1090.0,2610.5 L1092.0,2603.0 L1094.0,2593.4 L1096.0,2579.7 L1098.0,2565.4 L1100.0,2551.9 L1102.0,2538.4 L1104.0,2524.8 L1106.0,2511.1 L1108.0,2498.9 L1110.0,2487.2 L1112.0,2475.1 L1114.0,2462.8 L1116.0,2450.9 L1118.0,2439.7 L1120.0,2429.6 L1122.0,2421.0 L1124.0,2414.4 L1126.0,2410.1 L1128.0,2408.6 L1130.0,2410.0 L1132.0,2414.0 L1134.0,2420.1 L1136.0,2427.8 L1138.0,2436.7 L1140.0,2446.2 L1142.0,2455.9 L1144.0,2465.2 L1146.0,2473.8 L1148.0,2481.6 L1150.0,2489.5 L1152.0,2497.6 L1154.0,2505.7 L1156.0,2513.9 L1158.0,2522.1 L1160.0,2530.3 L1162.0,2538.4 L1164.0,2546.7 L1166.0,2555.2 L1168.0,2562.8 L1170.0,2569.1 L1172.0,2574.8 L1174.0,2579.4 L1176.0,2582.9 L1178.0,2585.7 L1180.0,2588.1 L1182.0,2590.3 L1184.0,2592.4 L1186.0,2594.5 L1188.0,2596.7 L1190.0,2598.9 L1192.0,2601.1 L1194.0,2603.3 L1196.0,2605.4 L1198.0,2607.6 L1200.0,2609.9 L1202.0,2612.3 L1204.0,2614.7 L1206.0,2617.2 L1208.0,2619.7 L1210.0,2622.1 L1212.0,2624.3 L1214.0,2626.4 L1216.0,2628.5 L1218.0,2630.5 L1220.0,2632.4 L1222.0,2634.3 L1224.0,2636.3 L1226.0,2638.3 L1228.0,2640.3 L1230.0,2642.3 L1232.0,2644.3 L1234.0,2646.3 L1236.0,2648.3 L1238.0,2650.3 L1240.0,2652.5 L1242.0,2654.6 L1244.0,2656.8 L1246.0,2658.8 L1248.0,2660.6 L1250.0,2662.1 L1252.0,2663.6 L1254.0,2664.9 L1256.0,2666.2 L1258.0,2667.3 L1260.0,2668.3 L1262.0,2669.1 L1264.0,2669.8 L1266.0,2670.5 L1268.0,2671.1 L1270.0,2671.6 L1272.0,2671.9 L1274.0,2672.0 L1276.0,2671.9 L1278.0,2671.7 L1280.0,2671.4 L1282.0,2671.0 L1284.0,2670.6 L1286.0,2670.2 L1288.0,2669.9 L1290.0,2669.6 L1292.0,2669.3 L1294.0,2669.0 L1296.0,2668.6 L1298.0,2668.2 L1300.0,2667.7 L1302.0,2666.8 L1304.0,2665.5 L1306.0,2664.0 L1308.0,2662.5 L1310.0,2661.2 L1312.0,2660.2 L1314.0,2659.1 L1316.0,2658.1 L1318.0,2657.1 L1320.0,2656.1 L1322.0,2655.2 L1324.0,2654.3 L1326.0,2653.5 L1328.0,2652.7 L1330.0,2652.0 L1332.0,2651.3 L1334.0,2650.7 L1336.0,2650.2 L1338.0,2649.8 L1340.0,2649.4 L1342.0,2649.0 L1344.0,2648.6 L1346.0,2648.1 L1348.0,2647.6 L1350.0,2647.0 L1352.0,2646.3 L1354.0,2645.6 L1356.0,2644.9 L1358.0,2644.1 L1360.0,2643.1 L1362.0,2642.1 L1364.0,2640.8 L1366.0,2639.4 L1368.0,2637.8 L1370.0,2635.8 L1372.0,2633.6 L1374.0,2630.7 L1376.0,2624.3 L1378.0,2614.7 L1380.0,2603.1 L1382.0,2590.6 L1384.0,2575.3 L1386.0,2556.3 L1388.0,2535.0 L1390.0,2512.6 L1392.0,2490.5 L1394.0,2470.0 L1396.0,2450.1 L1398.0,2430.4 L1400.0,2410.7 L1402.0,2390.9 L1404.0,2370.9 L1406.0,2350.6 L1408.0,2329.9 L1410.0,2307.2 L1412.0,2282.5 L1414.0,2257.0 L1416.0,2232.1 L1418.0,2209.2 L1420.0,2189.4 L1422.0,2174.2 L1424.0,2162.6 L1426.0,2151.4 L1428.0,2141.3 L1430.0,2133.2 L1432.0,2127.8 L1434.0,2126.0 L1436.0,2127.5 L1438.0,2131.2 L1440.0,2136.7 L1442.0,2143.7 L1444.0,2151.7 L1446.0,2160.5 L1448.0,2174.9 L1450.0,2194.9 L1452.0,2218.0 L1454.0,2241.7 L1456.0,2263.7 L1458.0,2282.2 L1460.0,2299.6 L1462.0,2316.6 L1464.0,2333.0 L1466.0,2348.9 L1468.0,2364.2 L1470.0,2378.8 L1472.0,2392.8 L1474.0,2406.5 L1476.0,2420.1 L1478.0,2433.2 L1480.0,2445.7 L1482.0,2457.2 L1484.0,2467.4 L1486.0,2476.2 L1488.0,2484.0 L1490.0,2491.1 L1492.0,2497.8 L1494.0,2503.9 L1496.0,2509.4 L1498.0,2514.3 L1500.0,2518.6 L1502.0,2522.4 L1504.0,2525.8 L1506.0,2528.9 L1508.0,2531.7 L1510.0,2534.3 L1512.0,2536.8 L1514.0,2539.2 L1516.0,2541.6 L1518.0,2544.0 L1520.0,2546.5 L1522.0,2549.1 L1524.0,2551.9 L1526.0,2554.9 L1528.0,2558.2 L1530.0,2561.5 L1532.0,2564.9 L1534.0,2568.3 L1536.0,2571.7 L1538.0,2574.9 L1540.0,2577.9 L1542.0,2580.7 L1544.0,2583.2 L1546.0,2585.3 L1548.0,2587.1 L1550.0,2588.6 L1552.0,2590.0 L1554.0,2591.3 L1556.0,2592.5 L1558.0,2593.6 L1560.0,2594.7 L1562.0,2595.8 L1564.0,2596.9 L1566.0,2598.0 L1568.0,2599.2 L1570.0,2600.5 L1572.0,2601.9 L1574.0,2603.3 L1576.0,2604.7 L1578.0,2606.1 L1580.0,2607.6 L1582.0,2609.1 L1584.0,2610.6 L1586.0,2612.1 L1588.0,2613.7 L1590.0,2615.3 L1592.0,2617.0 L1594.0,2618.7 L1596.0,2620.5 L1598.0,2622.5 L1600.0,2624.6 L1602.0,2626.7 L1604.0,2628.9 L1606.0,2631.2 L1608.0,2633.4 L1610.0,2635.7 L1612.0,2637.9 L1614.0,2640.0 L1616.0,2642.1 L1618.0,2644.1 L1620.0,2645.9 L1622.0,2647.6 L1624.0,2649.1 L1626.0,2650.4 L1628.0,2651.7 L1630.0,2652.9 L1632.0,2654.1 L1634.0,2655.2 L1636.0,2656.3 L1638.0,2657.4 L1640.0,2658.4 L1642.0,2659.4 L1644.0,2660.3 L1646.0,2661.2 L1648.0,2662.0 L1650.0,2662.8 L1652.0,2663.5 L1654.0,2664.2 L1656.0,2664.8 L1658.0,2665.5 L1660.0,2666.2 L1662.0,2666.9 L1664.0,2667.5 L1666.0,2668.1 L1668.0,2668.6 L1670.0,2669.1 L1672.0,2669.5 L1674.0,2669.7 L1676.0,2669.8 L1678.0,2669.8 L1680.0,2669.3 L1682.0,2668.5 L1684.0,2667.3 L1686.0,2665.8 L1688.0,2663.9 L1690.0,2661.7 L1692.0,2659.3 L1694.0,2656.6 L1696.0,2653.6 L1698.0,2650.5 L1700.0,2647.2 L1702.0,2643.7 L1704.0,2640.1 L1706.0,2635.8 L1708.0,2629.8 L1710.0,2622.2 L1712.0,2613.7 L1714.0,2604.5 L1716.0,2595.0 L1718.0,2585.6 L1720.0,2576.5 L1722.0,2566.4 L1724.0,2555.8 L1726.0,2544.8 L1728.0,2534.0 L1730.0,2523.8 L1732.0,2514.7 L1734.0,2506.8 L1736.0,2499.5 L1738.0,2492.6 L1740.0,2486.2 L1742.0,2480.6 L1744.0,2476.1 L1746.0,2472.7 L1748.0,2469.4 L1750.0,2466.7 L1752.0,2464.8 L1754.0,2464.3 L1756.0,2465.1 L1758.0,2467.0 L1760.0,2469.8 L1762.0,2473.3 L1764.0,2477.3 L1766.0,2481.5 L1768.0,2485.7 L1770.0,2490.7 L1772.0,2496.9 L1774.0,2504.1 L1776.0,2512.0 L1778.0,2520.1 L1780.0,2528.2 L1782.0,2536.0 L1784.0,2543.3 L1786.0,2550.7 L1788.0,2558.3 L1790.0,2565.9 L1792.0,2573.2 L1794.0,2580.3 L1796.0,2586.9 L1798.0,2593.0 L1800.0,2598.9 L1802.0,2604.6 L1804.0,2610.1 L1806.0,2615.3 L1808.0,2620.1 L1810.0,2624.6 L1812.0,2628.7 L1814.0,2632.5 L1816.0,2636.2 L1818.0,2639.7 L1820.0,2642.9 L1822.0,2645.8 L1824.0,2648.5 L1826.0,2650.9 L1828.0,2653.1 L1830.0,2655.2 L1832.0,2657.2 L1834.0,2659.1 L1836.0,2660.9 L1838.0,2662.4 L1840.0,2663.7 L1842.0,2664.8 L1844.0,2665.5 L1846.0,2666.2 L1848.0,2666.9 L1850.0,2667.4 L1852.0,2668.0 L1854.0,2668.5 L1856.0,2668.9 L1858.0,2669.2 L1860.0,2669.5 L1862.0,2669.6 L1864.0,2669.6 L1866.0,2669.5 L1868.0,2669.2 L1870.0,2668.8 L1872.0,2668.3 L1874.0,2667.7 L1876.0,2667.0 L1878.0,2666.2 L1880.0,2665.4 L1882.0,2664.6 L1884.0,2663.8 L1886.0,2663.1 L1888.0,2662.3 L1890.0,2661.7 L1892.0,2661.1 L1894.0,2660.6 L1896.0,2660.0 L1898.0,2659.4 L1900.0,2658.8 L1902.0,2658.2 L1904.0,2657.7 L1906.0,2657.1 L1908.0,2656.6 L1910.0,2656.2 L1912.0,2655.8 L1914.0,2655.5 L1916.0,2655.3 L1918.0,2655.2 L1920.0,2655.3 L1922.0,2655.6 L1924.0,2656.1 L1926.0,2656.8 L1928.0,2657.7 L1930.0,2658.7 L1932.0,2659.8 L1934.0,2660.9 L1936.0,2662.1 L1938.0,2663.3 L1940.0,2664.4 L1942.0,2665.5 L1944.0,2666.6 L1946.0,2667.7 L1948.0,2668.9 L1950.0,2670.2 L1952.0,2671.5 L1954.0,2672.8 L1956.0,2674.1 L1958.0,2675.5 L1960.0,2676.8 L1962.0,2678.1 L1964.0,2679.3 L1966.0,2680.5 L1968.0,2681.7 L1970.0,2682.9 L1972.0,2684.2 L1974.0,2685.4 L1976.0,2686.7 L1978.0,2687.9 L1980.0,2689.0 L1982.0,2690.1 L1984.0,2691.1 L1986.0,2692.0 L1988.0,2692.8 L1990.0,2693.5 L1992.0,2694.2 L1994.0,2694.9 L1996.0,2695.5 L1998.0,2696.0 L2000.0,2696.6 L2002.0,2697.1 L2004.0,2697.6 L2006.0,2698.1 L2008.0,2698.5 L2010.0,2699.0 L2012.0,2699.4 L2014.0,2699.8 L2016.0,2700.3 L2018.0,2700.6 L2020.0,2701.0 L2022.0,2701.4 L2024.0,2701.7 L2026.0,2702.0 L2027.9,2702.3" stroke="#000000"/>
<path d="M400.0,2735.5 L402.0,2735.7 L404.0,2735.9 L406.0,2736.1 L408.0,2736.3 L410.0,2736.5 L412.0,2736.7 L414.0,2736.9 L416.0,2737.0 L418.0,2737.2 L420.0,2737.4 L422.0,2737.5 L424.0,2737.7 L426.0,2737.8 L428.0,2738.0 L430.0,2738.1 L432.0,2738.3 L434.0,2738.4 L436.0,2738.5 L438.0,2738.6 L440.0,2738.8 L442.0,2738.9 L444.0,2739.0 L446.0,2739.1 L448.0,2739.2 L450.0,2739.3 L452.0,2739.4 L454.0,2739.5 L456.0,2739.6 L458.0,2739.7 L460.0,2739.7 L462.0,2739.8 L464.0,2739.9 L466.0,2740.0 L468.0,2740.0 L470.0,2740.1 L472.0,2740.1 L474.0,2740.2 L476.0,2740.3 L478.0,2740.3 L480.0,2740.4 L482.0,2740.4 L484.0,2740.4 L486.0,2740.5 L488.0,2740.5 L490.0,2740.6 L492.0,2740.6 L494.0,2740.6 L496.0,2740.7 L498.0,2740.7 L500.0,2740.7 L502.0,2740.7 L504.0,2740.8 L506.0,2740.8 L508.0,2740.8 L510.0,2740.8 L512.0,2740.8 L514.0,2740.8 L516.0,2740.9 L518.0,2740.9 L520.0,2740.9 L522.0,2740.9 L524.0,2740.9 L526.0,2740.9 L528.0,2740.9 L530.0,2740.9 L532.0,2740.9 L534.0,2740.9 L536.0,2740.9 L538.0,2740.9 L540.0,2740.9 L542.0,2740.9 L544.0,2740.9 L546.0,2740.9 L548.0,2740.9 L550.0,2740.9 L552.0,2740.9 L554.0,2740.7 L556.0,2740.3 L558.0,2739.7 L560.0,2738.8 L562.0,2737.8 L564.0,2736.6 L566.0,2735.3 L568.0,2733.8 L570.0,2732.2 L572.0,2730.4 L574.0,2727.6 L576.0,2723.4 L578.0,2717.9 L580.0,2711.2 L582.0,2703.5 L584.0,2694.9 L586.0,2685.5 L588.0,2675.5 L590.0,2664.9 L592.0,2653.8 L594.0,2639.1 L596.0,2619.8 L598.0,2597.4 L600.0,2573.7 L602.0,2550.2 L604.0,2528.5 L606.0,2510.4 L608.0,2496.7 L610.0,2484.5 L612.0,2473.3 L614.0,2463.0 L616.0,2453.4 L618.0,2444.5 L620.0,2436.2 L622.0,2428.2 L624.0,2420.1 L626.0,2411.4 L628.0,2403.1 L630.0,2395.9 L632.0,2390.6 L634.0,2387.9 L636.0,2387.7 L638.0,2387.9 L640.0,2388.2 L642.0,2388.7 L644.0,2389.2 L646.0,2389.8 L648.0,2390.4 L650.0,2391.0 L652.0,2391.5 L654.0,2392.0 L656.0,2392.4 L658.0,2392.6 L660.0,2392.7 L662.0,2391.4 L664.0,2388.0 L666.0,2383.3 L668.0,2377.9 L670.0,2372.5 L672.0,2366.7 L674.0,2359.8 L676.0,2352.0 L678.0,2343.7 L680.0,2334.9 L682.0,2325.9 L684.0,2317.1 L686.0,2308.6 L688.0,2300.5 L690.0,2292.3 L692.0,2283.3 L694.0,2273.9 L696.0,2264.2 L698.0,2254.2 L700.0,2244.2 L702.0,2234.3 L704.0,2224.7 L706.0,2215.5 L708.0,2206.9 L710.0,2199.0 L712.0,2191.9 L714.0,2185.9 L716.0,2181.1 L718.0,2177.5 L720.0,2175.5 L722.0,2175.2 L724.0,2178.6 L726.0,2185.8 L728.0,2195.5 L730.0,2206.6 L732.0,2218.0 L734.0,2228.4 L736.0,2238.3 L738.0,2248.3 L740.0,2258.7 L742.0,2269.5 L744.0,2280.9 L746.0,2293.2 L748.0,2306.4 L750.0,2320.8 L752.0,2336.5 L754.0,2354.3 L756.0,2379.0 L758.0,2392.1 L760.0,2403.1 L762.0,2418.1 L764.0,2434.8 L766.0,2451.3 L768.0,2467.3 L770.0,2480.6 L772.0,2492.2 L774.0,2502.7 L776.0,2512.4 L778.0,2521.9 L780.0,2531.8 L782.0,2541.6 L784.0,2550.5 L786.0,2558.1 L788.0,2565.2 L790.0,2571.9 L792.0,2578.1 L794.0,2583.9 L796.0,2589.1 L798.0,2593.6 L800.0,2597.7 L802.0,2601.7 L804.0,2605.4 L806.0,2608.9 L808.0,2612.1 L810.0,2615.1 L812.0,2617.7 L814.0,2619.8 L816.0,2621.6 L818.0,2623.0 L820.0,2624.3 L822.0,2625.5 L824.0,2626.6 L826.0,2627.5 L828.0,2628.4 L830.0,2629.2 L832.0,2630.0 L834.0,2630.8 L836.0,2631.5 L838.0,2632.2 L840.0,2632.8 L842.0,2633.4 L844.0,2633.9 L846.0,2634.5 L848.0,2635.0 L850.0,2635.6 L852.0,2636.2 L854.0,2636.7 L856.0,2637.2 L858.0,2637.7 L860.0,2638.2 L862.0,2638.8 L864.0,2639.4 L866.0,2640.0 L868.0,2640.7 L870.0,2641.6 L872.0,2642.6 L874.0,2643.9 L876.0,2645.4 L878.0,2646.9 L880.0,2648.3 L882.0,2649.5 L884.0,2650.7 L886.0,2652.0 L888.0,2653.1 L890.0,2654.1 L892.0,2654.6 L894.0,2654.7 L896.0,2654.3 L898.0,2653.6 L900.0,2652.5 L902.0,2651.3 L904.0,2649.8 L906.0,2647.4 L908.0,2644.5 L910.0,2640.9 L912.0,2635.9 L914.0,2629.8 L916.0,2621.8 L918.0,2612.7 L920.0,2603.1 L922.0,2592.9 L924.0,2583.0 L926.0,2573.3 L928.0,2562.4 L930.0,2549.5 L932.0,2535.4 L934.0,2519.7 L936.0,2503.5 L938.0,2488.9 L940.0,2471.5 L942.0,2451.8 L944.0,2437.6 L946.0,2425.2 L948.0,2414.3 L950.0,2404.6 L952.0,2395.7 L954.0,2387.3 L956.0,2380.1 L958.0,2374.9 L960.0,2370.8 L962.0,2367.2 L964.0,2365.0 L966.0,2364.7 L968.0,2365.7 L970.0,2367.4 L972.0,2369.5 L974.0,2372.4 L976.0,2377.1 L978.0,2382.7 L980.0,2389.0 L982.0,2396.7 L984.0,2405.4 L986.0,2414.5 L988.0,2423.8 L990.0,2433.9 L992.0,2444.4 L994.0,2454.4 L996.0,2463.6 L998.0,2472.2 L1000.0,2480.5 L1002.0,2488.4 L1004.0,2496.2 L1006.0,2503.8 L1008.0,2511.2 L1010.0,2518.2 L1012.0,2524.4 L1014.0,2529.9 L1016.0,2534.7 L1018.0,2539.4 L1020.0,2544.5 L1022.0,2550.7 L1024.0,2556.4 L1026.0,2559.5 L1028.0,2562.2 L1030.0,2564.7 L1032.0,2566.9 L1034.0,2568.9 L1036.0,2570.6 L1038.0,2571.9 L1040.0,2573.0 L1042.0,2573.7 L1044.0,2574.0 L1046.0,2573.7 L1048.0,2572.4 L1050.0,2570.2 L1052.0,2567.1 L1054.0,2563.3 L1056.0,2558.9 L1058.0,2554.0 L1060.0,2548.6 L1062.0,2542.3 L1064.0,2532.0 L1066.0,2518.6 L1068.0,2503.1 L1070.0,2486.8 L1072.0,2470.5 L1074.0,2453.4 L1076.0,2434.9 L1078.0,2415.1 L1080.0,2393.9 L1082.0,2371.4 L1084.0,2346.9 L1086.0,2316.9 L1088.0,2283.2 L1090.0,2248.0 L1092.0,2214.0 L1094.0,2183.5 L1096.0,2159.1 L1098.0,2142.0 L1100.0,2126.3 L1102.0,2111.3 L1104.0,2097.6 L1106.0,2085.7 L1108.0,2076.4 L1110.0,2070.0 L1112.0,2067.2 L1114.0,2068.7 L1116.0,2074.5 L1118.0,2082.9 L1120.0,2093.8 L1122.0,2112.8 L1124.0,2136.4 L1126.0,2159.4 L1128.0,2182.4 L1130.0,2206.5 L1132.0,2231.1 L1134.0,2255.6 L1136.0,2280.0 L1138.0,2305.4 L1140.0,2331.4 L1142.0,2356.6 L1144.0,2380.1 L1146.0,2400.8 L1148.0,2418.5 L1150.0,2435.1 L1152.0,2450.6 L1154.0,2464.6 L1156.0,2476.8 L1158.0,2486.9 L1160.0,2495.3 L1162.0,2502.8 L1164.0,2509.5 L1166.0,2515.4 L1168.0,2520.7 L1170.0,2525.3 L1172.0,2530.0 L1174.0,2534.5 L1176.0,2538.1 L1178.0,2539.9 L1180.0,2540.0 L1182.0,2540.0 L1184.0,2540.0 L1186.0,2540.0 L1188.0,2540.0 L1190.0,2540.1 L1192.0,2540.2 L1194.0,2540.5 L1196.0,2540.8 L1198.0,2541.2 L1200.0,2541.6 L1202.0,2542.1 L1204.0,2542.7 L1206.0,2544.0 L1208.0,2545.9 L1210.0,2547.9 L1212.0,2549.9 L1214.0,2551.8 L1216.0,2553.7 L1218.0,2555.7 L1220.0,2557.7 L1222.0,2559.8 L1224.0,2561.9 L1226.0,2564.2 L1228.0,2566.6 L1230.0,2569.1 L1232.0,2571.7 L1234.0,2574.1 L1236.0,2576.4 L1238.0,2578.5 L1240.0,2580.8 L1242.0,2583.1 L1244.0,2584.8 L1246.0,2585.8 L1248.0,2585.6 L1250.0,2584.6 L1252.0,2583.1 L1254.0,2580.9 L1256.0,2577.9 L1258.0,2574.4 L1260.0,2570.1 L1262.0,2564.7 L1264.0,2558.7 L1266.0,2551.9 L1268.0,2544.2 L1270.0,2535.6 L1272.0,2525.9 L1274.0,2515.3 L1276.0,2504.3 L1278.0,2493.6 L1280.0,2483.7 L1282.0,2475.0 L1284.0,2466.4 L1286.0,2457.5 L1288.0,2448.5 L1290.0,2439.7 L1292.0,2431.4 L1294.0,2423.8 L1296.0,2417.2 L1298.0,2411.9 L1300.0,2408.2 L1302.0,2406.4 L1304.0,2406.9 L1306.0,2409.9 L1308.0,2415.0 L1310.0,2422.0 L1312.0,2430.3 L1314.0,2439.7 L1316.0,2449.7 L1318.0,2459.9 L1320.0,2469.9 L1322.0,2479.7 L1324.0,2491.1 L1326.0,2504.1 L1328.0,2517.5 L1330.0,2530.4 L1332.0,2541.5 L1334.0,2550.2 L1336.0,2557.9 L1338.0,2565.0 L1340.0,2571.6 L1342.0,2577.7 L1344.0,2583.5 L1346.0,2589.1 L1348.0,2594.5 L1350.0,2600.0 L1352.0,2605.6 L1354.0,2611.2 L1356.0,2616.7 L1358.0,2621.9 L1360.0,2626.8 L1362.0,2631.0 L1364.0,2634.5 L1366.0,2637.3 L1368.0,2639.8 L1370.0,2642.1 L1372.0,2644.2 L1374.0,2646.1 L1376.0,2647.7 L1378.0,2649.1 L1380.0,2650.2 L1382.0,2651.3 L1384.0,2652.4 L1386.0,2653.5 L1388.0,2654.4 L1390.0,2655.2 L1392.0,2655.9 L1394.0,2656.4 L1396.0,2656.8 L1398.0,2656.8 L1400.0,2656.7 L1402.0,2656.5 L1404.0,2656.2 L1406.0,2655.7 L1408.0,2655.2 L1410.0,2654.6 L1412.0,2653.9 L1414.0,2653.1 L1416.0,2652.4 L1418.0,2651.6 L1420.0,2650.8 L1422.0,2649.9 L1424.0,2649.2 L1426.0,2648.4 L1428.0,2647.7 L1430.0,2647.0 L1432.0,2646.4 L1434.0,2645.9 L1436.0,2645.5 L1438.0,2645.0 L1440.0,2644.6 L1442.0,2644.1 L1444.0,2643.6 L1446.0,2643.0 L1448.0,2642.3 L1450.0,2641.5 L1452.0,2640.5 L1454.0,2639.0 L1456.0,2637.0 L1458.0,2634.5 L1460.0,2631.5 L1462.0,2628.0 L1464.0,2623.6 L1466.0,2616.9 L1468.0,2608.3 L1470.0,2598.9 L1472.0,2589.3 L1474.0,2578.9 L1476.0,2567.4 L1478.0,2555.2 L1480.0,2542.6 L1482.0,2529.7 L1484.0,2517.0 L1486.0,2504.7 L1488.0,2492.3 L1490.0,2479.2 L1492.0,2466.1 L1494.0,2453.1 L1496.0,2440.9 L1498.0,2429.7 L1500.0,2420.0 L1502.0,2411.5 L1504.0,2402.7 L1506.0,2394.1 L1508.0,2385.7 L1510.0,2378.0 L1512.0,2371.3 L1514.0,2365.7 L1516.0,2361.6 L1518.0,2359.3 L1520.0,2359.0 L1522.0,2360.2 L1524.0,2362.6 L1526.0,2366.0 L1528.0,2370.2 L1530.0,2375.1 L1532.0,2380.4 L1534.0,2386.0 L1536.0,2392.0 L1538.0,2400.2 L1540.0,2410.6 L1542.0,2422.6 L1544.0,2435.7 L1546.0,2449.3 L1548.0,2462.9 L1550.0,2475.9 L1552.0,2487.8 L1554.0,2498.6 L1556.0,2509.3 L1558.0,2519.9 L1560.0,2530.2 L1562.0,2540.2 L1564.0,2549.8 L1566.0,2558.8 L1568.0,2567.2 L1570.0,2575.4 L1572.0,2583.4 L1574.0,2591.1 L1576.0,2598.3 L1578.0,2605.0 L1580.0,2611.1 L1582.0,2616.4 L1584.0,2621.5 L1586.0,2626.4 L1588.0,2631.0 L1590.0,2635.1 L1592.0,2638.8 L1594.0,2641.7 L1596.0,2643.9 L1598.0,2645.7 L1600.0,2647.3 L1602.0,2648.7 L1604.0,2650.0 L1606.0,2651.2 L1608.0,2652.3 L1610.0,2653.2 L1612.0,2654.0 L1614.0,2654.7 L1616.0,2655.4 L1618.0,2655.9 L1620.0,2656.3 L1622.0,2656.7 L1624.0,2657.1 L1626.0,2657.4 L1628.0,2657.7 L1630.0,2658.0 L1632.0,2658.3 L1634.0,2658.6 L1636.0,2659.0 L1638.0,2659.4 L1640.0,2659.9 L1642.0,2660.5 L1644.0,2661.3 L1646.0,2662.1 L1648.0,2662.9 L1650.0,2663.9 L1652.0,2664.8 L1654.0,2665.8 L1656.0,2666.9 L1658.0,2667.9 L1660.0,2668.9 L1662.0,2669.9 L1664.0,2670.9 L1666.0,2671.8 L1668.0,2672.7 L1670.0,2673.5 L1672.0,2674.3 L1674.0,2675.1 L1676.0,2675.9 L1678.0,2676.7 L1680.0,2677.5 L1682.0,2678.3 L1684.0,2679.1 L1686.0,2679.9 L1688.0,2680.7 L1690.0,2681.4 L1692.0,2682.2 L1694.0,2682.9 L1696.0,2683.7 L1698.0,2684.4 L1700.0,2685.1 L1702.0,2685.8 L1704.0,2686.5 L1706.0,2687.2 L1708.0,2687.9 L1710.0,2688.6 L1712.0,2689.2 L1714.0,2689.8 L1716.0,2690.5 L1718.0,2691.1 L1720.0,2691.7 L1722.0,2692.2 L1724.0,2692.8 L1726.0,2693.4 L1728.0,2694.0 L1730.0,2694.6 L1732.0,2695.1 L1734.0,2695.7 L1736.0,2696.2 L1738.0,2696.7 L1740.0,2697.1 L1742.0,2697.5 L1744.0,2697.9 L1746.0,2698.3 L1748.0,2698.6 L1750.0,2698.9 L1752.0,2699.2 L1754.0,2699.4 L1756.0,2699.7 L1758.0,2700.0 L1760.0,2700.3 L1762.0,2700.5 L1764.0,2700.7 L1766.0,2700.9 L1768.0,2701.1 L1770.0,2701.2 L1772.0,2701.3 L1774.0,2701.4 L1776.0,2701.5 L1778.0,2701.5 L1780.0,2701.4 L1782.0,2701.4 L1784.0,2701.3 L1786.0,2701.2 L1788.0,2701.0 L1790.0,2700.8 L1792.0,2700.6 L1794.0,2700.4 L1796.0,2700.2 L1798.0,2699.9 L1800.0,2699.6 L1802.0,2699.2 L1804.0,2698.9 L1806.0,2698.5 L1808.0,2697.9 L1810.0,2696.9 L1812.0,2695.7 L1814.0,2694.2 L1816.0,2692.5 L1818.0,2690.6 L1820.0,2687.7 L1822.0,2684.1 L1824.0,2679.8 L1826.0,2675.1 L1828.0,2670.2 L1830.0,2665.3 L1832.0,2659.8 L1834.0,2653.8 L1836.0,2647.5 L1838.0,2641.0 L1840.0,2634.7 L1842.0,2628.6 L1844.0,2622.9 L1846.0,2617.2 L1848.0,2611.5 L1850.0,2605.9 L1852.0,2600.5 L1854.0,2595.4 L1856.0,2590.8 L1858.0,2586.8 L1860.0,2582.9 L1862.0,2579.2 L1864.0,2575.6 L1866.0,2572.3 L1868.0,2569.5 L1870.0,2567.2 L1872.0,2565.6 L1874.0,2564.6 L1876.0,2563.6 L1878.0,2562.8 L1880.0,2562.3 L1882.0,2562.0 L1884.0,2562.2 L1886.0,2562.8 L1888.0,2563.9 L1890.0,2565.2 L1892.0,2566.9 L1894.0,2568.7 L1896.0,2570.6 L1898.0,2572.5 L1900.0,2574.6 L1902.0,2577.3 L1904.0,2580.4 L1906.0,2583.8 L1908.0,2587.4 L1910.0,2591.2 L1912.0,2595.0 L1914.0,2598.8 L1916.0,2602.3 L1918.0,2605.9 L1920.0,2609.6 L1922.0,2613.4 L1924.0,2617.1 L1926.0,2620.7 L1928.0,2624.3 L1930.0,2627.6 L1932.0,2630.7 L1934.0,2633.7 L1936.0,2636.6 L1938.0,2639.5 L1940.0,2642.2 L1942.0,2644.8 L1944.0,2647.3 L1946.0,2649.6 L1948.0,2651.9 L1950.0,2654.1 L1952.0,2656.3 L1954.0,2658.4 L1956.0,2660.4 L1958.0,2662.3 L1960.0,2664.2 L1962.0,2665.9 L1964.0,2667.6 L1966.0,2669.1 L1968.0,2670.6 L1970.0,2672.0 L1972.0,2673.4 L1974.0,2674.7 L1976.0,2676.0 L1978.0,2677.2 L1980.0,2678.4 L1982.0,2679.5 L1984.0,2680.6 L1986.0,2681.7 L1988.0,2682.7 L1990.0,2683.7 L1992.0,2684.7 L1994.0,2685.7 L1996.0,2686.7 L1998.0,2687.6 L2000.0,2688.5 L2002.0,2689.3 L2004.0,2690.1 L2006.0,2690.7 L2008.0,2691.3 L2010.0,2691.8 L2012.0,2692.3 L2014.0,2692.7 L2016.0,2693.2 L2018.0,2693.6 L2020.0,2693.9 L2022.0,2694.2 L2024.0,2694.5 L2026.0,2694.7 L2027.9,2694.8" stroke="#FF0000"/>
<path d="M400.0,2714.0 L402.0,2714.1 L404.0,2714.1 L406.0,2714.2 L408.0,2714.3 L410.0,2714.3 L412.0,2714.4 L414.0,2714.5 L416.0,2714.5 L418.0,2714.6 L420.0,2714.6 L422.0,2714.7 L424.0,2714.7 L426.0,2714.8 L428.0,2714.8 L430.0,2714.9 L432.0,2714.9 L434.0,2715.0 L436.0,2715.0 L438.0,2715.0 L440.0,2715.1 L442.0,2715.1 L444.0,2715.1 L446.0,2715.2 L448.0,2715.2 L450.0,2715.2 L452.0,2715.3 L454.0,2715.3 L456.0,2715.3 L458.0,2715.3 L460.0,2715.4 L462.0,2715.4 L464.0,2715.4 L466.0,2715.4 L468.0,2715.5 L470.0,2715.5 L472.0,2715.5 L474.0,2715.5 L476.0,2715.5 L478.0,2715.5 L480.0,2715.6 L482.0,2715.6 L484.0,2715.6 L486.0,2715.6 L488.0,2715.6 L490.0,2715.6 L492.0,2715.6 L494.0,2715.6 L496.0,2715.6 L498.0,2715.6 L500.0,2715.7 L502.0,2715.7 L504.0,2715.7 L506.0,2715.7 L508.0,2715.7 L510.0,2715.7 L512.0,2715.7 L514.0,2715.7 L516.0,2715.7 L518.0,2715.7 L520.0,2715.7 L522.0,2715.7 L524.0,2715.7 L526.0,2715.7 L528.0,2715.7 L530.0,2715.7 L532.0,2715.7 L534.0,2715.7 L536.0,2715.7 L538.0,2715.7 L540.0,2715.7 L542.0,2715.6 L544.0,2714.2 L546.0,2711.5 L548.0,2707.9 L550.0,2703.7 L552.0,2699.1 L554.0,2692.7 L556.0,2684.3 L558.0,2674.5 L560.0,2663.6 L562.0,2652.2 L564.0,2639.0 L566.0,2624.0 L568.0,2607.6 L570.0,2590.0 L572.0,2571.7 L574.0,2553.2 L576.0,2534.7 L578.0,2516.4 L580.0,2497.1 L582.0,2477.1 L584.0,2456.5 L586.0,2435.6 L588.0,2414.7 L590.0,2393.9 L592.0,2373.5 L594.0,2353.6 L596.0,2334.6 L598.0,2316.1 L600.0,2296.7 L602.0,2276.7 L604.0,2257.3 L606.0,2239.1 L608.0,2223.0 L610.0,2210.0 L612.0,2200.8 L614.0,2193.8 L616.0,2187.3 L618.0,2181.5 L620.0,2176.9 L622.0,2173.6 L624.0,2172.0 L626.0,2172.2 L628.0,2173.5 L630.0,2175.7 L632.0,2178.5 L634.0,2181.8 L636.0,2185.5 L638.0,2189.2 L640.0,2192.9 L642.0,2196.3 L644.0,2199.2 L646.0,2201.5 L648.0,2203.0 L650.0,2203.4 L652.0,2202.4 L654.0,2199.7 L656.0,2195.8 L658.0,2191.0 L660.0,2185.5 L662.0,2176.6 L664.0,2163.4 L666.0,2148.5 L668.0,2134.1 L670.0,2118.1 L672.0,2099.8 L674.0,2079.9 L676.0,2059.1 L678.0,2038.2 L680.0,2017.9 L682.0,1998.8 L684.0,1981.8 L686.0,1967.6 L688.0,1956.8 L690.0,1950.3 L692.0,1948.6 L694.0,1949.9 L696.0,1953.0 L698.0,1957.7 L700.0,1964.0 L702.0,1971.7 L704.0,1980.7 L706.0,1991.0 L708.0,2002.3 L710.0,2014.6 L712.0,2027.8 L714.0,2041.7 L716.0,2056.3 L718.0,2071.4 L720.0,2086.9 L722.0,2102.7 L724.0,2118.7 L726.0,2134.8 L728.0,2150.8 L730.0,2166.7 L732.0,2182.4 L734.0,2197.6 L736.0,2212.4 L738.0,2226.6 L740.0,2240.1 L742.0,2253.4 L744.0,2267.8 L746.0,2282.9 L748.0,2298.1 L750.0,2312.8 L752.0,2326.6 L754.0,2338.7 L756.0,2348.7 L758.0,2356.5 L760.0,2363.0 L762.0,2368.6 L764.0,2374.2 L766.0,2380.1 L768.0,2387.0 L770.0,2395.2 L772.0,2404.2 L774.0,2413.4 L776.0,2422.2 L778.0,2430.1 L780.0,2436.4 L782.0,2441.1 L784.0,2445.1 L786.0,2448.8 L788.0,2451.9 L790.0,2454.4 L792.0,2456.3 L794.0,2457.9 L796.0,2459.4 L798.0,2460.6 L800.0,2461.3 L802.0,2461.3 L804.0,2460.2 L806.0,2458.5 L808.0,2456.6 L810.0,2455.0 L812.0,2453.9 L814.0,2452.8 L816.0,2451.7 L818.0,2450.7 L820.0,2449.9 L822.0,2449.4 L824.0,2449.2 L826.0,2449.5 L828.0,2450.8 L830.0,2452.6 L832.0,2454.9 L834.0,2457.3 L836.0,2459.9 L838.0,2463.1 L840.0,2467.0 L842.0,2471.4 L844.0,2475.9 L846.0,2480.4 L848.0,2484.5 L850.0,2488.4 L852.0,2492.6 L854.0,2496.7 L856.0,2500.8 L858.0,2504.5 L860.0,2507.6 L862.0,2510.0 L864.0,2511.9 L866.0,2513.7 L868.0,2515.0 L870.0,2515.7 L872.0,2515.2 L874.0,2513.5 L876.0,2510.7 L878.0,2507.2 L880.0,2501.8 L882.0,2491.8 L884.0,2478.6 L886.0,2463.8 L888.0,2448.9 L890.0,2432.4 L892.0,2411.3 L894.0,2380.1 L896.0,2326.3 L898.0,2286.9 L900.0,2246.0 L902.0,2204.1 L904.0,2162.4 L906.0,2121.0 L908.0,2079.2 L910.0,2038.8 L912.0,2001.6 L914.0,1968.4 L916.0,1936.4 L918.0,1902.9 L920.0,1869.2 L922.0,1838.0 L924.0,1808.2 L926.0,1782.4 L928.0,1758.0 L930.0,1746.7 L932.0,1743.9 L934.0,1745.8 L936.0,1762.1 L938.0,1782.7 L940.0,1802.0 L942.0,1822.6 L944.0,1842.2 L946.0,1861.4 L948.0,1882.4 L950.0,1907.1 L952.0,1934.9 L954.0,1964.3 L956.0,1996.4 L958.0,2034.5 L960.0,2080.6 L962.0,2125.8 L964.0,2161.1 L966.0,2190.1 L968.0,2216.0 L970.0,2239.8 L972.0,2262.3 L974.0,2284.5 L976.0,2306.7 L978.0,2328.4 L980.0,2349.2 L982.0,2368.7 L984.0,2386.4 L986.0,2401.7 L988.0,2414.6 L990.0,2425.9 L992.0,2437.3 L994.0,2449.5 L996.0,2461.8 L998.0,2473.6 L1000.0,2484.6 L1002.0,2495.0 L1004.0,2504.7 L1006.0,2513.9 L1008.0,2523.0 L1010.0,2531.4 L1012.0,2537.7 L1014.0,2541.8 L1016.0,2544.9 L1018.0,2547.8 L1020.0,2551.1 L1022.0,2555.2 L1024.0,2559.8 L1026.0,2564.7 L1028.0,2569.8 L1030.0,2574.8 L1032.0,2579.5 L1034.0,2583.8 L1036.0,2587.4 L1038.0,2590.2 L1040.0,2592.6 L1042.0,2594.9 L1044.0,2597.4 L1046.0,2599.8 L1048.0,2601.9 L1050.0,2603.5 L1052.0,2604.3 L1054.0,2604.3 L1056.0,2604.1 L1058.0,2604.1 L1060.0,2604.1 L1062.0,2604.1 L1064.0,2604.1 L1066.0,2604.1 L1068.0,2604.1 L1070.0,2604.1 L1072.0,2604.1 L1074.0,2604.0 L1076.0,2603.0 L1078.0,2601.0 L1080.0,2598.3 L1082.0,2595.1 L1084.0,2591.5 L1086.0,2587.7 L1088.0,2583.9 L1090.0,2580.2 L1092.0,2576.3 L1094.0,2571.8 L1096.0,2567.0 L1098.0,2562.0 L1100.0,2556.8 L1102.0,2551.5 L1104.0,2546.4 L1106.0,2541.6 L1108.0,2536.7 L1110.0,2531.4 L1112.0,2526.2 L1114.0,2521.4 L1116.0,2517.4 L1118.0,2514.5 L1120.0,2512.1 L1122.0,2509.9 L1124.0,2508.1 L1126.0,2506.9 L1128.0,2506.6 L1130.0,2507.1 L1132.0,2508.1 L1134.0,2509.7 L1136.0,2511.5 L1138.0,2513.6 L1140.0,2516.0 L1142.0,2519.8 L1144.0,2524.8 L1146.0,2530.4 L1148.0,2535.6 L1150.0,2540.0 L1152.0,2543.5 L1154.0,2546.8 L1156.0,2549.8 L1158.0,2552.6 L1160.0,2555.4 L1162.0,2558.1 L1164.0,2560.8 L1166.0,2563.6 L1168.0,2566.4 L1170.0,2569.0 L1172.0,2571.2 L1174.0,2572.9 L1176.0,2574.1 L1178.0,2575.1 L1180.0,2575.8 L1182.0,2576.5 L1184.0,2577.1 L1186.0,2577.9 L1188.0,2578.8 L1190.0,2579.9 L1192.0,2581.0 L1194.0,2582.2 L1196.0,2583.5 L1198.0,2584.8 L1200.0,2586.2 L1202.0,2587.6 L1204.0,2589.2 L1206.0,2590.8 L1208.0,2592.5 L1210.0,2594.2 L1212.0,2595.8 L1214.0,2597.4 L1216.0,2599.0 L1218.0,2600.7 L1220.0,2602.3 L1222.0,2603.9 L1224.0,2605.4 L1226.0,2606.9 L1228.0,2608.4 L1230.0,2609.9 L1232.0,2611.3 L1234.0,2612.7 L1236.0,2613.9 L1238.0,2615.1 L1240.0,2616.1 L1242.0,2617.1 L1244.0,2618.1 L1246.0,2619.0 L1248.0,2620.0 L1250.0,2621.0 L1252.0,2622.0 L1254.0,2623.0 L1256.0,2624.0 L1258.0,2625.0 L1260.0,2626.0 L1262.0,2627.0 L1264.0,2628.0 L1266.0,2629.0 L1268.0,2630.0 L1270.0,2631.0 L1272.0,2632.0 L1274.0,2633.0 L1276.0,2634.0 L1278.0,2635.0 L1280.0,2636.0 L1282.0,2637.0 L1284.0,2638.0 L1286.0,2639.0 L1288.0,2640.0 L1290.0,2641.1 L1292.0,2642.2 L1294.0,2643.3 L1296.0,2644.2 L1298.0,2644.9 L1300.0,2645.4 L1302.0,2645.6 L1304.0,2645.8 L1306.0,2645.9 L1308.0,2646.1 L1310.0,2646.3 L1312.0,2646.6 L1314.0,2646.9 L1316.0,2647.2 L1318.0,2647.6 L1320.0,2648.0 L1322.0,2648.4 L1324.0,2648.8 L1326.0,2649.3 L1328.0,2649.8 L1330.0,2650.3 L1332.0,2650.8 L1334.0,2651.3 L1336.0,2651.8 L1338.0,2652.4 L1340.0,2652.9 L1342.0,2653.5 L1344.0,2654.0 L1346.0,2654.5 L1348.0,2655.1 L1350.0,2655.6 L1352.0,2656.1 L1354.0,2656.7 L1356.0,2657.4 L1358.0,2658.0 L1360.0,2658.7 L1362.0,2659.4 L1364.0,2660.0 L1366.0,2660.7 L1368.0,2661.4 L1370.0,2662.0 L1372.0,2662.5 L1374.0,2663.1 L1376.0,2663.5 L1378.0,2663.9 L1380.0,2664.2 L1382.0,2664.5 L1384.0,2664.8 L1386.0,2665.1 L1388.0,2665.4 L1390.0,2665.7 L1392.0,2665.9 L1394.0,2666.2 L1396.0,2666.4 L1398.0,2666.6 L1400.0,2666.8 L1402.0,2667.0 L1404.0,2667.3 L1406.0,2667.4 L1408.0,2667.6 L1410.0,2667.8 L1412.0,2668.0 L1414.0,2668.2 L1416.0,2668.3 L1418.0,2668.5 L1420.0,2668.7 L1422.0,2668.8 L1424.0,2669.0 L1426.0,2669.1 L1428.0,2669.3 L1430.0,2669.4 L1432.0,2669.5 L1434.0,2669.7 L1436.0,2669.8 L1438.0,2669.9 L1440.0,2670.1 L1442.0,2670.2 L1444.0,2670.3 L1446.0,2670.4 L1448.0,2670.6 L1450.0,2670.7 L1452.0,2670.8 L1454.0,2670.9 L1456.0,2671.0 L1458.0,2671.1 L1460.0,2671.3 L1462.0,2671.4 L1464.0,2671.5 L1466.0,2671.6 L1468.0,2671.7 L1470.0,2671.8 L1472.0,2671.8 L1474.0,2671.9 L1476.0,2672.0 L1478.0,2672.1 L1480.0,2672.2 L1482.0,2672.3 L1484.0,2672.4 L1486.0,2672.4 L1488.0,2672.5 L1490.0,2672.6 L1492.0,2672.7 L1494.0,2672.7 L1496.0,2672.8 L1498.0,2672.9 L1500.0,2672.9 L1502.0,2673.0 L1504.0,2673.0 L1506.0,2673.1 L1508.0,2673.1 L1510.0,2673.2 L1512.0,2673.2 L1514.0,2673.3 L1516.0,2673.3 L1518.0,2673.4 L1520.0,2673.4 L1522.0,2673.5 L1524.0,2673.5 L1526.0,2673.6 L1528.0,2673.6 L1530.0,2673.6 L1532.0,2673.7 L1534.0,2673.7 L1536.0,2673.8 L1538.0,2673.8 L1540.0,2673.9 L1542.0,2673.9 L1544.0,2674.0 L1546.0,2674.0 L1548.0,2674.1 L1550.0,2674.1 L1552.0,2674.2 L1554.0,2674.2 L1556.0,2674.3 L1558.0,2674.4 L1560.0,2674.5 L1562.0,2674.5 L1564.0,2674.6 L1566.0,2674.7 L1568.0,2674.8 L1570.0,2674.9 L1572.0,2675.0 L1574.0,2675.1 L1576.0,2675.2 L1578.0,2675.2 L1580.0,2675.3 L1582.0,2675.4 L1584.0,2675.4 L1586.0,2675.5 L1588.0,2675.6 L1590.0,2675.6 L1592.0,2675.6 L1594.0,2675.6 L1596.0,2675.6 L1598.0,2675.6 L1600.0,2675.4 L1602.0,2675.2 L1604.0,2674.9 L1606.0,2674.5 L1608.0,2674.1 L1610.0,2673.6 L1612.0,2673.1 L1614.0,2672.6 L1616.0,2672.1 L1618.0,2671.6 L1620.0,2671.0 L1622.0,2670.5 L1624.0,2670.0 L1626.0,2669.6 L1628.0,2669.1 L1630.0,2668.7 L1632.0,2668.2 L1634.0,2667.7 L1636.0,2667.2 L1638.0,2666.7 L1640.0,2666.2 L1642.0,2665.6 L1644.0,2665.1 L1646.0,2664.6 L1648.0,2664.1 L1650.0,2663.6 L1652.0,2663.1 L1654.0,2662.6 L1656.0,2662.0 L1658.0,2661.5 L1660.0,2661.0 L1662.0,2660.4 L1664.0,2659.9 L1666.0,2659.3 L1668.0,2658.8 L1670.0,2658.3 L1672.0,2657.8 L1674.0,2657.3 L1676.0,2656.8 L1678.0,2656.3 L1680.0,2655.9 L1682.0,2655.5 L1684.0,2655.1 L1686.0,2654.8 L1688.0,2654.4 L1690.0,2654.0 L1692.0,2653.6 L1694.0,2653.3 L1696.0,2653.0 L1698.0,2652.7 L1700.0,2652.5 L1702.0,2652.4 L1704.0,2652.3 L1706.0,2652.4 L1708.0,2652.7 L1710.0,2653.2 L1712.0,2653.8 L1714.0,2654.6 L1716.0,2655.5 L1718.0,2656.4 L1720.0,2657.4 L1722.0,2658.3 L1724.0,2659.2 L1726.0,2660.1 L1728.0,2661.0 L1730.0,2662.0 L1732.0,2663.1 L1734.0,2664.2 L1736.0,2665.4 L1738.0,2666.5 L1740.0,2667.6 L1742.0,2668.6 L1744.0,2669.6 L1746.0,2670.4 L1748.0,2671.1 L1750.0,2671.8 L1752.0,2672.5 L1754.0,2673.2 L1756.0,2673.9 L1758.0,2674.6 L1760.0,2675.2 L1762.0,2675.8 L1764.0,2676.4 L1766.0,2676.9 L1768.0,2677.4 L1770.0,2677.7 L1772.0,2678.0 L1774.0,2678.2 L1776.0,2678.3 L1778.0,2678.3 L1780.0,2678.3 L1782.0,2678.2 L1784.0,2678.2 L1786.0,2678.1 L1788.0,2678.0 L1790.0,2677.9 L1792.0,2677.8 L1794.0,2677.7 L1796.0,2677.5 L1798.0,2677.4 L1800.0,2677.3 L1802.0,2677.1 L1804.0,2677.0 L1806.0,2676.9 L1808.0,2676.7 L1810.0,2676.5 L1812.0,2676.3 L1814.0,2676.0 L1816.0,2675.8 L1818.0,2675.5 L1820.0,2675.2 L1822.0,2674.9 L1824.0,2674.7 L1826.0,2674.5 L1828.0,2674.3 L1830.0,2674.1 L1832.0,2674.0 L1834.0,2674.0 L1836.0,2674.0 L1838.0,2674.1 L1840.0,2674.3 L1842.0,2674.5 L1844.0,2674.8 L1846.0,2675.1 L1848.0,2675.5 L1850.0,2675.9 L1852.0,2676.3 L1854.0,2676.7 L1856.0,2677.1 L1858.0,2677.5 L1860.0,2677.8 L1862.0,2678.1 L1864.0,2678.4 L1866.0,2678.6 L1868.0,2678.9 L1870.0,2679.2 L1872.0,2679.4 L1874.0,2679.7 L1876.0,2679.9 L1878.0,2680.2 L1880.0,2680.4 L1882.0,2680.6 L1884.0,2680.8 L1886.0,2681.0 L1888.0,2681.1 L1890.0,2681.2 L1892.0,2681.2 L1894.0,2681.2 L1896.0,2681.2 L1898.0,2681.2 L1900.0,2681.2 L1902.0,2681.2 L1904.0,2681.2 L1906.0,2681.2 L1908.0,2681.2 L1910.0,2681.2 L1912.0,2681.2 L1914.0,2681.2 L1916.0,2681.2 L1918.0,2681.2 L1920.0,2681.2 L1922.0,2681.2 L1924.0,2681.2 L1926.0,2681.1 L1928.0,2681.0 L1930.0,2680.9 L1932.0,2680.8 L1934.0,2680.6 L1936.0,2680.5 L1938.0,2680.3 L1940.0,2680.2 L1942.0,2680.1 L1944.0,2679.9 L1946.0,2679.9 L1948.0,2679.8 L1950.0,2679.8 L1952.0,2679.8 L1954.0,2679.8 L1956.0,2679.9 L1958.0,2679.9 L1960.0,2680.0 L1962.0,2680.1 L1964.0,2680.3 L1966.0,2680.4 L1968.0,2680.5 L1970.0,2680.6 L1972.0,2680.8 L1974.0,2680.9 L1976.0,2681.0 L1978.0,2681.1 L1980.0,2681.2 L1982.0,2681.4 L1984.0,2681.5 L1986.0,2681.6 L1988.0,2681.7 L1990.0,2681.9 L1992.0,2682.0 L1994.0,2682.1 L1996.0,2682.3 L1998.0,2682.4 L2000.0,2682.5 L2002.0,2682.5 L2004.0,2682.6 L2006.0,2682.6 L2008.0,2682.7 L2010.0,2682.7 L2012.0,2682.7 L2014.0,2682.7 L2016.0,2682.7 L2018.0,2682.7 L2020.0,2682.7 L2022.0,2682.7 L2024.0,2682.7 L2026.0,2682.7 L2027.9,2682.7" stroke="#0000FF"/>
<path d="M400.0,2717.3 L402.0,2717.4 L404.0,2717.4 L406.0,2717.5 L408.0,2717.5 L410.0,2717.6 L412.0,2717.6 L414.0,2717.7 L416.0,2717.7 L418.0,2717.8 L420.0,2717.8 L422.0,2717.9 L424.0,2717.9 L426.0,2717.9 L428.0,2718.0 L430.0,2718.0 L432.0,2718.1 L434.0,2718.1 L436.0,2718.1 L438.0,2718.2 L440.0,2718.2 L442.0,2718.2 L444.0,2718.3 L446.0,2718.3 L448.0,2718.3 L450.0,2718.3 L452.0,2718.4 L454.0,2718.4 L456.0,2718.4 L458.0,2718.4 L460.0,2718.5 L462.0,2718.5 L464.0,2718.5 L466.0,2718.5 L468.0,2718.5 L470.0,2718.5 L472.0,2718.6 L474.0,2718.6 L476.0,2718.6 L478.0,2718.6 L480.0,2718.6 L482.0,2718.6 L484.0,2718.6 L486.0,2718.6 L488.0,2718.6 L490.0,2718.7 L492.0,2718.7 L494.0,2718.7 L496.0,2718.7 L498.0,2718.7 L500.0,2718.7 L502.0,2718.7 L504.0,2718.7 L506.0,2718.7 L508.0,2718.7 L510.0,2718.7 L512.0,2718.7 L514.0,2718.7 L516.0,2718.7 L518.0,2718.7 L520.0,2718.7 L522.0,2718.7 L524.0,2718.7 L526.0,2718.7 L528.0,2718.7 L530.0,2718.7 L532.0,2718.7 L534.0,2718.7 L536.0,2718.7 L538.0,2718.7 L540.0,2718.7 L542.0,2718.7 L544.0,2718.0 L546.0,2716.5 L548.0,2714.4 L550.0,2711.7 L552.0,2708.6 L554.0,2705.1 L556.0,2701.4 L558.0,2696.8 L560.0,2689.8 L562.0,2680.5 L564.0,2669.4 L566.0,2656.6 L568.0,2642.4 L570.0,2627.1 L572.0,2610.9 L574.0,2594.1 L576.0,2577.0 L578.0,2559.9 L580.0,2542.9 L582.0,2526.3 L584.0,2508.9 L586.0,2489.9 L588.0,2469.7 L590.0,2448.8 L592.0,2427.3 L594.0,2405.8 L596.0,2384.6 L598.0,2364.0 L600.0,2344.3 L602.0,2325.9 L604.0,2307.5 L606.0,2288.4 L608.0,2269.4 L610.0,2251.2 L612.0,2234.8 L614.0,2220.7 L616.0,2209.9 L618.0,2202.6 L620.0,2196.1 L622.0,2190.3 L624.0,2185.6 L626.0,2182.3 L628.0,2180.8 L630.0,2181.1 L632.0,2182.6 L634.0,2184.9 L636.0,2187.9 L638.0,2191.4 L640.0,2195.2 L642.0,2199.1 L644.0,2202.9 L646.0,2206.4 L648.0,2209.4 L650.0,2211.7 L652.0,2213.2 L654.0,2213.5 L656.0,2211.7 L658.0,2207.8 L660.0,2202.7 L662.0,2197.1 L664.0,2190.5 L666.0,2180.8 L668.0,2168.4 L670.0,2153.8 L672.0,2137.3 L674.0,2119.3 L676.0,2100.4 L678.0,2080.8 L680.0,2061.0 L682.0,2041.4 L684.0,2022.5 L686.0,2004.7 L688.0,1988.3 L690.0,1973.8 L692.0,1961.6 L694.0,1952.2 L696.0,1945.9 L698.0,1943.2 L700.0,1943.8 L702.0,1946.6 L704.0,1951.3 L706.0,1957.9 L708.0,1966.1 L710.0,1975.9 L712.0,1987.0 L714.0,1999.5 L716.0,2013.0 L718.0,2027.5 L720.0,2042.8 L722.0,2058.9 L724.0,2075.4 L726.0,2092.4 L728.0,2109.6 L730.0,2126.9 L732.0,2144.2 L734.0,2161.3 L736.0,2178.1 L738.0,2194.4 L740.0,2210.2 L742.0,2225.2 L744.0,2239.3 L746.0,2252.8 L748.0,2267.1 L750.0,2281.7 L752.0,2296.4 L754.0,2310.7 L756.0,2324.4 L758.0,2336.9 L760.0,2348.1 L762.0,2357.8 L764.0,2366.6 L766.0,2374.8 L768.0,2382.5 L770.0,2389.8 L772.0,2397.1 L774.0,2404.5 L776.0,2412.2 L778.0,2420.2 L780.0,2428.1 L782.0,2435.6 L784.0,2442.4 L786.0,2448.3 L788.0,2452.8 L790.0,2456.8 L792.0,2460.6 L794.0,2463.8 L796.0,2466.3 L798.0,2468.0 L800.0,2468.9 L802.0,2469.7 L804.0,2470.3 L806.0,2470.7 L808.0,2470.9 L810.0,2470.6 L812.0,2470.0 L814.0,2469.2 L816.0,2468.2 L818.0,2467.2 L820.0,2466.4 L822.0,2465.7 L824.0,2465.5 L826.0,2465.7 L828.0,2466.5 L830.0,2467.8 L832.0,2469.4 L834.0,2471.2 L836.0,2473.2 L838.0,2476.2 L840.0,2480.0 L842.0,2484.3 L844.0,2489.0 L846.0,2493.6 L848.0,2498.1 L850.0,2502.1 L852.0,2506.4 L854.0,2510.6 L856.0,2514.9 L858.0,2518.9 L860.0,2522.8 L862.0,2526.2 L864.0,2529.6 L866.0,2533.1 L868.0,2536.0 L870.0,2537.4 L872.0,2537.2 L874.0,2536.1 L876.0,2534.3 L878.0,2531.8 L880.0,2528.7 L882.0,2524.7 L884.0,2515.4 L886.0,2501.3 L888.0,2484.5 L890.0,2466.9 L892.0,2445.8 L894.0,2420.9 L896.0,2393.5 L898.0,2362.4 L900.0,2326.8 L902.0,2286.7 L904.0,2243.9 L906.0,2198.2 L908.0,2143.8 L910.0,2065.5 L912.0,1997.1 L914.0,1950.9 L916.0,1908.9 L918.0,1869.5 L920.0,1829.0 L922.0,1789.1 L924.0,1754.7 L926.0,1724.7 L928.0,1698.5 L930.0,1678.6 L932.0,1661.6 L934.0,1651.3 L936.0,1651.0 L938.0,1652.1 L940.0,1654.1 L942.0,1664.3 L944.0,1684.6 L946.0,1709.9 L948.0,1738.4 L950.0,1765.3 L952.0,1791.9 L954.0,1817.5 L956.0,1842.4 L958.0,1867.2 L960.0,1891.6 L962.0,1915.8 L964.0,1942.2 L966.0,1971.0 L968.0,2004.8 L970.0,2055.2 L972.0,2116.5 L974.0,2157.5 L976.0,2184.2 L978.0,2206.6 L980.0,2225.6 L982.0,2242.4 L984.0,2257.8 L986.0,2272.8 L988.0,2287.8 L990.0,2301.1 L992.0,2313.6 L994.0,2326.6 L996.0,2341.6 L998.0,2358.6 L1000.0,2376.1 L1002.0,2392.8 L1004.0,2407.6 L1006.0,2421.2 L1008.0,2434.2 L1010.0,2447.1 L1012.0,2460.2 L1014.0,2473.7 L1016.0,2487.0 L1018.0,2499.7 L1020.0,2511.4 L1022.0,2522.7 L1024.0,2534.2 L1026.0,2545.6 L1028.0,2556.6 L1030.0,2566.6 L1032.0,2575.3 L1034.0,2582.4 L1036.0,2587.3 L1038.0,2590.6 L1040.0,2593.4 L1042.0,2596.0 L1044.0,2598.3 L1046.0,2600.2 L1048.0,2601.8 L1050.0,2603.1 L1052.0,2604.1 L1054.0,2604.8 L1056.0,2605.4 L1058.0,2606.1 L1060.0,2606.6 L1062.0,2607.1 L1064.0,2607.4 L1066.0,2607.7 L1068.0,2607.8 L1070.0,2607.8 L1072.0,2607.3 L1074.0,2606.4 L1076.0,2605.1 L1078.0,2603.6 L1080.0,2602.0 L1082.0,2600.2 L1084.0,2597.5 L1086.0,2594.0 L1088.0,2589.9 L1090.0,2585.3 L1092.0,2580.5 L1094.0,2575.7 L1096.0,2570.8 L1098.0,2565.5 L1100.0,2559.9 L1102.0,2554.0 L1104.0,2547.9 L1106.0,2541.7 L1108.0,2534.9 L1110.0,2527.5 L1112.0,2520.3 L1114.0,2514.2 L1116.0,2509.2 L1118.0,2504.1 L1120.0,2499.4 L1122.0,2495.6 L1124.0,2493.2 L1126.0,2492.5 L1128.0,2493.2 L1130.0,2494.8 L1132.0,2497.0 L1134.0,2499.8 L1136.0,2502.9 L1138.0,2506.3 L1140.0,2509.8 L1142.0,2514.6 L1144.0,2520.5 L1146.0,2527.1 L1148.0,2533.7 L1150.0,2540.0 L1152.0,2546.1 L1154.0,2552.3 L1156.0,2558.1 L1158.0,2563.4 L1160.0,2568.5 L1162.0,2572.8 L1164.0,2576.0 L1166.0,2578.9 L1168.0,2581.5 L1170.0,2583.8 L1172.0,2585.9 L1174.0,2587.7 L1176.0,2589.3 L1178.0,2590.6 L1180.0,2591.8 L1182.0,2592.9 L1184.0,2594.0 L1186.0,2595.1 L1188.0,2596.3 L1190.0,2597.5 L1192.0,2598.7 L1194.0,2599.9 L1196.0,2601.1 L1198.0,2602.3 L1200.0,2603.5 L1202.0,2604.7 L1204.0,2605.8 L1206.0,2607.0 L1208.0,2608.2 L1210.0,2609.4 L1212.0,2610.7 L1214.0,2612.0 L1216.0,2613.3 L1218.0,2614.7 L1220.0,2616.1 L1222.0,2617.5 L1224.0,2619.0 L1226.0,2620.7 L1228.0,2622.5 L1230.0,2624.5 L1232.0,2626.4 L1234.0,2628.2 L1236.0,2629.9 L1238.0,2631.4 L1240.0,2632.7 L1242.0,2633.9 L1244.0,2635.1 L1246.0,2636.2 L1248.0,2637.3 L1250.0,2638.4 L1252.0,2639.4 L1254.0,2640.4 L1256.0,2641.4 L1258.0,2642.4 L1260.0,2643.4 L1262.0,2644.3 L1264.0,2645.4 L1266.0,2646.4 L1268.0,2647.4 L1270.0,2648.4 L1272.0,2649.4 L1274.0,2650.3 L1276.0,2651.2 L1278.0,2652.0 L1280.0,2652.8 L1282.0,2653.6 L1284.0,2654.4 L1286.0,2655.1 L1288.0,2656.0 L1290.0,2656.9 L1292.0,2657.8 L1294.0,2658.7 L1296.0,2659.6 L1298.0,2660.3 L1300.0,2660.9 L1302.0,2661.3 L1304.0,2661.8 L1306.0,2662.1 L1308.0,2662.5 L1310.0,2662.8 L1312.0,2663.2 L1314.0,2663.4 L1316.0,2663.7 L1318.0,2664.0 L1320.0,2664.2 L1322.0,2664.4 L1324.0,2664.7 L1326.0,2664.9 L1328.0,2665.1 L1330.0,2665.3 L1332.0,2665.6 L1334.0,2665.8 L1336.0,2666.1 L1338.0,2666.3 L1340.0,2666.6 L1342.0,2666.9 L1344.0,2667.2 L1346.0,2667.6 L1348.0,2668.0 L1350.0,2668.4 L1352.0,2668.9 L1354.0,2669.5 L1356.0,2670.2 L1358.0,2670.9 L1360.0,2671.8 L1362.0,2672.6 L1364.0,2673.5 L1366.0,2674.3 L1368.0,2675.1 L1370.0,2675.9 L1372.0,2676.7 L1374.0,2677.3 L1376.0,2677.9 L1378.0,2678.4 L1380.0,2678.7 L1382.0,2679.0 L1384.0,2679.3 L1386.0,2679.6 L1388.0,2679.9 L1390.0,2680.2 L1392.0,2680.5 L1394.0,2680.8 L1396.0,2681.0 L1398.0,2681.3 L1400.0,2681.5 L1402.0,2681.7 L1404.0,2681.9 L1406.0,2682.2 L1408.0,2682.4 L1410.0,2682.5 L1412.0,2682.7 L1414.0,2682.9 L1416.0,2683.1 L1418.0,2683.2 L1420.0,2683.4 L1422.0,2683.5 L1424.0,2683.7 L1426.0,2683.8 L1428.0,2683.9 L1430.0,2684.0 L1432.0,2684.1 L1434.0,2684.2 L1436.0,2684.3 L1438.0,2684.4 L1440.0,2684.4 L1442.0,2684.5 L1444.0,2684.6 L1446.0,2684.6 L1448.0,2684.7 L1450.0,2684.7 L1452.0,2684.8 L1454.0,2684.8 L1456.0,2684.9 L1458.0,2684.9 L1460.0,2685.0 L1462.0,2685.0 L1464.0,2685.0 L1466.0,2685.1 L1468.0,2685.1 L1470.0,2685.1 L1472.0,2685.2 L1474.0,2685.2 L1476.0,2685.3 L1478.0,2685.3 L1480.0,2685.3 L1482.0,2685.4 L1484.0,2685.4 L1486.0,2685.5 L1488.0,2685.5 L1490.0,2685.6 L1492.0,2685.7 L1494.0,2685.7 L1496.0,2685.8 L1498.0,2685.9 L1500.0,2686.0 L1502.0,2686.1 L1504.0,2686.2 L1506.0,2686.4 L1508.0,2686.5 L1510.0,2686.7 L1512.0,2686.8 L1514.0,2687.0 L1516.0,2687.1 L1518.0,2687.3 L1520.0,2687.5 L1522.0,2687.6 L1524.0,2687.8 L1526.0,2688.0 L1528.0,2688.2 L1530.0,2688.4 L1532.0,2688.5 L1534.0,2688.7 L1536.0,2688.9 L1538.0,2689.1 L1540.0,2689.2 L1542.0,2689.4 L1544.0,2689.5 L1546.0,2689.7 L1548.0,2689.8 L1550.0,2690.0 L1552.0,2690.1 L1554.0,2690.2 L1556.0,2690.3 L1558.0,2690.5 L1560.0,2690.6 L1562.0,2690.7 L1564.0,2690.9 L1566.0,2691.0 L1568.0,2691.1 L1570.0,2691.2 L1572.0,2691.3 L1574.0,2691.4 L1576.0,2691.5 L1578.0,2691.5 L1580.0,2691.5 L1582.0,2691.6 L1584.0,2691.5 L1586.0,2691.4 L1588.0,2691.2 L1590.0,2690.9 L1592.0,2690.7 L1594.0,2690.3 L1596.0,2690.0 L1598.0,2689.6 L1600.0,2689.2 L1602.0,2688.8 L1604.0,2688.4 L1606.0,2688.0 L1608.0,2687.6 L1610.0,2687.3 L1612.0,2686.9 L1614.0,2686.6 L1616.0,2686.2 L1618.0,2685.8 L1620.0,2685.4 L1622.0,2685.0 L1624.0,2684.6 L1626.0,2684.2 L1628.0,2683.8 L1630.0,2683.3 L1632.0,2682.9 L1634.0,2682.5 L1636.0,2682.1 L1638.0,2681.7 L1640.0,2681.3 L1642.0,2680.8 L1644.0,2680.4 L1646.0,2679.8 L1648.0,2679.3 L1650.0,2678.8 L1652.0,2678.3 L1654.0,2677.7 L1656.0,2677.3 L1658.0,2676.8 L1660.0,2676.4 L1662.0,2676.1 L1664.0,2675.9 L1666.0,2675.7 L1668.0,2675.6 L1670.0,2675.7 L1672.0,2675.7 L1674.0,2675.8 L1676.0,2675.9 L1678.0,2676.0 L1680.0,2676.2 L1682.0,2676.4 L1684.0,2676.6 L1686.0,2676.8 L1688.0,2677.1 L1690.0,2677.4 L1692.0,2677.7 L1694.0,2678.0 L1696.0,2678.3 L1698.0,2678.6 L1700.0,2679.0 L1702.0,2679.4 L1704.0,2679.7 L1706.0,2680.1 L1708.0,2680.5 L1710.0,2680.9 L1712.0,2681.3 L1714.0,2681.7 L1716.0,2682.1 L1718.0,2682.5 L1720.0,2682.9 L1722.0,2683.4 L1724.0,2683.9 L1726.0,2684.5 L1728.0,2685.2 L1730.0,2685.9 L1732.0,2686.6 L1734.0,2687.3 L1736.0,2688.0 L1738.0,2688.7 L1740.0,2689.3 L1742.0,2690.0 L1744.0,2690.5 L1746.0,2691.0 L1748.0,2691.4 L1750.0,2691.7 L1752.0,2692.1 L1754.0,2692.4 L1756.0,2692.8 L1758.0,2693.1 L1760.0,2693.4 L1762.0,2693.6 L1764.0,2693.9 L1766.0,2694.0 L1768.0,2694.2 L1770.0,2694.2 L1772.0,2694.2 L1774.0,2694.1 L1776.0,2694.0 L1778.0,2693.7 L1780.0,2693.4 L1782.0,2693.1 L1784.0,2692.7 L1786.0,2692.3 L1788.0,2691.9 L1790.0,2691.6 L1792.0,2691.2 L1794.0,2690.7 L1796.0,2690.2 L1798.0,2689.5 L1800.0,2688.9 L1802.0,2688.2 L1804.0,2687.5 L1806.0,2686.9 L1808.0,2686.4 L1810.0,2686.0 L1812.0,2685.7 L1814.0,2685.6 L1816.0,2685.6 L1818.0,2685.6 L1820.0,2685.7 L1822.0,2685.8 L1824.0,2686.0 L1826.0,2686.1 L1828.0,2686.3 L1830.0,2686.5 L1832.0,2686.7 L1834.0,2686.9 L1836.0,2687.2 L1838.0,2687.5 L1840.0,2687.8 L1842.0,2688.2 L1844.0,2688.7 L1846.0,2689.2 L1848.0,2689.7 L1850.0,2690.2 L1852.0,2690.7 L1854.0,2691.2 L1856.0,2691.6 L1858.0,2692.0 L1860.0,2692.4 L1862.0,2692.6 L1864.0,2692.8 L1866.0,2693.0 L1868.0,2693.1 L1870.0,2693.3 L1872.0,2693.4 L1874.0,2693.6 L1876.0,2693.7 L1878.0,2693.8 L1880.0,2693.9 L1882.0,2694.0 L1884.0,2694.1 L1886.0,2694.1 L1888.0,2694.2 L1890.0,2694.2 L1892.0,2694.2 L1894.0,2694.2 L1896.0,2694.2 L1898.0,2694.2 L1900.0,2694.2 L1902.0,2694.2 L1904.0,2694.2 L1906.0,2694.2 L1908.0,2694.2 L1910.0,2694.2 L1912.0,2694.2 L1914.0,2694.2 L1916.0,2694.2 L1918.0,2694.2 L1920.0,2694.2 L1922.0,2694.2 L1924.0,2694.2 L1926.0,2694.2 L1928.0,2694.2 L1930.0,2694.2 L1932.0,2694.2 L1934.0,2694.2 L1936.0,2694.2 L1938.0,2694.2 L1940.0,2694.2 L1942.0,2694.2 L1944.0,2694.2 L1946.0,2694.2 L1948.0,2694.2 L1950.0,2694.2 L1952.0,2694.2 L1954.0,2694.3 L1956.0,2694.3 L1958.0,2694.4 L1960.0,2694.5 L1962.0,2694.6 L1964.0,2694.7 L1966.0,2694.8 L1968.0,2695.0 L1970.0,2695.1 L1972.0,2695.2 L1974.0,2695.4 L1976.0,2695.5 L1978.0,2695.6 L1980.0,2695.7 L1982.0,2695.8 L1984.0,2695.9 L1986.0,2696.0 L1988.0,2696.2 L1990.0,2696.3 L1992.0,2696.4 L1994.0,2696.5 L1996.0,2696.6 L1998.0,2696.7 L2000.0,2696.8 L2002.0,2697.0 L2004.0,2697.1 L2006.0,2697.2 L2008.0,2697.3 L2010.0,2697.4 L2012.0,2697.6 L2014.0,2697.7 L2016.0,2697.8 L2018.0,2697.9 L2020.0,2698.1 L2022.0,2698.2 L2024.0,2698.3 L2026.0,2698.4 L2027.9,2698.6" stroke="#FF00FF"/>
<path d="M400.0,2704.9 L402.0,2705.1 L404.0,2705.3 L406.0,2705.5 L408.0,2705.7 L410.0,2705.9 L412.0,2706.0 L414.0,2706.2 L416.0,2706.4 L418.0,2706.6 L420.0,2706.8 L422.0,2706.9 L424.0,2707.1 L426.0,2707.3 L428.0,2707.5 L430.0,2707.6 L432.0,2707.8 L434.0,2708.0 L436.0,2708.1 L438.0,2708.3 L440.0,2708.4 L442.0,2708.6 L444.0,2708.7 L446.0,2708.9 L448.0,2709.0 L450.0,2709.2 L452.0,2709.3 L454.0,2709.4 L456.0,2709.6 L458.0,2709.7 L460.0,2709.8 L462.0,2709.9 L464.0,2710.0 L466.0,2710.2 L468.0,2710.3 L470.0,2710.4 L472.0,2710.5 L474.0,2710.6 L476.0,2710.7 L478.0,2710.8 L480.0,2710.8 L482.0,2710.9 L484.0,2711.0 L486.0,2711.1 L488.0,2711.2 L490.0,2711.3 L492.0,2711.4 L494.0,2711.5 L496.0,2711.6 L498.0,2711.7 L500.0,2711.8 L502.0,2711.9 L504.0,2712.0 L506.0,2712.0 L508.0,2712.1 L510.0,2712.2 L512.0,2712.3 L514.0,2712.4 L516.0,2712.4 L518.0,2712.5 L520.0,2712.6 L522.0,2712.6 L524.0,2712.7 L526.0,2712.8 L528.0,2712.8 L530.0,2712.9 L532.0,2712.9 L534.0,2713.0 L536.0,2713.0 L538.0,2713.1 L540.0,2713.1 L542.0,2713.1 L544.0,2713.1 L546.0,2713.2 L548.0,2713.2 L550.0,2713.2 L552.0,2713.1 L554.0,2712.7 L556.0,2711.8 L558.0,2710.5 L560.0,2709.0 L562.0,2707.3 L564.0,2705.6 L566.0,2703.8 L568.0,2701.6 L570.0,2699.1 L572.0,2696.2 L574.0,2692.9 L576.0,2689.2 L578.0,2684.9 L580.0,2679.5 L582.0,2673.2 L584.0,2665.8 L586.0,2657.6 L588.0,2648.7 L590.0,2639.0 L592.0,2628.7 L594.0,2616.6 L596.0,2602.1 L598.0,2585.8 L600.0,2568.2 L602.0,2549.7 L604.0,2530.9 L606.0,2512.1 L608.0,2493.5 L610.0,2473.3 L612.0,2451.9 L614.0,2430.1 L616.0,2408.5 L618.0,2387.9 L620.0,2369.1 L622.0,2352.7 L624.0,2337.6 L626.0,2322.5 L628.0,2309.0 L630.0,2298.4 L632.0,2292.0 L634.0,2289.0 L636.0,2286.4 L638.0,2284.4 L640.0,2282.8 L642.0,2281.7 L644.0,2281.1 L646.0,2280.7 L648.0,2280.5 L650.0,2280.3 L652.0,2280.0 L654.0,2279.5 L656.0,2277.5 L658.0,2273.7 L660.0,2268.7 L662.0,2262.8 L664.0,2255.3 L666.0,2244.2 L668.0,2230.4 L670.0,2215.3 L672.0,2199.8 L674.0,2183.9 L676.0,2165.8 L678.0,2147.4 L680.0,2130.9 L682.0,2115.8 L684.0,2099.8 L686.0,2083.6 L688.0,2067.4 L690.0,2051.9 L692.0,2037.5 L694.0,2024.7 L696.0,2013.9 L698.0,2005.7 L700.0,2000.5 L702.0,1998.8 L704.0,1999.5 L706.0,2001.5 L708.0,2004.8 L710.0,2009.4 L712.0,2015.1 L714.0,2022.1 L716.0,2030.2 L718.0,2039.5 L720.0,2049.9 L722.0,2061.3 L724.0,2073.9 L726.0,2087.5 L728.0,2102.1 L730.0,2117.6 L732.0,2134.2 L734.0,2151.6 L736.0,2170.0 L738.0,2189.3 L740.0,2209.4 L742.0,2230.3 L744.0,2256.2 L746.0,2308.4 L748.0,2348.9 L750.0,2360.5 L752.0,2369.1 L754.0,2375.6 L756.0,2380.8 L758.0,2385.3 L760.0,2389.8 L762.0,2394.6 L764.0,2399.0 L766.0,2403.0 L768.0,2406.7 L770.0,2410.4 L772.0,2414.1 L774.0,2418.0 L776.0,2421.9 L778.0,2425.7 L780.0,2429.4 L782.0,2433.2 L784.0,2437.2 L786.0,2441.5 L788.0,2446.2 L790.0,2451.6 L792.0,2457.5 L794.0,2463.8 L796.0,2470.3 L798.0,2476.6 L800.0,2482.7 L802.0,2488.2 L804.0,2493.9 L806.0,2499.6 L808.0,2505.0 L810.0,2510.2 L812.0,2514.8 L814.0,2518.6 L816.0,2521.8 L818.0,2525.0 L820.0,2527.6 L822.0,2529.1 L824.0,2529.1 L826.0,2527.9 L828.0,2525.9 L830.0,2523.3 L832.0,2520.3 L834.0,2516.3 L836.0,2510.0 L838.0,2502.3 L840.0,2493.8 L842.0,2485.3 L844.0,2476.4 L846.0,2466.6 L848.0,2456.2 L850.0,2445.5 L852.0,2435.0 L854.0,2424.8 L856.0,2415.3 L858.0,2405.5 L860.0,2395.7 L862.0,2386.8 L864.0,2379.7 L866.0,2374.8 L868.0,2370.5 L870.0,2366.6 L872.0,2363.5 L874.0,2361.5 L876.0,2360.9 L878.0,2361.6 L880.0,2363.3 L882.0,2365.6 L884.0,2368.7 L886.0,2373.8 L888.0,2379.9 L890.0,2385.7 L892.0,2392.6 L894.0,2399.8 L896.0,2405.2 L898.0,2407.2 L900.0,2407.5 L902.0,2406.8 L904.0,2401.7 L906.0,2393.6 L908.0,2380.6 L910.0,2361.6 L912.0,2342.7 L914.0,2322.0 L916.0,2299.9 L918.0,2272.6 L920.0,2235.1 L922.0,2191.1 L924.0,2145.5 L926.0,2098.7 L928.0,2049.0 L930.0,1995.5 L932.0,1936.3 L934.0,1892.7 L936.0,1854.5 L938.0,1812.5 L940.0,1776.3 L942.0,1746.9 L944.0,1724.9 L946.0,1707.0 L948.0,1693.1 L950.0,1689.0 L952.0,1693.6 L954.0,1703.3 L956.0,1718.4 L958.0,1751.4 L960.0,1784.1 L962.0,1817.9 L964.0,1850.9 L966.0,1884.0 L968.0,1919.7 L970.0,1957.8 L972.0,1998.0 L974.0,2041.0 L976.0,2087.4 L978.0,2133.0 L980.0,2175.5 L982.0,2218.7 L984.0,2257.0 L986.0,2284.1 L988.0,2301.7 L990.0,2315.8 L992.0,2330.9 L994.0,2349.3 L996.0,2369.4 L998.0,2391.2 L1000.0,2415.5 L1002.0,2441.4 L1004.0,2468.7 L1006.0,2496.7 L1008.0,2514.7 L1010.0,2528.1 L1012.0,2537.6 L1014.0,2543.7 L1016.0,2548.0 L1018.0,2552.2 L1020.0,2557.7 L1022.0,2566.7 L1024.0,2578.0 L1026.0,2588.5 L1028.0,2595.6 L1030.0,2601.6 L1032.0,2606.8 L1034.0,2610.9 L1036.0,2613.4 L1038.0,2614.5 L1040.0,2615.3 L1042.0,2615.9 L1044.0,2615.9 L1046.0,2614.0 L1048.0,2610.5 L1050.0,2605.8 L1052.0,2600.5 L1054.0,2595.2 L1056.0,2590.4 L1058.0,2585.5 L1060.0,2580.3 L1062.0,2574.8 L1064.0,2569.1 L1066.0,2563.2 L1068.0,2557.0 L1070.0,2550.5 L1072.0,2543.9 L1074.0,2537.1 L1076.0,2529.9 L1078.0,2522.3 L1080.0,2513.9 L1082.0,2504.6 L1084.0,2493.6 L1086.0,2479.0 L1088.0,2462.3 L1090.0,2445.8 L1092.0,2431.5 L1094.0,2419.2 L1096.0,2406.3 L1098.0,2393.6 L1100.0,2381.8 L1102.0,2371.8 L1104.0,2364.4 L1106.0,2360.3 L1108.0,2360.0 L1110.0,2362.5 L1112.0,2367.1 L1114.0,2373.1 L1116.0,2380.1 L1118.0,2387.7 L1120.0,2395.2 L1122.0,2402.2 L1124.0,2408.4 L1126.0,2414.3 L1128.0,2420.3 L1130.0,2426.4 L1132.0,2432.6 L1134.0,2438.7 L1136.0,2444.9 L1138.0,2451.0 L1140.0,2457.0 L1142.0,2463.0 L1144.0,2468.8 L1146.0,2474.5 L1148.0,2480.1 L1150.0,2485.6 L1152.0,2490.9 L1154.0,2496.3 L1156.0,2501.5 L1158.0,2506.7 L1160.0,2511.8 L1162.0,2517.0 L1164.0,2522.1 L1166.0,2527.1 L1168.0,2532.2 L1170.0,2537.3 L1172.0,2542.3 L1174.0,2547.3 L1176.0,2552.3 L1178.0,2557.3 L1180.0,2562.3 L1182.0,2567.4 L1184.0,2572.8 L1186.0,2578.1 L1188.0,2582.7 L1190.0,2586.8 L1192.0,2590.7 L1194.0,2594.5 L1196.0,2598.4 L1198.0,2602.1 L1200.0,2605.0 L1202.0,2607.5 L1204.0,2609.8 L1206.0,2611.9 L1208.0,2613.8 L1210.0,2615.4 L1212.0,2616.9 L1214.0,2618.2 L1216.0,2619.6 L1218.0,2620.9 L1220.0,2621.9 L1222.0,2622.7 L1224.0,2623.0 L1226.0,2623.0 L1228.0,2622.7 L1230.0,2622.1 L1232.0,2621.5 L1234.0,2620.7 L1236.0,2619.5 L1238.0,2617.5 L1240.0,2615.0 L1242.0,2612.1 L1244.0,2609.0 L1246.0,2605.3 L1248.0,2601.0 L1250.0,2596.2 L1252.0,2590.9 L1254.0,2585.0 L1256.0,2579.0 L1258.0,2573.0 L1260.0,2566.6 L1262.0,2559.4 L1264.0,2551.0 L1266.0,2542.2 L1268.0,2534.1 L1270.0,2526.4 L1272.0,2518.8 L1274.0,2511.3 L1276.0,2503.7 L1278.0,2495.9 L1280.0,2487.1 L1282.0,2477.5 L1284.0,2467.4 L1286.0,2456.9 L1288.0,2446.6 L1290.0,2436.5 L1292.0,2427.1 L1294.0,2418.6 L1296.0,2411.3 L1298.0,2405.5 L1300.0,2401.4 L1302.0,2399.4 L1304.0,2399.7 L1306.0,2401.6 L1308.0,2404.9 L1310.0,2409.5 L1312.0,2414.9 L1314.0,2421.1 L1316.0,2427.7 L1318.0,2434.5 L1320.0,2441.3 L1322.0,2447.8 L1324.0,2453.8 L1326.0,2459.9 L1328.0,2466.7 L1330.0,2473.9 L1332.0,2481.3 L1334.0,2489.0 L1336.0,2496.6 L1338.0,2504.2 L1340.0,2511.5 L1342.0,2518.5 L1344.0,2525.0 L1346.0,2530.8 L1348.0,2535.8 L1350.0,2540.0 L1352.0,2543.4 L1354.0,2546.5 L1356.0,2549.2 L1358.0,2551.7 L1360.0,2554.1 L1362.0,2556.3 L1364.0,2558.7 L1366.0,2561.1 L1368.0,2563.7 L1370.0,2566.5 L1372.0,2569.5 L1374.0,2572.6 L1376.0,2575.6 L1378.0,2578.5 L1380.0,2581.2 L1382.0,2583.5 L1384.0,2585.4 L1386.0,2586.9 L1388.0,2588.4 L1390.0,2589.8 L1392.0,2591.2 L1394.0,2592.5 L1396.0,2593.7 L1398.0,2594.8 L1400.0,2595.8 L1402.0,2596.5 L1404.0,2597.1 L1406.0,2597.4 L1408.0,2597.5 L1410.0,2597.5 L1412.0,2597.4 L1414.0,2597.2 L1416.0,2597.0 L1418.0,2596.7 L1420.0,2596.4 L1422.0,2596.1 L1424.0,2595.8 L1426.0,2595.6 L1428.0,2595.3 L1430.0,2595.1 L1432.0,2594.9 L1434.0,2594.7 L1436.0,2594.7 L1438.0,2594.7 L1440.0,2595.0 L1442.0,2595.5 L1444.0,2596.3 L1446.0,2597.2 L1448.0,2598.3 L1450.0,2599.5 L1452.0,2600.8 L1454.0,2602.1 L1456.0,2603.4 L1458.0,2604.7 L1460.0,2606.0 L1462.0,2607.2 L1464.0,2608.3 L1466.0,2609.2 L1468.0,2610.1 L1470.0,2611.1 L1472.0,2612.0 L1474.0,2612.9 L1476.0,2613.8 L1478.0,2614.7 L1480.0,2615.6 L1482.0,2616.5 L1484.0,2617.3 L1486.0,2618.0 L1488.0,2618.8 L1490.0,2619.4 L1492.0,2620.0 L1494.0,2620.5 L1496.0,2621.0 L1498.0,2621.5 L1500.0,2621.9 L1502.0,2622.4 L1504.0,2622.8 L1506.0,2623.1 L1508.0,2623.3 L1510.0,2623.5 L1512.0,2623.6 L1514.0,2623.5 L1516.0,2623.4 L1518.0,2623.2 L1520.0,2622.9 L1522.0,2622.6 L1524.0,2622.3 L1526.0,2622.0 L1528.0,2621.6 L1530.0,2621.3 L1532.0,2621.1 L1534.0,2620.9 L1536.0,2620.7 L1538.0,2620.7 L1540.0,2620.8 L1542.0,2621.0 L1544.0,2621.3 L1546.0,2621.8 L1548.0,2622.3 L1550.0,2622.9 L1552.0,2623.4 L1554.0,2624.1 L1556.0,2624.8 L1558.0,2625.8 L1560.0,2626.9 L1562.0,2628.0 L1564.0,2629.3 L1566.0,2630.7 L1568.0,2632.0 L1570.0,2633.4 L1572.0,2634.9 L1574.0,2636.3 L1576.0,2637.6 L1578.0,2638.9 L1580.0,2640.1 L1582.0,2641.3 L1584.0,2642.3 L1586.0,2643.4 L1588.0,2644.5 L1590.0,2645.6 L1592.0,2646.7 L1594.0,2647.8 L1596.0,2648.8 L1598.0,2649.9 L1600.0,2650.9 L1602.0,2651.8 L1604.0,2652.8 L1606.0,2653.6 L1608.0,2654.5 L1610.0,2655.3 L1612.0,2656.0 L1614.0,2656.8 L1616.0,2657.5 L1618.0,2658.2 L1620.0,2658.9 L1622.0,2659.6 L1624.0,2660.3 L1626.0,2660.9 L1628.0,2661.5 L1630.0,2662.1 L1632.0,2662.6 L1634.0,2663.1 L1636.0,2663.5 L1638.0,2663.9 L1640.0,2664.2 L1642.0,2664.5 L1644.0,2664.7 L1646.0,2664.9 L1648.0,2665.2 L1650.0,2665.3 L1652.0,2665.5 L1654.0,2665.7 L1656.0,2665.9 L1658.0,2666.0 L1660.0,2666.2 L1662.0,2666.4 L1664.0,2666.6 L1666.0,2666.7 L1668.0,2666.9 L1670.0,2667.2 L1672.0,2667.4 L1674.0,2667.6 L1676.0,2667.8 L1678.0,2668.0 L1680.0,2668.2 L1682.0,2668.5 L1684.0,2668.7 L1686.0,2668.9 L1688.0,2669.1 L1690.0,2669.3 L1692.0,2669.6 L1694.0,2669.8 L1696.0,2670.0 L1698.0,2670.2 L1700.0,2670.5 L1702.0,2670.7 L1704.0,2670.9 L1706.0,2671.1 L1708.0,2671.4 L1710.0,2671.6 L1712.0,2671.8 L1714.0,2672.0 L1716.0,2672.2 L1718.0,2672.4 L1720.0,2672.6 L1722.0,2672.9 L1724.0,2673.1 L1726.0,2673.4 L1728.0,2673.7 L1730.0,2673.9 L1732.0,2674.2 L1734.0,2674.4 L1736.0,2674.7 L1738.0,2674.9 L1740.0,2675.1 L1742.0,2675.2 L1744.0,2675.3 L1746.0,2675.4 L1748.0,2675.4 L1750.0,2675.4 L1752.0,2675.4 L1754.0,2675.3 L1756.0,2675.3 L1758.0,2675.2 L1760.0,2675.2 L1762.0,2675.1 L1764.0,2675.0 L1766.0,2674.9 L1768.0,2674.8 L1770.0,2674.7 L1772.0,2674.6 L1774.0,2674.5 L1776.0,2674.4 L1778.0,2674.3 L1780.0,2674.2 L1782.0,2674.1 L1784.0,2674.1 L1786.0,2674.0 L1788.0,2674.0 L1790.0,2674.0 L1792.0,2674.0 L1794.0,2674.0 L1796.0,2674.0 L1798.0,2674.1 L1800.0,2674.2 L1802.0,2674.2 L1804.0,2674.3 L1806.0,2674.4 L1808.0,2674.6 L1810.0,2674.7 L1812.0,2674.8 L1814.0,2675.0 L1816.0,2675.1 L1818.0,2675.3 L1820.0,2675.4 L1822.0,2675.6 L1824.0,2675.8 L1826.0,2676.0 L1828.0,2676.3 L1830.0,2676.6 L1832.0,2676.9 L1834.0,2677.2 L1836.0,2677.6 L1838.0,2677.9 L1840.0,2678.3 L1842.0,2678.6 L1844.0,2678.9 L1846.0,2679.3 L1848.0,2679.6 L1850.0,2679.9 L1852.0,2680.2 L1854.0,2680.6 L1856.0,2680.9 L1858.0,2681.2 L1860.0,2681.6 L1862.0,2681.9 L1864.0,2682.3 L1866.0,2682.6 L1868.0,2682.9 L1870.0,2683.2 L1872.0,2683.5 L1874.0,2683.7 L1876.0,2683.9 L1878.0,2684.1 L1880.0,2684.3 L1882.0,2684.4 L1884.0,2684.5 L1886.0,2684.7 L1888.0,2684.8 L1890.0,2685.0 L1892.0,2685.1 L1894.0,2685.2 L1896.0,2685.3 L1898.0,2685.4 L1900.0,2685.4 L1902.0,2685.5 L1904.0,2685.5 L1906.0,2685.5 L1908.0,2685.5 L1910.0,2685.5 L1912.0,2685.4 L1914.0,2685.2 L1916.0,2685.0 L1918.0,2684.8 L1920.0,2684.5 L1922.0,2684.1 L1924.0,2683.8 L1926.0,2683.4 L1928.0,2683.0 L1930.0,2682.6 L1932.0,2682.1 L1934.0,2681.7 L1936.0,2681.2 L1938.0,2680.6 L1940.0,2680.0 L1942.0,2679.2 L1944.0,2678.3 L1946.0,2677.3 L1948.0,2676.3 L1950.0,2675.1 L1952.0,2673.9 L1954.0,2672.6 L1956.0,2671.2 L1958.0,2669.6 L1960.0,2667.8 L1962.0,2665.8 L1964.0,2663.5 L1966.0,2661.0 L1968.0,2658.4 L1970.0,2655.7 L1972.0,2652.9 L1974.0,2650.1 L1976.0,2647.0 L1978.0,2643.5 L1980.0,2639.8 L1982.0,2636.0 L1984.0,2632.2 L1986.0,2628.4 L1988.0,2624.7 L1990.0,2621.0 L1992.0,2617.3 L1994.0,2613.5 L1996.0,2609.7 L1998.0,2606.1 L2000.0,2602.6 L2002.0,2599.4 L2004.0,2596.4 L2006.0,2593.3 L2008.0,2590.3 L2010.0,2587.5 L2012.0,2584.9 L2014.0,2582.6 L2016.0,2580.7 L2018.0,2579.2 L2020.0,2577.8 L2022.0,2576.5 L2024.0,2575.5 L2026.0,2574.7 L2027.9,2574.2" stroke="#000080"/>
<path d="M400.0,2765.0 L402.0,2765.0 L404.0,2765.0 L406.0,2765.0 L408.0,2765.0 L410.0,2765.0 L412.0,2765.0 L414.0,2765.0 L416.0,2765.0 L418.0,2765.0 L420.0,2765.0 L422.0,2765.0 L424.0,2765.0 L426.0,2765.0 L428.0,2765.0 L430.0,2764.9 L432.0,2764.9 L434.0,2764.9 L436.0,2764.9 L438.0,2764.9 L440.0,2764.9 L442.0,2764.9 L444.0,2764.9 L446.0,2764.9 L448.0,2764.8 L450.0,2764.8 L452.0,2764.8 L454.0,2764.8 L456.0,2764.8 L458.0,2764.7 L460.0,2764.7 L462.0,2764.7 L464.0,2764.7 L466.0,2764.6 L468.0,2764.6 L470.0,2764.6 L472.0,2764.6 L474.0,2764.5 L476.0,2764.5 L478.0,2764.5 L480.0,2764.4 L482.0,2764.4 L484.0,2764.4 L486.0,2764.3 L488.0,2764.3 L490.0,2764.2 L492.0,2764.2 L494.0,2764.1 L496.0,2764.1 L498.0,2764.0 L500.0,2764.0 L502.0,2763.9 L504.0,2763.9 L506.0,2763.8 L508.0,2763.8 L510.0,2763.7 L512.0,2763.6 L514.0,2763.6 L516.0,2763.5 L518.0,2763.4 L520.0,2763.4 L522.0,2763.3 L524.0,2763.2 L526.0,2763.1 L528.0,2763.0 L530.0,2763.0 L532.0,2762.9 L534.0,2762.8 L536.0,2762.7 L538.0,2762.6 L540.0,2762.5 L542.0,2762.4 L544.0,2762.3 L546.0,2762.2 L548.0,2762.1 L550.0,2762.0 L552.0,2761.4 L554.0,2759.8 L556.0,2757.6 L558.0,2754.9 L560.0,2752.1 L562.0,2749.3 L564.0,2746.2 L566.0,2742.8 L568.0,2738.9 L570.0,2734.7 L572.0,2730.1 L574.0,2725.2 L576.0,2719.9 L578.0,2714.3 L580.0,2708.1 L582.0,2701.0 L584.0,2693.0 L586.0,2684.0 L588.0,2673.4 L590.0,2660.5 L592.0,2645.5 L594.0,2628.7 L596.0,2610.7 L598.0,2591.8 L600.0,2572.4 L602.0,2552.9 L604.0,2531.7 L606.0,2508.0 L608.0,2482.9 L610.0,2457.3 L612.0,2432.2 L614.0,2408.4 L616.0,2387.1 L618.0,2368.5 L620.0,2349.9 L622.0,2332.2 L624.0,2316.9 L626.0,2305.7 L628.0,2299.5 L630.0,2294.7 L632.0,2290.6 L634.0,2287.5 L636.0,2285.8 L638.0,2285.6 L640.0,2286.9 L642.0,2289.4 L644.0,2292.8 L646.0,2296.7 L648.0,2300.8 L650.0,2304.8 L652.0,2308.4 L654.0,2311.1 L656.0,2312.9 L658.0,2313.1 L660.0,2311.7 L662.0,2308.8 L664.0,2304.9 L666.0,2300.4 L668.0,2295.4 L670.0,2288.1 L672.0,2278.3 L674.0,2266.6 L676.0,2253.8 L678.0,2240.7 L680.0,2228.1 L682.0,2216.7 L684.0,2206.3 L686.0,2194.8 L688.0,2182.8 L690.0,2171.1 L692.0,2160.8 L694.0,2152.4 L696.0,2147.1 L698.0,2145.4 L700.0,2145.5 L702.0,2146.0 L704.0,2150.0 L706.0,2157.3 L708.0,2167.0 L710.0,2178.2 L712.0,2189.9 L714.0,2201.3 L716.0,2214.2 L718.0,2229.2 L720.0,2245.3 L722.0,2261.6 L724.0,2277.0 L726.0,2291.5 L728.0,2305.9 L730.0,2320.4 L732.0,2335.6 L734.0,2351.8 L736.0,2370.8 L738.0,2386.1 L740.0,2398.0 L742.0,2408.9 L744.0,2419.3 L746.0,2428.7 L748.0,2437.2 L750.0,2445.1 L752.0,2452.0 L754.0,2457.5 L756.0,2462.2 L758.0,2466.3 L760.0,2470.4 L762.0,2474.5 L764.0,2478.5 L766.0,2482.5 L768.0,2486.4 L770.0,2490.4 L772.0,2494.4 L774.0,2498.5 L776.0,2502.4 L778.0,2506.3 L780.0,2510.2 L782.0,2514.0 L784.0,2517.9 L786.0,2522.0 L788.0,2526.3 L790.0,2530.7 L792.0,2535.2 L794.0,2539.5 L796.0,2543.7 L798.0,2548.0 L800.0,2552.3 L802.0,2556.5 L804.0,2560.5 L806.0,2564.2 L808.0,2567.5 L810.0,2570.6 L812.0,2573.9 L814.0,2577.1 L816.0,2579.7 L818.0,2581.5 L820.0,2582.3 L822.0,2581.8 L824.0,2580.3 L826.0,2578.0 L828.0,2575.0 L830.0,2571.6 L832.0,2568.0 L834.0,2563.4 L836.0,2556.7 L838.0,2548.8 L840.0,2540.5 L842.0,2532.9 L844.0,2525.5 L846.0,2517.8 L848.0,2510.3 L850.0,2503.5 L852.0,2497.7 L854.0,2492.2 L856.0,2487.0 L858.0,2482.3 L860.0,2478.3 L862.0,2475.3 L864.0,2472.9 L866.0,2470.7 L868.0,2469.0 L870.0,2468.2 L872.0,2468.6 L874.0,2470.0 L876.0,2472.3 L878.0,2475.1 L880.0,2478.0 L882.0,2480.9 L884.0,2483.8 L886.0,2487.6 L888.0,2491.9 L890.0,2496.0 L892.0,2499.7 L894.0,2502.3 L896.0,2503.5 L898.0,2501.1 L900.0,2496.1 L902.0,2490.5 L904.0,2483.0 L906.0,2470.9 L908.0,2449.5 L910.0,2425.8 L912.0,2398.8 L914.0,2367.8 L916.0,2332.8 L918.0,2305.7 L920.0,2282.3 L922.0,2249.3 L924.0,2209.5 L926.0,2168.8 L928.0,2132.4 L930.0,2098.6 L932.0,2065.6 L934.0,2031.9 L936.0,1995.1 L938.0,1953.2 L940.0,1921.4 L942.0,1896.2 L944.0,1880.9 L946.0,1880.3 L948.0,1881.8 L950.0,1888.8 L952.0,1914.6 L954.0,1942.8 L956.0,1965.1 L958.0,1987.8 L960.0,2015.5 L962.0,2054.0 L964.0,2098.6 L966.0,2140.8 L968.0,2175.4 L970.0,2207.0 L972.0,2236.7 L974.0,2265.3 L976.0,2293.5 L978.0,2320.6 L980.0,2344.3 L982.0,2366.1 L984.0,2383.7 L986.0,2395.2 L988.0,2404.1 L990.0,2414.8 L992.0,2429.3 L994.0,2445.1 L996.0,2460.0 L998.0,2473.8 L1000.0,2490.0 L1002.0,2515.0 L1004.0,2544.6 L1006.0,2564.0 L1008.0,2577.9 L1010.0,2591.1 L1012.0,2603.7 L1014.0,2615.5 L1016.0,2626.3 L1018.0,2636.2 L1020.0,2645.1 L1022.0,2652.7 L1024.0,2659.2 L1026.0,2664.3 L1028.0,2667.9 L1030.0,2670.1 L1032.0,2670.7 L1034.0,2669.8 L1036.0,2667.6 L1038.0,2664.3 L1040.0,2660.0 L1042.0,2654.9 L1044.0,2648.9 L1046.0,2637.1 L1048.0,2619.7 L1050.0,2599.0 L1052.0,2577.0 L1054.0,2553.6 L1056.0,2524.7 L1058.0,2495.9 L1060.0,2473.4 L1062.0,2455.1 L1064.0,2438.1 L1066.0,2422.8 L1068.0,2409.8 L1070.0,2399.6 L1072.0,2392.3 L1074.0,2386.0 L1076.0,2380.2 L1078.0,2375.0 L1080.0,2370.8 L1082.0,2367.6 L1084.0,2365.8 L1086.0,2365.6 L1088.0,2366.3 L1090.0,2367.9 L1092.0,2370.1 L1094.0,2372.8 L1096.0,2376.0 L1098.0,2379.4 L1100.0,2383.0 L1102.0,2387.6 L1104.0,2393.9 L1106.0,2401.7 L1108.0,2410.7 L1110.0,2420.6 L1112.0,2431.0 L1114.0,2441.8 L1116.0,2452.7 L1118.0,2463.2 L1120.0,2473.2 L1122.0,2482.4 L1124.0,2490.6 L1126.0,2498.5 L1128.0,2506.5 L1130.0,2514.4 L1132.0,2522.2 L1134.0,2529.8 L1136.0,2537.2 L1138.0,2544.2 L1140.0,2550.9 L1142.0,2557.1 L1144.0,2562.8 L1146.0,2568.0 L1148.0,2572.2 L1150.0,2575.9 L1152.0,2580.3 L1154.0,2584.9 L1156.0,2589.6 L1158.0,2594.4 L1160.0,2599.1 L1162.0,2603.6 L1164.0,2607.9 L1166.0,2612.1 L1168.0,2616.2 L1170.0,2620.2 L1172.0,2624.1 L1174.0,2627.8 L1176.0,2631.4 L1178.0,2634.8 L1180.0,2638.2 L1182.0,2641.4 L1184.0,2644.5 L1186.0,2647.4 L1188.0,2650.2 L1190.0,2653.0 L1192.0,2655.7 L1194.0,2658.2 L1196.0,2660.6 L1198.0,2662.6 L1200.0,2664.3 L1202.0,2665.8 L1204.0,2667.3 L1206.0,2668.5 L1208.0,2669.3 L1210.0,2669.5 L1212.0,2669.2 L1214.0,2668.6 L1216.0,2667.7 L1218.0,2666.5 L1220.0,2664.7 L1222.0,2661.5 L1224.0,2657.6 L1226.0,2653.3 L1228.0,2649.2 L1230.0,2644.6 L1232.0,2639.5 L1234.0,2633.9 L1236.0,2627.3 L1238.0,2619.6 L1240.0,2611.1 L1242.0,2601.4 L1244.0,2590.8 L1246.0,2578.6 L1248.0,2565.6 L1250.0,2554.0 L1252.0,2543.7 L1254.0,2536.0 L1256.0,2529.6 L1258.0,2524.0 L1260.0,2518.9 L1262.0,2513.9 L1264.0,2508.7 L1266.0,2502.8 L1268.0,2496.4 L1270.0,2490.1 L1272.0,2484.0 L1274.0,2478.5 L1276.0,2474.0 L1278.0,2470.8 L1280.0,2469.3 L1282.0,2469.5 L1284.0,2470.9 L1286.0,2473.4 L1288.0,2476.7 L1290.0,2480.6 L1292.0,2485.0 L1294.0,2489.8 L1296.0,2494.7 L1298.0,2499.5 L1300.0,2505.1 L1302.0,2512.0 L1304.0,2520.0 L1306.0,2528.9 L1308.0,2538.2 L1310.0,2547.8 L1312.0,2557.4 L1314.0,2566.6 L1316.0,2575.2 L1318.0,2582.8 L1320.0,2589.3 L1322.0,2594.3 L1324.0,2598.9 L1326.0,2603.4 L1328.0,2607.6 L1330.0,2611.6 L1332.0,2615.5 L1334.0,2619.1 L1336.0,2622.6 L1338.0,2625.8 L1340.0,2628.8 L1342.0,2631.5 L1344.0,2634.0 L1346.0,2636.3 L1348.0,2638.3 L1350.0,2640.0 L1352.0,2641.5 L1354.0,2642.9 L1356.0,2644.1 L1358.0,2645.2 L1360.0,2646.2 L1362.0,2647.2 L1364.0,2648.1 L1366.0,2649.0 L1368.0,2649.9 L1370.0,2650.9 L1372.0,2651.9 L1374.0,2653.0 L1376.0,2654.3 L1378.0,2655.7 L1380.0,2657.1 L1382.0,2658.6 L1384.0,2660.0 L1386.0,2661.2 L1388.0,2662.4 L1390.0,2663.2 L1392.0,2663.8 L1394.0,2664.1 L1396.0,2664.3 L1398.0,2664.4 L1400.0,2664.5 L1402.0,2664.6 L1404.0,2664.7 L1406.0,2664.8 L1408.0,2664.8 L1410.0,2664.9 L1412.0,2665.0 L1414.0,2665.0 L1416.0,2665.1 L1418.0,2665.2 L1420.0,2665.3 L1422.0,2665.5 L1424.0,2665.7 L1426.0,2666.1 L1428.0,2666.6 L1430.0,2667.2 L1432.0,2667.8 L1434.0,2668.6 L1436.0,2669.4 L1438.0,2670.3 L1440.0,2671.1 L1442.0,2672.0 L1444.0,2672.9 L1446.0,2673.7 L1448.0,2674.5 L1450.0,2675.2 L1452.0,2675.9 L1454.0,2676.6 L1456.0,2677.3 L1458.0,2678.1 L1460.0,2678.9 L1462.0,2679.7 L1464.0,2680.5 L1466.0,2681.3 L1468.0,2682.0 L1470.0,2682.6 L1472.0,2683.2 L1474.0,2683.6 L1476.0,2684.0 L1478.0,2684.2 L1480.0,2684.3 L1482.0,2684.3 L1484.0,2684.3 L1486.0,2684.3 L1488.0,2684.3 L1490.0,2684.3 L1492.0,2684.3 L1494.0,2684.3 L1496.0,2684.3 L1498.0,2684.3 L1500.0,2684.3 L1502.0,2684.3 L1504.0,2684.3 L1506.0,2684.3 L1508.0,2684.3 L1510.0,2684.3 L1512.0,2684.3 L1514.0,2684.4 L1516.0,2684.5 L1518.0,2684.8 L1520.0,2685.1 L1522.0,2685.6 L1524.0,2686.0 L1526.0,2686.6 L1528.0,2687.1 L1530.0,2687.7 L1532.0,2688.3 L1534.0,2688.9 L1536.0,2689.5 L1538.0,2690.1 L1540.0,2690.7 L1542.0,2691.4 L1544.0,2692.1 L1546.0,2692.9 L1548.0,2693.7 L1550.0,2694.6 L1552.0,2695.5 L1554.0,2696.4 L1556.0,2697.2 L1558.0,2698.1 L1560.0,2699.0 L1562.0,2699.8 L1564.0,2700.6 L1566.0,2701.3 L1568.0,2702.0 L1570.0,2702.8 L1572.0,2703.6 L1574.0,2704.4 L1576.0,2705.2 L1578.0,2706.0 L1580.0,2706.7 L1582.0,2707.5 L1584.0,2708.2 L1586.0,2708.8 L1588.0,2709.3 L1590.0,2709.8 L1592.0,2710.1 L1594.0,2710.3 L1596.0,2710.4 L1598.0,2710.4 L1600.0,2710.4 L1602.0,2710.4 L1604.0,2710.4 L1606.0,2710.4 L1608.0,2710.4 L1610.0,2710.4 L1612.0,2710.4 L1614.0,2710.4 L1616.0,2710.4 L1618.0,2710.4 L1620.0,2710.4 L1622.0,2710.4 L1624.0,2710.4 L1626.0,2710.3 L1628.0,2710.3 L1630.0,2710.1 L1632.0,2709.9 L1634.0,2709.7 L1636.0,2709.4 L1638.0,2709.1 L1640.0,2708.8 L1642.0,2708.5 L1644.0,2708.2 L1646.0,2708.0 L1648.0,2707.8 L1650.0,2707.6 L1652.0,2707.5 L1654.0,2707.5 L1656.0,2707.5 L1658.0,2707.6 L1660.0,2707.7 L1662.0,2707.8 L1664.0,2708.0 L1666.0,2708.2 L1668.0,2708.4 L1670.0,2708.7 L1672.0,2708.9 L1674.0,2709.2 L1676.0,2709.5 L1678.0,2709.7 L1680.0,2710.0 L1682.0,2710.3 L1684.0,2710.5 L1686.0,2710.9 L1688.0,2711.3 L1690.0,2711.7 L1692.0,2712.2 L1694.0,2712.7 L1696.0,2713.2 L1698.0,2713.7 L1700.0,2714.2 L1702.0,2714.8 L1704.0,2715.3 L1706.0,2715.7 L1708.0,2716.1 L1710.0,2716.5 L1712.0,2716.8 L1714.0,2717.1 L1716.0,2717.3 L1718.0,2717.4 L1720.0,2717.4 L1722.0,2717.4 L1724.0,2717.4 L1726.0,2717.4 L1728.0,2717.4 L1730.0,2717.4 L1732.0,2717.4 L1734.0,2717.4 L1736.0,2717.4 L1738.0,2717.4 L1740.0,2717.4 L1742.0,2717.4 L1744.0,2717.4 L1746.0,2717.4 L1748.0,2717.4 L1750.0,2717.4 L1752.0,2717.4 L1754.0,2717.4 L1756.0,2717.4 L1758.0,2717.4 L1760.0,2717.5 L1762.0,2717.6 L1764.0,2717.7 L1766.0,2717.9 L1768.0,2718.0 L1770.0,2718.2 L1772.0,2718.4 L1774.0,2718.6 L1776.0,2718.8 L1778.0,2719.0 L1780.0,2719.2 L1782.0,2719.4 L1784.0,2719.6 L1786.0,2719.8 L1788.0,2720.0 L1790.0,2720.2 L1792.0,2720.3 L1794.0,2720.5 L1796.0,2720.7 L1798.0,2720.9 L1800.0,2721.1 L1802.0,2721.3 L1804.0,2721.5 L1806.0,2721.7 L1808.0,2721.9 L1810.0,2722.1 L1812.0,2722.3 L1814.0,2722.5 L1816.0,2722.8 L1818.0,2723.0 L1820.0,2723.2 L1822.0,2723.4 L1824.0,2723.6 L1826.0,2723.8 L1828.0,2724.0 L1830.0,2724.2 L1832.0,2724.4 L1834.0,2724.5 L1836.0,2724.7 L1838.0,2724.9 L1840.0,2725.1 L1842.0,2725.3 L1844.0,2725.5 L1846.0,2725.7 L1848.0,2725.9 L1850.0,2726.1 L1852.0,2726.3 L1854.0,2726.5 L1856.0,2726.7 L1858.0,2726.9 L1860.0,2727.0 L1862.0,2727.1 L1864.0,2727.3 L1866.0,2727.4 L1868.0,2727.4 L1870.0,2727.5 L1872.0,2727.5 L1874.0,2727.5 L1876.0,2727.4 L1878.0,2727.3 L1880.0,2727.2 L1882.0,2727.1 L1884.0,2726.9 L1886.0,2726.7 L1888.0,2726.5 L1890.0,2726.2 L1892.0,2726.0 L1894.0,2725.7 L1896.0,2725.4 L1898.0,2725.1 L1900.0,2724.8 L1902.0,2724.5 L1904.0,2724.1 L1906.0,2723.6 L1908.0,2723.0 L1910.0,2722.4 L1912.0,2721.7 L1914.0,2720.9 L1916.0,2720.0 L1918.0,2719.1 L1920.0,2718.1 L1922.0,2717.0 L1924.0,2715.7 L1926.0,2714.0 L1928.0,2712.1 L1930.0,2709.9 L1932.0,2707.6 L1934.0,2705.2 L1936.0,2702.8 L1938.0,2700.1 L1940.0,2697.1 L1942.0,2693.9 L1944.0,2690.5 L1946.0,2687.0 L1948.0,2683.6 L1950.0,2680.3 L1952.0,2677.0 L1954.0,2673.7 L1956.0,2670.2 L1958.0,2666.8 L1960.0,2663.5 L1962.0,2660.4 L1964.0,2657.6 L1966.0,2655.2 L1968.0,2652.7 L1970.0,2650.3 L1972.0,2648.1 L1974.0,2646.1 L1976.0,2644.3 L1978.0,2642.9 L1980.0,2641.8 L1982.0,2640.8 L1984.0,2639.9 L1986.0,2639.1 L1988.0,2638.5 L1990.0,2638.0 L1992.0,2637.8 L1994.0,2638.0 L1996.0,2638.7 L1998.0,2639.7 L2000.0,2641.0 L2002.0,2642.6 L2004.0,2644.3 L2006.0,2646.0 L2008.0,2647.8 L2010.0,2649.6 L2012.0,2651.6 L2014.0,2653.8 L2016.0,2656.2 L2018.0,2658.8 L2020.0,2661.6 L2022.0,2664.5 L2024.0,2667.6 L2026.0,2670.9 L2027.9,2674.0" stroke="#8000FF"/>
</g>
<line x1="400.3" y1="1560.5" x2="400.3" y2="2768" stroke="#000" stroke-width="3.9" stroke-linecap="round"/>
<line x1="400.3" y1="2742.4" x2="2028.3" y2="2742.4" stroke="#000" stroke-width="3.9" stroke-linecap="round"/>
<line x1="375" y1="2708.8" x2="400.3" y2="2708.8" stroke="#000" stroke-width="3.7" stroke-linecap="round"/>
<text x="358.5" y="2724.0" text-anchor="end" class="tb">0</text>
<line x1="375" y1="2573.8" x2="400.3" y2="2573.8" stroke="#000" stroke-width="3.7" stroke-linecap="round"/>
<text x="358.5" y="2589.0" text-anchor="end" class="tb">20</text>
<line x1="375" y1="2438.8" x2="400.3" y2="2438.8" stroke="#000" stroke-width="3.7" stroke-linecap="round"/>
<text x="358.5" y="2454.0" text-anchor="end" class="tb">40</text>
<line x1="375" y1="2303.8" x2="400.3" y2="2303.8" stroke="#000" stroke-width="3.7" stroke-linecap="round"/>
<text x="358.5" y="2319.0" text-anchor="end" class="tb">60</text>
<line x1="375" y1="2168.8" x2="400.3" y2="2168.8" stroke="#000" stroke-width="3.7" stroke-linecap="round"/>
<text x="358.5" y="2184.0" text-anchor="end" class="tb">80</text>
<line x1="375" y1="2033.8" x2="400.3" y2="2033.8" stroke="#000" stroke-width="3.7" stroke-linecap="round"/>
<text x="358.5" y="2049.0" text-anchor="end" class="tb">100</text>
<line x1="375" y1="1898.8" x2="400.3" y2="1898.8" stroke="#000" stroke-width="3.7" stroke-linecap="round"/>
<text x="358.5" y="1914.0" text-anchor="end" class="tb">120</text>
<line x1="375" y1="1763.8" x2="400.3" y2="1763.8" stroke="#000" stroke-width="3.7" stroke-linecap="round"/>
<text x="358.5" y="1779.0" text-anchor="end" class="tb">140</text>
<line x1="375" y1="1628.8" x2="400.3" y2="1628.8" stroke="#000" stroke-width="3.7" stroke-linecap="round"/>
<text x="358.5" y="1644.0" text-anchor="end" class="tb">160</text>
<line x1="387" y1="2641.3" x2="400.3" y2="2641.3" stroke="#000" stroke-width="3.7" stroke-linecap="round"/>
<line x1="387" y1="2506.3" x2="400.3" y2="2506.3" stroke="#000" stroke-width="3.7" stroke-linecap="round"/>
<line x1="387" y1="2371.3" x2="400.3" y2="2371.3" stroke="#000" stroke-width="3.7" stroke-linecap="round"/>
<line x1="387" y1="2236.3" x2="400.3" y2="2236.3" stroke="#000" stroke-width="3.7" stroke-linecap="round"/>
<line x1="387" y1="2101.3" x2="400.3" y2="2101.3" stroke="#000" stroke-width="3.7" stroke-linecap="round"/>
<line x1="387" y1="1966.3" x2="400.3" y2="1966.3" stroke="#000" stroke-width="3.7" stroke-linecap="round"/>
<line x1="387" y1="1831.3" x2="400.3" y2="1831.3" stroke="#000" stroke-width="3.7" stroke-linecap="round"/>
<line x1="387" y1="1696.3" x2="400.3" y2="1696.3" stroke="#000" stroke-width="3.7" stroke-linecap="round"/>
<line x1="387" y1="1561.3" x2="400.3" y2="1561.3" stroke="#000" stroke-width="3.7" stroke-linecap="round"/>
<line x1="400.3" y1="2742.4" x2="400.3" y2="2768" stroke="#000" stroke-width="3.7" stroke-linecap="round"/>
<text x="400.3" y="2823" text-anchor="middle" class="tb">1.0</text>
<line x1="617.3" y1="2742.4" x2="617.3" y2="2768" stroke="#000" stroke-width="3.7" stroke-linecap="round"/>
<text x="617.3" y="2823" text-anchor="middle" class="tb">1.2</text>
<line x1="834.3" y1="2742.4" x2="834.3" y2="2768" stroke="#000" stroke-width="3.7" stroke-linecap="round"/>
<text x="834.3" y="2823" text-anchor="middle" class="tb">1.4</text>
<line x1="1051.3" y1="2742.4" x2="1051.3" y2="2768" stroke="#000" stroke-width="3.7" stroke-linecap="round"/>
<text x="1051.3" y="2823" text-anchor="middle" class="tb">1.6</text>
<line x1="1268.3" y1="2742.4" x2="1268.3" y2="2768" stroke="#000" stroke-width="3.7" stroke-linecap="round"/>
<text x="1268.3" y="2823" text-anchor="middle" class="tb">1.8</text>
<line x1="1485.3" y1="2742.4" x2="1485.3" y2="2768" stroke="#000" stroke-width="3.7" stroke-linecap="round"/>
<text x="1485.3" y="2823" text-anchor="middle" class="tb">2.0</text>
<line x1="1702.3" y1="2742.4" x2="1702.3" y2="2768" stroke="#000" stroke-width="3.7" stroke-linecap="round"/>
<text x="1702.3" y="2823" text-anchor="middle" class="tb">2.2</text>
<line x1="1919.3" y1="2742.4" x2="1919.3" y2="2768" stroke="#000" stroke-width="3.7" stroke-linecap="round"/>
<text x="1919.3" y="2823" text-anchor="middle" class="tb">2.4</text>
<line x1="508.8" y1="2742.4" x2="508.8" y2="2755" stroke="#000" stroke-width="3.7" stroke-linecap="round"/>
<line x1="725.8" y1="2742.4" x2="725.8" y2="2755" stroke="#000" stroke-width="3.7" stroke-linecap="round"/>
<line x1="942.8" y1="2742.4" x2="942.8" y2="2755" stroke="#000" stroke-width="3.7" stroke-linecap="round"/>
<line x1="1159.8" y1="2742.4" x2="1159.8" y2="2755" stroke="#000" stroke-width="3.7" stroke-linecap="round"/>
<line x1="1376.8" y1="2742.4" x2="1376.8" y2="2755" stroke="#000" stroke-width="3.7" stroke-linecap="round"/>
<line x1="1593.8" y1="2742.4" x2="1593.8" y2="2755" stroke="#000" stroke-width="3.7" stroke-linecap="round"/>
<line x1="1810.8" y1="2742.4" x2="1810.8" y2="2755" stroke="#000" stroke-width="3.7" stroke-linecap="round"/>
<line x1="2027.8" y1="2742.4" x2="2027.8" y2="2755" stroke="#000" stroke-width="3.7" stroke-linecap="round"/>
<text x="227.7" y="2194.5" transform="rotate(-90 227.7 2194.5)" text-anchor="middle" class="tbl">mAU</text>
<text x="1214" y="2928.5" text-anchor="middle" class="tbl" textLength="286" lengthAdjust="spacingAndGlyphs">Time(min)</text>
<line x1="1160.3" y1="1877.7" x2="1108.4" y2="2059.5" stroke="#FF0000" stroke-width="2.2"/>
<text x="1145.5" y="1863.8" fill="#FF0000" class="tann">S0</text>
<line x1="1232.4" y1="1974.5" x2="1110.7" y2="2356.2" stroke="#000080" stroke-width="2.2"/>
<text x="1234" y="1970.9" fill="#000080" class="tann">S3</text>
<line x1="1273" y1="2062.8" x2="1141.5" y2="2399.2" stroke="#000000" stroke-width="2.2"/>
<text x="1261" y="2052.9" fill="#000000" class="tann">S1</text>
<line x1="1060.2" y1="2089.3" x2="1066.1" y2="2367.1" stroke="#8000FF" stroke-width="2.2"/>
<text x="1033" y="2076" fill="#8000FF" class="tann">S2</text>
<line x1="1287.6" y1="2173.4" x2="1135" y2="2484.6" stroke="#FF00FF" stroke-width="2.2"/>
<text x="1285" y="2145.5" fill="#FF00FF" class="tann">S4</text>
<line x1="1322.3" y1="2250.4" x2="1145.5" y2="2505" stroke="#0000FF" stroke-width="2.2"/>
<text x="1305.8" y="2228.9" fill="#0000FF" class="tann">C0</text>
<line x1="1322.3" y1="2333" x2="1126.9" y2="2590.5" stroke="#008000" stroke-width="2.2"/>
<text x="1317.4" y="2324.1" fill="#008000" class="tann">C1</text>
<defs><pattern id="h0" patternUnits="userSpaceOnUse" width="20" height="33.6" patternTransform="translate(443.1,3291.6) skewY(43.5)"><rect x="0" y="0" width="20" height="33.6" fill="#8a8a8a"/><path d="M-1,0 H21 M-1,33.6 H21" stroke="#000" stroke-width="3.3"/></pattern><pattern id="h1" patternUnits="userSpaceOnUse" width="20" height="33.6" patternTransform="translate(539.5,3523.9) skewY(43.5)"><rect x="0" y="0" width="20" height="33.6" fill="#8a8a8a"/><path d="M-1,0 H21 M-1,33.6 H21" stroke="#000" stroke-width="3.3"/></pattern><pattern id="h2" patternUnits="userSpaceOnUse" width="20" height="33.6" patternTransform="translate(635.9,3630.4) skewY(43.5)"><rect x="0" y="0" width="20" height="33.6" fill="#8a8a8a"/><path d="M-1,0 H21 M-1,33.6 H21" stroke="#000" stroke-width="3.3"/></pattern><pattern id="h3" patternUnits="userSpaceOnUse" width="20" height="33.6" patternTransform="translate(732.3,3719.4) skewY(43.5)"><rect x="0" y="0" width="20" height="33.6" fill="#8a8a8a"/><path d="M-1,0 H21 M-1,33.6 H21" stroke="#000" stroke-width="3.3"/></pattern><pattern id="h4" patternUnits="userSpaceOnUse" width="20" height="33.6" patternTransform="translate(828.7,4030.3) skewY(43.5)"><rect x="0" y="0" width="20" height="33.6" fill="#8a8a8a"/><path d="M-1,0 H21 M-1,33.6 H21" stroke="#000" stroke-width="3.3"/></pattern><pattern id="h6" patternUnits="userSpaceOnUse" width="20" height="33.6" patternTransform="translate(1021.5,4029.1) skewY(43.5)"><rect x="0" y="0" width="20" height="33.6" fill="#8a8a8a"/><path d="M-1,0 H21 M-1,33.6 H21" stroke="#000" stroke-width="3.3"/></pattern><pattern id="h7" patternUnits="userSpaceOnUse" width="20" height="33.6" patternTransform="translate(1117.9,4103.8) skewY(43.5)"><rect x="0" y="0" width="20" height="33.6" fill="#8a8a8a"/><path d="M-1,0 H21 M-1,33.6 H21" stroke="#000" stroke-width="3.3"/></pattern></defs>
<rect x="443.1" y="3291.6" width="75.6" height="1002.3" fill="url(#h0)" stroke="#000" stroke-width="3.2"/>
<line x1="480.9" y1="3268.5" x2="480.9" y2="3315.4" stroke="#1a1a1a" stroke-width="2.2"/>
<line x1="468.9" y1="3268.5" x2="492.9" y2="3268.5" stroke="#2a2a2a" stroke-width="2.2"/>
<line x1="468.9" y1="3315.4" x2="492.9" y2="3315.4" stroke="#2a2a2a" stroke-width="2.2"/>
<text x="480.9" y="3254.5" text-anchor="middle" class="tcl">a</text>
<rect x="539.5" y="3523.9" width="75.6" height="770.0" fill="url(#h1)" stroke="#000" stroke-width="3.2"/>
<line x1="577.3" y1="3507.5" x2="577.3" y2="3538.8" stroke="#1a1a1a" stroke-width="2.2"/>
<line x1="565.3" y1="3507.5" x2="589.3" y2="3507.5" stroke="#2a2a2a" stroke-width="2.2"/>
<line x1="565.3" y1="3538.8" x2="589.3" y2="3538.8" stroke="#2a2a2a" stroke-width="2.2"/>
<text x="577.3" y="3492.6" text-anchor="middle" class="tcl">b</text>
<rect x="635.9" y="3630.4" width="75.6" height="663.5" fill="url(#h2)" stroke="#000" stroke-width="3.2"/>
<line x1="673.7" y1="3618.0" x2="673.7" y2="3641.3" stroke="#1a1a1a" stroke-width="2.2"/>
<line x1="661.7" y1="3618.0" x2="685.7" y2="3618.0" stroke="#2a2a2a" stroke-width="2.2"/>
<line x1="661.7" y1="3641.3" x2="685.7" y2="3641.3" stroke="#2a2a2a" stroke-width="2.2"/>
<text x="673.7" y="3603" text-anchor="middle" class="tcl">c</text>
<rect x="732.3" y="3719.4" width="75.6" height="574.5" fill="url(#h3)" stroke="#000" stroke-width="3.2"/>
<line x1="770.1" y1="3716.9" x2="770.1" y2="3721.8" stroke="#1a1a1a" stroke-width="2.2"/>
<line x1="758.1" y1="3716.9" x2="782.1" y2="3716.9" stroke="#2a2a2a" stroke-width="2.2"/>
<line x1="758.1" y1="3721.8" x2="782.1" y2="3721.8" stroke="#2a2a2a" stroke-width="2.2"/>
<text x="770.1" y="3695.5" text-anchor="middle" class="tcl">d</text>
<rect x="828.7" y="4030.3" width="75.6" height="263.6" fill="url(#h4)" stroke="#000" stroke-width="3.2"/>
<line x1="866.5" y1="3989.9" x2="866.5" y2="4070.4" stroke="#1a1a1a" stroke-width="2.2"/>
<line x1="854.5" y1="3989.9" x2="878.5" y2="3989.9" stroke="#2a2a2a" stroke-width="2.2"/>
<line x1="854.5" y1="4070.4" x2="878.5" y2="4070.4" stroke="#2a2a2a" stroke-width="2.2"/>
<text x="866.5" y="3959.5" text-anchor="middle" class="tcl">e</text>
<rect x="1021.5" y="4029.1" width="75.6" height="264.8" fill="url(#h6)" stroke="#000" stroke-width="3.2"/>
<line x1="1059.3" y1="4024.6" x2="1059.3" y2="4034.0" stroke="#1a1a1a" stroke-width="2.2"/>
<line x1="1047.3" y1="4024.6" x2="1071.3" y2="4024.6" stroke="#2a2a2a" stroke-width="2.2"/>
<line x1="1047.3" y1="4034.0" x2="1071.3" y2="4034.0" stroke="#2a2a2a" stroke-width="2.2"/>
<text x="1059.3" y="3992" text-anchor="middle" class="tcl">e</text>
<rect x="1117.9" y="4103.8" width="75.6" height="190.1" fill="url(#h7)" stroke="#000" stroke-width="3.2"/>
<line x1="1155.7" y1="4076.6" x2="1155.7" y2="4130.7" stroke="#1a1a1a" stroke-width="2.2"/>
<line x1="1143.7" y1="4076.6" x2="1167.7" y2="4076.6" stroke="#2a2a2a" stroke-width="2.2"/>
<line x1="1143.7" y1="4130.7" x2="1167.7" y2="4130.7" stroke="#2a2a2a" stroke-width="2.2"/>
<text x="1155.7" y="4060.6" text-anchor="middle" class="tcl">f</text>
<line x1="404.2" y1="3118.0" x2="404.2" y2="4293.9" stroke="#000" stroke-width="4"/>
<line x1="378.5" y1="4293.9" x2="2023.3" y2="4293.9" stroke="#000" stroke-width="4"/>
<line x1="378.1" y1="4293.9" x2="404.2" y2="4293.9" stroke="#000" stroke-width="3.2"/>
<text x="362" y="4307.2" text-anchor="end" class="tc">0.0</text>
<line x1="378.1" y1="4196.0" x2="404.2" y2="4196.0" stroke="#000" stroke-width="3.2"/>
<text x="362" y="4209.3" text-anchor="end" class="tc">0.5</text>
<line x1="378.1" y1="4098.2" x2="404.2" y2="4098.2" stroke="#000" stroke-width="3.2"/>
<text x="362" y="4111.5" text-anchor="end" class="tc">1.0</text>
<line x1="378.1" y1="4000.3" x2="404.2" y2="4000.3" stroke="#000" stroke-width="3.2"/>
<text x="362" y="4013.6" text-anchor="end" class="tc">1.5</text>
<line x1="378.1" y1="3902.4" x2="404.2" y2="3902.4" stroke="#000" stroke-width="3.2"/>
<text x="362" y="3915.7" text-anchor="end" class="tc">2.0</text>
<line x1="378.1" y1="3804.6" x2="404.2" y2="3804.6" stroke="#000" stroke-width="3.2"/>
<text x="362" y="3817.9" text-anchor="end" class="tc">2.5</text>
<line x1="378.1" y1="3706.7" x2="404.2" y2="3706.7" stroke="#000" stroke-width="3.2"/>
<text x="362" y="3720.0" text-anchor="end" class="tc">3.0</text>
<line x1="378.1" y1="3608.8" x2="404.2" y2="3608.8" stroke="#000" stroke-width="3.2"/>
<text x="362" y="3622.1" text-anchor="end" class="tc">3.5</text>
<line x1="378.1" y1="3511.0" x2="404.2" y2="3511.0" stroke="#000" stroke-width="3.2"/>
<text x="362" y="3524.3" text-anchor="end" class="tc">4.0</text>
<line x1="378.1" y1="3413.1" x2="404.2" y2="3413.1" stroke="#000" stroke-width="3.2"/>
<text x="362" y="3426.4" text-anchor="end" class="tc">4.5</text>
<line x1="378.1" y1="3315.2" x2="404.2" y2="3315.2" stroke="#000" stroke-width="3.2"/>
<text x="362" y="3328.5" text-anchor="end" class="tc">5.0</text>
<line x1="378.1" y1="3217.4" x2="404.2" y2="3217.4" stroke="#000" stroke-width="3.2"/>
<text x="362" y="3230.7" text-anchor="end" class="tc">5.5</text>
<line x1="378.1" y1="3119.5" x2="404.2" y2="3119.5" stroke="#000" stroke-width="3.2"/>
<text x="362" y="3132.8" text-anchor="end" class="tc">6.0</text>
<line x1="390.5" y1="4245.0" x2="404.2" y2="4245.0" stroke="#000" stroke-width="3.2"/>
<line x1="390.5" y1="4147.1" x2="404.2" y2="4147.1" stroke="#000" stroke-width="3.2"/>
<line x1="390.5" y1="4049.2" x2="404.2" y2="4049.2" stroke="#000" stroke-width="3.2"/>
<line x1="390.5" y1="3951.4" x2="404.2" y2="3951.4" stroke="#000" stroke-width="3.2"/>
<line x1="390.5" y1="3853.5" x2="404.2" y2="3853.5" stroke="#000" stroke-width="3.2"/>
<line x1="390.5" y1="3755.6" x2="404.2" y2="3755.6" stroke="#000" stroke-width="3.2"/>
<line x1="390.5" y1="3657.8" x2="404.2" y2="3657.8" stroke="#000" stroke-width="3.2"/>
<line x1="390.5" y1="3559.9" x2="404.2" y2="3559.9" stroke="#000" stroke-width="3.2"/>
<line x1="390.5" y1="3462.0" x2="404.2" y2="3462.0" stroke="#000" stroke-width="3.2"/>
<line x1="390.5" y1="3364.2" x2="404.2" y2="3364.2" stroke="#000" stroke-width="3.2"/>
<line x1="390.5" y1="3266.3" x2="404.2" y2="3266.3" stroke="#000" stroke-width="3.2"/>
<line x1="390.5" y1="3168.5" x2="404.2" y2="3168.5" stroke="#000" stroke-width="3.2"/>
<line x1="480.9" y1="4293.9" x2="480.9" y2="4318.8" stroke="#000" stroke-width="3.3"/>
<text x="0" y="0" transform="translate(509.9,4357) rotate(-45)" text-anchor="end" class="tcx">S0</text>
<line x1="577.3" y1="4293.9" x2="577.3" y2="4318.8" stroke="#000" stroke-width="3.3"/>
<text x="0" y="0" transform="translate(606.3,4357) rotate(-45)" text-anchor="end" class="tcx">S1</text>
<line x1="673.7" y1="4293.9" x2="673.7" y2="4318.8" stroke="#000" stroke-width="3.3"/>
<text x="0" y="0" transform="translate(702.7,4357) rotate(-45)" text-anchor="end" class="tcx">S2</text>
<line x1="770.1" y1="4293.9" x2="770.1" y2="4318.8" stroke="#000" stroke-width="3.3"/>
<text x="0" y="0" transform="translate(799.1,4357) rotate(-45)" text-anchor="end" class="tcx">S3</text>
<line x1="866.5" y1="4293.9" x2="866.5" y2="4318.8" stroke="#000" stroke-width="3.3"/>
<text x="0" y="0" transform="translate(895.5,4357) rotate(-45)" text-anchor="end" class="tcx">S4</text>
<line x1="962.9" y1="4293.9" x2="962.9" y2="4318.8" stroke="#000" stroke-width="3.3"/>
<text x="0" y="0" transform="translate(991.9,4357) rotate(-45)" text-anchor="end" class="tcx">S5</text>
<line x1="1059.3" y1="4293.9" x2="1059.3" y2="4318.8" stroke="#000" stroke-width="3.3"/>
<text x="0" y="0" transform="translate(1088.3,4357) rotate(-45)" text-anchor="end" class="tcx">C0</text>
<line x1="1155.7" y1="4293.9" x2="1155.7" y2="4318.8" stroke="#000" stroke-width="3.3"/>
<text x="0" y="0" transform="translate(1184.7,4357) rotate(-45)" text-anchor="end" class="tcx">C1</text>
<line x1="1252.1" y1="4293.9" x2="1252.1" y2="4318.8" stroke="#000" stroke-width="3.3"/>
<text x="0" y="0" transform="translate(1281.1,4357) rotate(-45)" text-anchor="end" class="tcx">C2</text>
<line x1="1348.5" y1="4293.9" x2="1348.5" y2="4318.8" stroke="#000" stroke-width="3.3"/>
<text x="0" y="0" transform="translate(1377.5,4357) rotate(-45)" text-anchor="end" class="tcx">C3</text>
<line x1="1444.9" y1="4293.9" x2="1444.9" y2="4318.8" stroke="#000" stroke-width="3.3"/>
<text x="0" y="0" transform="translate(1473.9,4357) rotate(-45)" text-anchor="end" class="tcx">F1-0</text>
<line x1="1541.3" y1="4293.9" x2="1541.3" y2="4318.8" stroke="#000" stroke-width="3.3"/>
<text x="0" y="0" transform="translate(1570.3,4357) rotate(-45)" text-anchor="end" class="tcx">F1-1</text>
<line x1="1637.7" y1="4293.9" x2="1637.7" y2="4318.8" stroke="#000" stroke-width="3.3"/>
<text x="0" y="0" transform="translate(1666.7,4357) rotate(-45)" text-anchor="end" class="tcx">F1-2</text>
<line x1="1734.1" y1="4293.9" x2="1734.1" y2="4318.8" stroke="#000" stroke-width="3.3"/>
<text x="0" y="0" transform="translate(1763.1,4357) rotate(-45)" text-anchor="end" class="tcx">F2-0</text>
<line x1="1830.5" y1="4293.9" x2="1830.5" y2="4318.8" stroke="#000" stroke-width="3.3"/>
<text x="0" y="0" transform="translate(1859.5,4357) rotate(-45)" text-anchor="end" class="tcx">F2-1</text>
<line x1="1926.9" y1="4293.9" x2="1926.9" y2="4318.8" stroke="#000" stroke-width="3.3"/>
<text x="0" y="0" transform="translate(1955.9,4357) rotate(-45)" text-anchor="end" class="tcx">F2-2</text>
<line x1="2023.3" y1="4293.9" x2="2023.3" y2="4318.8" stroke="#000" stroke-width="3.3"/>
<line x1="370" y1="3131.4" x2="2030" y2="3131.4" stroke="#ffffff" stroke-opacity="0.55" stroke-width="1.2"/>
<line x1="370" y1="3262.4" x2="2030" y2="3262.4" stroke="#ffffff" stroke-opacity="0.55" stroke-width="1.2"/>
<line x1="370" y1="3393.4" x2="2030" y2="3393.4" stroke="#ffffff" stroke-opacity="0.55" stroke-width="1.2"/>
<line x1="370" y1="3655.4" x2="2030" y2="3655.4" stroke="#ffffff" stroke-opacity="0.55" stroke-width="1.2"/>
<line x1="370" y1="3786.4" x2="2030" y2="3786.4" stroke="#ffffff" stroke-opacity="0.55" stroke-width="1.2"/>
<line x1="370" y1="3917.4" x2="2030" y2="3917.4" stroke="#ffffff" stroke-opacity="0.55" stroke-width="1.2"/>
<line x1="370" y1="4048.4" x2="2030" y2="4048.4" stroke="#ffffff" stroke-opacity="0.55" stroke-width="1.2"/>
<line x1="370" y1="4179.4" x2="2030" y2="4179.4" stroke="#ffffff" stroke-opacity="0.55" stroke-width="1.2"/>
<text x="244.3" y="3686" transform="rotate(-90 244.3 3686)" text-anchor="middle" class="tcy">The content of vitaminC（mg/100g）</text>
<text x="789" y="4530.6" class="tcap" textLength="793.6" lengthAdjust="spacingAndGlyphs">Samples during the processing</text>
<text x="1097" y="1499" text-anchor="middle" class="cap">(<tspan font-weight="bold">a</tspan>)</text>
<text x="1097" y="3042" text-anchor="middle" class="cap">(<tspan font-weight="bold">b</tspan>)</text>
<text x="1096" y="4654" text-anchor="middle" class="cap" style="font-size:90px">(<tspan font-weight="bold">c</tspan>)</text>
</svg></body></html>
